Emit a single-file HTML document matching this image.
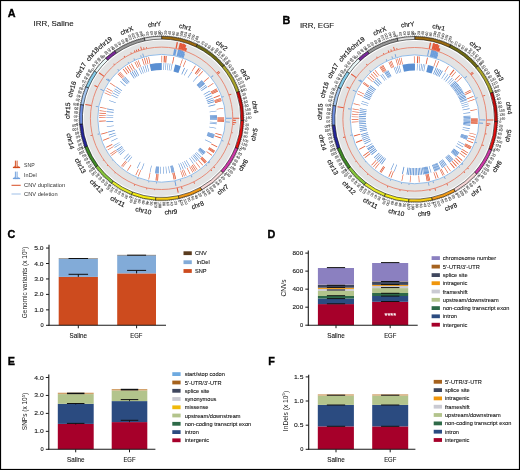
<!DOCTYPE html><html><head><meta charset="utf-8"><style>html,body{margin:0;padding:0;background:#fff;font-family:"Liberation Sans",sans-serif;}svg{display:block;will-change:transform;}</style></head><body><svg width="520" height="470" viewBox="0 0 520 470" font-family="Liberation Sans, sans-serif"><rect x="0.5" y="0.5" width="519" height="469" fill="#fff" stroke="#000" stroke-width="1.2"/>
<text x="7.7" y="17.2" font-size="10.8" font-family='"Liberation Sans", sans-serif' font-weight="bold" stroke="#000" stroke-width="0.35">A</text>
<text x="282.6" y="24" font-size="10.8" font-family='"Liberation Sans", sans-serif' font-weight="bold" stroke="#000" stroke-width="0.35">B</text>
<text x="33.5" y="26.2" font-size="7.95" fill="#1a1a1a" stroke="#1a1a1a" stroke-width="0.12" font-family='"Liberation Sans", sans-serif'>IRR, Saline</text>
<text x="299.9" y="28.3" font-size="7.9" fill="#1a1a1a" stroke="#1a1a1a" stroke-width="0.12" font-family='"Liberation Sans", sans-serif'>IRR, EGF</text>
<g transform="translate(161.6 118.3) scale(1 1)">
<circle r="70.8" fill="none" stroke="#e3e3e3" stroke-width="13.8"/>
<path d="M0 -82.1A82.1 82.1 0 0 1 35.76 -73.9L34.49 -71.29A79.2 79.2 0 0 0 0 -79.2Z" fill="#9a6a12" stroke="#111" stroke-width="0.6"/>
<path d="M35.76 -73.9A82.1 82.1 0 0 1 62.78 -52.91L60.56 -51.04A79.2 79.2 0 0 0 34.49 -71.29Z" fill="#6e6a14" stroke="#111" stroke-width="0.6"/>
<path d="M62.78 -52.91A82.1 82.1 0 0 1 77.63 -26.71L74.89 -25.77A79.2 79.2 0 0 0 60.56 -51.04Z" fill="#a9a42a" stroke="#111" stroke-width="0.6"/>
<path d="M77.63 -26.71A82.1 82.1 0 0 1 82.06 2.41L79.17 2.33A79.2 79.2 0 0 0 74.89 -25.77Z" fill="#c40a0a" stroke="#111" stroke-width="0.6"/>
<path d="M82.06 2.41A82.1 82.1 0 0 1 76.26 30.41L73.57 29.33A79.2 79.2 0 0 0 79.17 2.33Z" fill="#e01010" stroke="#111" stroke-width="0.6"/>
<path d="M76.26 30.41A82.1 82.1 0 0 1 61.47 54.42L59.3 52.5A79.2 79.2 0 0 0 73.57 29.33Z" fill="#cc3aa8" stroke="#111" stroke-width="0.6"/>
<path d="M61.47 54.42A82.1 82.1 0 0 1 40.14 71.62L38.72 69.09A79.2 79.2 0 0 0 59.3 52.5Z" fill="#f6d6d6" stroke="#111" stroke-width="0.6"/>
<path d="M40.14 71.62A82.1 82.1 0 0 1 17.32 80.25L16.71 77.42A79.2 79.2 0 0 0 38.72 69.09Z" fill="#f09a18" stroke="#111" stroke-width="0.6"/>
<path d="M17.32 80.25A82.1 82.1 0 0 1 -6.12 81.87L-5.91 78.98A79.2 79.2 0 0 0 16.71 77.42Z" fill="#f7cc14" stroke="#111" stroke-width="0.6"/>
<path d="M-6.12 81.87A82.1 82.1 0 0 1 -30.14 76.37L-29.08 73.67A79.2 79.2 0 0 0 -5.91 78.98Z" fill="#f6ec10" stroke="#111" stroke-width="0.6"/>
<path d="M-30.14 76.37A82.1 82.1 0 0 1 -50.17 64.99L-48.4 62.69A79.2 79.2 0 0 0 -29.08 73.67Z" fill="#e2e82a" stroke="#111" stroke-width="0.6"/>
<path d="M-50.17 64.99A82.1 82.1 0 0 1 -66.02 48.8L-63.69 47.07A79.2 79.2 0 0 0 -48.4 62.69Z" fill="#86c43a" stroke="#111" stroke-width="0.6"/>
<path d="M-66.02 48.8A82.1 82.1 0 0 1 -76.87 28.83L-74.15 27.82A79.2 79.2 0 0 0 -63.69 47.07Z" fill="#3f8a26" stroke="#111" stroke-width="0.6"/>
<path d="M-76.87 28.83A82.1 82.1 0 0 1 -81.89 5.82L-79 5.61A79.2 79.2 0 0 0 -74.15 27.82Z" fill="#26269a" stroke="#111" stroke-width="0.6"/>
<path d="M-81.89 5.82A82.1 82.1 0 0 1 -80.93 -13.8L-78.07 -13.32A79.2 79.2 0 0 0 -79 5.61Z" fill="#6e8ee0" stroke="#111" stroke-width="0.6"/>
<path d="M-80.93 -13.8A82.1 82.1 0 0 1 -75.77 -31.62L-73.09 -30.5A79.2 79.2 0 0 0 -78.07 -13.32Z" fill="#a6c8f2" stroke="#111" stroke-width="0.6"/>
<path d="M-75.77 -31.62A82.1 82.1 0 0 1 -67.09 -47.32L-64.72 -45.65A79.2 79.2 0 0 0 -73.09 -30.5Z" fill="#86cdea" stroke="#111" stroke-width="0.6"/>
<path d="M-67.09 -47.32A82.1 82.1 0 0 1 -55.81 -60.22L-53.83 -58.09A79.2 79.2 0 0 0 -64.72 -45.65Z" fill="#eaf8f8" stroke="#111" stroke-width="0.6"/>
<path d="M-55.81 -60.22A82.1 82.1 0 0 1 -46.75 -67.49L-45.1 -65.11A79.2 79.2 0 0 0 -53.83 -58.09Z" fill="#7a2a9a" stroke="#111" stroke-width="0.6"/>
<path d="M-46.75 -67.49A82.1 82.1 0 0 1 -17.23 -80.27L-16.63 -77.44A79.2 79.2 0 0 0 -45.1 -65.11Z" fill="#9a9a9a" stroke="#111" stroke-width="0.6"/>
<path d="M-17.23 -80.27A82.1 82.1 0 0 1 -0 -82.1L-0 -79.2A79.2 79.2 0 0 0 -16.63 -77.44Z" fill="#dcdcdc" stroke="#111" stroke-width="0.6"/>
<path d="M0 -82.1L0 -83.1M1.89 -82.08L1.92 -83.08M3.78 -82.01L3.83 -83.01M5.67 -81.9L5.74 -82.9M7.56 -81.75L7.65 -82.75M9.44 -81.56L9.56 -82.55M11.32 -81.32L11.46 -82.31M13.19 -81.03L13.35 -82.02M15.06 -80.71L15.24 -81.69M16.91 -80.34L17.12 -81.32M18.76 -79.93L18.99 -80.9M20.6 -79.47L20.85 -80.44M22.42 -78.98L22.7 -79.94M24.24 -78.44L24.53 -79.4M26.04 -77.86L26.36 -78.81M27.83 -77.24L28.17 -78.18M29.6 -76.58L29.96 -77.51M31.36 -75.88L31.74 -76.8M33.1 -75.13L33.5 -76.05M34.82 -74.35L35.25 -75.26M35.76 -73.9L36.19 -74.8M37.45 -73.06L37.91 -73.95M39.13 -72.18L39.6 -73.06M40.78 -71.26L41.28 -72.12M42.41 -70.3L42.93 -71.15M44.02 -69.3L44.56 -70.15M45.61 -68.27L46.16 -69.1M47.17 -67.2L47.74 -68.02M48.7 -66.09L49.3 -66.9M50.21 -64.95L50.83 -65.74M51.7 -63.78L52.33 -64.56M53.15 -62.57L53.8 -63.33M54.58 -61.33L55.25 -62.08M55.98 -60.05L56.66 -60.79M57.35 -58.75L58.05 -59.46M58.69 -57.41L59.4 -58.11M60 -56.04L60.73 -56.72M61.27 -54.64L62.02 -55.31M62.52 -53.22L63.28 -53.87M62.78 -52.91L63.54 -53.56M63.98 -51.45L64.76 -52.08M65.15 -49.96L65.94 -50.57M66.28 -48.45L67.09 -49.04M67.38 -46.91L68.2 -47.48M68.44 -45.34L69.28 -45.89M69.47 -43.75L70.32 -44.28M70.46 -42.14L71.32 -42.65M71.41 -40.5L72.28 -41M72.33 -38.85L73.21 -39.32M73.2 -37.17L74.1 -37.62M74.04 -35.47L74.94 -35.9M74.84 -33.75L75.75 -34.17M75.6 -32.02L76.52 -32.41M76.32 -30.27L77.25 -30.64M76.99 -28.5L77.93 -28.85M77.63 -26.72L78.58 -27.05M77.63 -26.71L78.58 -27.04M78.23 -24.92L79.18 -25.22M78.78 -23.11L79.74 -23.39M79.29 -21.28L80.26 -21.54M79.76 -19.45L80.73 -19.69M80.19 -17.61L81.17 -17.82M80.57 -15.75L81.56 -15.95M80.92 -13.89L81.9 -14.06M81.21 -12.02L82.2 -12.17M81.47 -10.15L82.46 -10.27M81.68 -8.27L82.68 -8.37M81.85 -6.38L82.85 -6.46M81.98 -4.49L82.98 -4.55M82.06 -2.6L83.06 -2.63M82.1 -0.71L83.1 -0.72M82.09 1.18L83.09 1.2M82.06 2.41L83.06 2.44M81.99 4.3L82.99 4.36M81.87 6.19L82.86 6.27M81.7 8.08L82.7 8.18M81.49 9.96L82.49 10.08M81.24 11.84L82.23 11.98M80.95 13.71L81.93 13.87M80.61 15.57L81.59 15.76M80.23 17.42L81.21 17.63M79.81 19.27L80.78 19.5M79.34 21.1L80.31 21.36M78.83 22.92L79.79 23.2M78.29 24.74L79.24 25.04M77.69 26.53L78.64 26.86M77.06 28.32L78 28.66M76.39 30.09L77.32 30.45M76.26 30.41L77.19 30.78M75.54 32.16L76.46 32.55M74.78 33.89L75.69 34.3M73.98 35.61L74.88 36.04M73.14 37.3L74.03 37.76M72.26 38.98L73.14 39.45M71.34 40.63L72.21 41.13M70.38 42.27L71.24 42.78M69.39 43.88L70.24 44.41M68.36 45.47L69.19 46.02M67.3 47.03L68.11 47.6M66.19 48.57L67 49.16M65.06 50.08L65.85 50.69M63.88 51.57L64.66 52.2M62.68 53.03L63.44 53.67M61.47 54.42L62.22 55.08M60.2 55.82L60.93 56.5M58.9 57.2L59.62 57.89M57.56 58.54L58.27 59.25M56.2 59.85L56.88 60.58M54.81 61.13L55.47 61.87M53.38 62.38L54.03 63.14M51.93 63.59L52.56 64.36M50.45 64.77L51.06 65.56M48.94 65.92L49.54 66.72M47.41 67.03L47.99 67.84M45.85 68.1L46.41 68.93M44.27 69.14L44.81 69.98M42.67 70.14L43.19 71M41.04 71.11L41.54 71.97M40.14 71.62L40.63 72.49M38.48 72.52L38.95 73.41M36.8 73.39L37.25 74.28M35.1 74.22L35.53 75.12M33.38 75.01L33.78 75.92M31.64 75.76L32.02 76.68M29.88 76.47L30.25 77.4M28.11 77.14L28.46 78.08M26.33 77.76L26.65 78.71M24.53 78.35L24.83 79.3M22.72 78.89L22.99 79.86M20.89 79.4L21.15 80.36M19.06 79.86L19.29 80.83M17.32 80.25L17.53 81.23M15.47 80.63L15.66 81.61M13.6 80.97L13.77 81.95M11.73 81.26L11.88 82.25M9.86 81.51L9.98 82.5M7.98 81.71L8.07 82.71M6.09 81.87L6.16 82.87M4.2 81.99L4.25 82.99M2.31 82.07L2.34 83.07M0.42 82.1L0.42 83.1M-1.47 82.09L-1.49 83.09M-3.37 82.03L-3.41 83.03M-5.26 81.93L-5.32 82.93M-6.12 81.87L-6.2 82.87M-8.01 81.71L-8.11 82.7M-9.89 81.5L-10.01 82.49M-11.77 81.25L-11.91 82.24M-13.64 80.96L-13.8 81.95M-15.5 80.62L-15.69 81.61M-17.35 80.24L-17.57 81.22M-19.2 79.82L-19.43 80.8M-21.03 79.36L-21.29 80.33M-22.86 78.85L-23.14 79.81M-24.67 78.31L-24.97 79.26M-26.47 77.72L-26.79 78.66M-28.25 77.09L-28.6 78.02M-30.02 76.41L-30.39 77.34M-30.14 76.37L-30.51 77.3M-31.9 75.65L-32.28 76.57M-33.63 74.9L-34.04 75.81M-35.35 74.1L-35.78 75M-37.05 73.27L-37.5 74.16M-38.73 72.39L-39.2 73.27M-40.39 71.48L-40.88 72.35M-42.02 70.53L-42.53 71.39M-43.64 69.54L-44.17 70.39M-45.23 68.52L-45.78 69.35M-46.8 67.46L-47.37 68.28M-48.34 66.36L-48.93 67.17M-49.86 65.23L-50.46 66.02M-50.17 64.99L-50.78 65.78M-51.65 63.82L-52.28 64.59M-53.11 62.61L-53.76 63.37M-54.54 61.37L-55.2 62.11M-55.94 60.09L-56.62 60.83M-57.31 58.79L-58.01 59.5M-58.65 57.45L-59.36 58.15M-59.96 56.08L-60.69 56.77M-61.23 54.69L-61.98 55.35M-62.48 53.26L-63.24 53.91M-63.69 51.81L-64.47 52.44M-64.87 50.33L-65.66 50.94M-66.01 48.82L-66.81 49.41M-66.02 48.8L-66.83 49.39M-67.13 47.26L-67.95 47.84M-68.2 45.7L-69.03 46.26M-69.24 44.12L-70.08 44.65M-70.24 42.51L-71.09 43.03M-71.2 40.88L-72.07 41.38M-72.12 39.23L-73 39.71M-73.01 37.55L-73.9 38.01M-73.85 35.86L-74.75 36.3M-74.66 34.15L-75.57 34.57M-75.43 32.42L-76.35 32.81M-76.16 30.67L-77.08 31.05M-76.84 28.91L-77.78 29.26M-76.87 28.83L-77.81 29.19M-77.51 27.05L-78.46 27.38M-78.12 25.26L-79.07 25.57M-78.68 23.45L-79.64 23.74M-79.2 21.63L-80.16 21.9M-79.68 19.8L-80.65 20.04M-80.11 17.96L-81.09 18.18M-80.5 16.11L-81.48 16.3M-80.85 14.25L-81.84 14.42M-81.16 12.38L-82.15 12.53M-81.42 10.51L-82.42 10.63M-81.65 8.63L-82.64 8.73M-81.82 6.74L-82.82 6.82M-81.89 5.82L-82.89 5.89M-82.01 3.93L-83 3.98M-82.07 2.04L-83.07 2.06M-82.1 0.14L-83.1 0.15M-82.08 -1.75L-83.08 -1.77M-82.02 -3.64L-83.02 -3.68M-81.91 -5.53L-82.91 -5.6M-81.76 -7.42L-82.76 -7.51M-81.57 -9.3L-82.57 -9.41M-81.34 -11.18L-82.33 -11.31M-81.06 -13.05L-82.04 -13.21M-80.93 -13.8L-81.92 -13.97M-80.59 -15.66L-81.57 -15.86M-80.21 -17.52L-81.19 -17.73M-79.78 -19.36L-80.76 -19.6M-79.32 -21.2L-80.28 -21.45M-78.81 -23.02L-79.77 -23.3M-78.26 -24.83L-79.21 -25.13M-77.66 -26.63L-78.61 -26.95M-77.03 -28.41L-77.97 -28.76M-76.35 -30.18L-77.28 -30.55M-75.77 -31.62L-76.69 -32M-75.02 -33.36L-75.93 -33.76M-74.23 -35.08L-75.13 -35.5M-73.4 -36.78L-74.3 -37.23M-72.53 -38.46L-73.42 -38.93M-71.63 -40.12L-72.5 -40.61M-70.68 -41.76L-71.55 -42.27M-69.7 -43.38L-70.55 -43.91M-68.68 -44.98L-69.52 -45.52M-67.63 -46.55L-68.45 -47.11M-67.09 -47.32L-67.91 -47.9M-65.98 -48.86L-66.78 -49.45M-64.84 -50.36L-65.63 -50.98M-63.66 -51.85L-64.43 -52.48M-62.45 -53.3L-63.21 -53.95M-61.2 -54.72L-61.95 -55.39M-59.92 -56.12L-60.65 -56.8M-58.61 -57.49L-59.33 -58.19M-57.27 -58.82L-57.97 -59.54M-55.9 -60.13L-56.58 -60.86M-55.81 -60.22L-56.49 -60.95M-54.4 -61.49L-55.07 -62.24M-52.97 -62.73L-53.62 -63.49M-51.51 -63.93L-52.14 -64.71M-50.02 -65.1L-50.63 -65.89M-48.51 -66.24L-49.1 -67.04M-46.97 -67.34L-47.54 -68.16M-46.75 -67.49L-47.32 -68.31M-45.18 -68.55L-45.73 -69.39M-43.59 -69.57L-44.12 -70.42M-41.97 -70.56L-42.48 -71.42M-40.33 -71.51L-40.83 -72.38M-38.68 -72.42L-39.15 -73.3M-37 -73.29L-37.45 -74.18M-35.3 -74.13L-35.73 -75.03M-33.58 -74.92L-33.99 -75.83M-31.84 -75.67L-32.23 -76.6M-30.09 -76.39L-30.46 -77.32M-28.32 -77.06L-28.67 -78M-26.54 -77.69L-26.86 -78.64M-24.74 -78.28L-25.04 -79.24M-22.93 -78.83L-23.21 -79.79M-21.1 -79.34L-21.36 -80.31M-19.27 -79.81L-19.5 -80.78M-17.42 -80.23L-17.64 -81.21M-17.23 -80.27L-17.44 -81.25M-15.38 -80.65L-15.57 -81.63M-13.52 -80.98L-13.68 -81.97M-11.65 -81.27L-11.79 -82.26M-9.77 -81.52L-9.89 -82.51M-7.89 -81.72L-7.98 -82.72M-6 -81.88L-6.08 -82.88M-4.11 -82L-4.16 -83M-2.22 -82.07L-2.25 -83.07M-0.33 -82.1L-0.33 -83.1" stroke="#222" stroke-width="0.4" fill="none"/>
<g font-size="3.6" fill="#3c3c3c" stroke="#4a4a4a" stroke-width="0.1" font-family='"Liberation Sans", sans-serif'><text transform="translate(0 -83.8) rotate(-90)" dy="1.3">0</text><text transform="translate(3.86 -83.71) rotate(-87.36)" dy="1.3">20</text><text transform="translate(7.72 -83.44) rotate(-84.72)" dy="1.3">40</text><text transform="translate(11.55 -83) rotate(-82.07)" dy="1.3">60</text><text transform="translate(15.37 -82.38) rotate(-79.43)" dy="1.3">80</text><text transform="translate(19.15 -81.58) rotate(-76.79)" dy="1.3">100</text><text transform="translate(22.89 -80.61) rotate(-74.15)" dy="1.3">120</text><text transform="translate(26.58 -79.47) rotate(-71.51)" dy="1.3">140</text><text transform="translate(30.21 -78.16) rotate(-68.87)" dy="1.3">160</text><text transform="translate(33.78 -76.69) rotate(-66.22)" dy="1.3">180</text><text transform="translate(36.5 -75.43) rotate(-64.18)" dy="1.3">0</text><text transform="translate(39.94 -73.67) rotate(-61.54)" dy="1.3">20</text><text transform="translate(43.29 -71.75) rotate(-58.9)" dy="1.3">40</text><text transform="translate(46.55 -69.68) rotate(-56.26)" dy="1.3">60</text><text transform="translate(49.71 -67.46) rotate(-53.61)" dy="1.3">80</text><text transform="translate(52.77 -65.1) rotate(-50.97)" dy="1.3">100</text><text transform="translate(55.71 -62.6) rotate(-48.33)" dy="1.3">120</text><text transform="translate(58.54 -59.96) rotate(-45.69)" dy="1.3">140</text><text transform="translate(61.24 -57.2) rotate(-43.05)" dy="1.3">160</text><text transform="translate(63.81 -54.32) rotate(-40.41)" dy="1.3">180</text><text transform="translate(64.07 -54.01) rotate(-40.13)" dy="1.3">0</text><text transform="translate(66.5 -51) rotate(-37.49)" dy="1.3">20</text><text transform="translate(68.78 -47.88) rotate(-34.84)" dy="1.3">40</text><text transform="translate(70.91 -44.66) rotate(-32.2)" dy="1.3">60</text><text transform="translate(72.89 -41.34) rotate(-29.56)" dy="1.3">80</text><text transform="translate(74.72 -37.94) rotate(-26.92)" dy="1.3">100</text><text transform="translate(76.39 -34.45) rotate(-24.28)" dy="1.3">120</text><text transform="translate(77.9 -30.9) rotate(-21.64)" dy="1.3">140</text><text transform="translate(79.24 -27.27) rotate(-18.99)" dy="1.3">160</text><text transform="translate(79.24 -27.27) rotate(-18.99)" dy="1.3">0</text><text transform="translate(80.41 -23.58) rotate(-16.35)" dy="1.3">20</text><text transform="translate(81.41 -19.85) rotate(-13.7)" dy="1.3">40</text><text transform="translate(82.24 -16.08) rotate(-11.06)" dy="1.3">60</text><text transform="translate(82.9 -12.27) rotate(-8.42)" dy="1.3">80</text><text transform="translate(83.37 -8.44) rotate(-5.78)" dy="1.3">100</text><text transform="translate(83.67 -4.59) rotate(-3.14)" dy="1.3">120</text><text transform="translate(83.8 -0.73) rotate(-0.5)" dy="1.3">140</text><text transform="translate(83.76 2.46) rotate(1.68)" dy="1.3">0</text><text transform="translate(83.56 6.32) rotate(4.33)" dy="1.3">20</text><text transform="translate(83.18 10.17) rotate(6.97)" dy="1.3">40</text><text transform="translate(82.62 13.99) rotate(9.61)" dy="1.3">60</text><text transform="translate(81.89 17.78) rotate(12.25)" dy="1.3">80</text><text transform="translate(80.98 21.54) rotate(14.89)" dy="1.3">100</text><text transform="translate(79.91 25.25) rotate(17.54)" dy="1.3">120</text><text transform="translate(78.66 28.9) rotate(20.18)" dy="1.3">140</text><text transform="translate(77.84 31.04) rotate(21.74)" dy="1.3">0</text><text transform="translate(76.33 34.59) rotate(24.38)" dy="1.3">20</text><text transform="translate(74.65 38.07) rotate(27.02)" dy="1.3">40</text><text transform="translate(72.82 41.47) rotate(29.66)" dy="1.3">60</text><text transform="translate(70.83 44.79) rotate(32.31)" dy="1.3">80</text><text transform="translate(68.69 48) rotate(34.95)" dy="1.3">100</text><text transform="translate(66.4 51.12) rotate(37.59)" dy="1.3">120</text><text transform="translate(63.98 54.12) rotate(40.23)" dy="1.3">140</text><text transform="translate(62.75 55.55) rotate(41.52)" dy="1.3">0</text><text transform="translate(60.12 58.38) rotate(44.16)" dy="1.3">20</text><text transform="translate(57.36 61.09) rotate(46.8)" dy="1.3">40</text><text transform="translate(54.49 63.67) rotate(49.44)" dy="1.3">60</text><text transform="translate(51.49 66.11) rotate(52.08)" dy="1.3">80</text><text transform="translate(48.39 68.41) rotate(54.73)" dy="1.3">100</text><text transform="translate(45.19 70.57) rotate(57.37)" dy="1.3">120</text><text transform="translate(41.89 72.58) rotate(60.01)" dy="1.3">140</text><text transform="translate(40.97 73.1) rotate(60.73)" dy="1.3">0</text><text transform="translate(37.56 74.91) rotate(63.37)" dy="1.3">20</text><text transform="translate(34.07 76.56) rotate(66.01)" dy="1.3">40</text><text transform="translate(30.5 78.05) rotate(68.65)" dy="1.3">60</text><text transform="translate(26.87 79.37) rotate(71.3)" dy="1.3">80</text><text transform="translate(23.19 80.53) rotate(73.94)" dy="1.3">100</text><text transform="translate(19.45 81.51) rotate(76.58)" dy="1.3">120</text><text transform="translate(17.68 81.91) rotate(77.82)" dy="1.3">0</text><text transform="translate(13.89 82.64) rotate(80.46)" dy="1.3">20</text><text transform="translate(10.06 83.19) rotate(83.1)" dy="1.3">40</text><text transform="translate(6.22 83.57) rotate(85.75)" dy="1.3">60</text><text transform="translate(2.36 83.77) rotate(88.39)" dy="1.3">80</text><text transform="translate(-1.5 83.79) rotate(91.03)" dy="1.3">100</text><text transform="translate(-5.36 83.63) rotate(93.67)" dy="1.3">120</text><text transform="translate(-6.25 83.57) rotate(94.28)" dy="1.3">0</text><text transform="translate(-10.1 83.19) rotate(96.92)" dy="1.3">20</text><text transform="translate(-13.92 82.64) rotate(99.56)" dy="1.3">40</text><text transform="translate(-17.71 81.91) rotate(102.2)" dy="1.3">60</text><text transform="translate(-21.47 81) rotate(104.85)" dy="1.3">80</text><text transform="translate(-25.18 79.93) rotate(107.49)" dy="1.3">100</text><text transform="translate(-28.84 78.68) rotate(110.13)" dy="1.3">120</text><text transform="translate(-30.77 77.95) rotate(111.54)" dy="1.3">0</text><text transform="translate(-34.33 76.45) rotate(114.18)" dy="1.3">20</text><text transform="translate(-37.81 74.78) rotate(116.82)" dy="1.3">40</text><text transform="translate(-41.22 72.96) rotate(119.47)" dy="1.3">60</text><text transform="translate(-44.54 70.98) rotate(122.11)" dy="1.3">80</text><text transform="translate(-47.76 68.85) rotate(124.75)" dy="1.3">100</text><text transform="translate(-50.89 66.58) rotate(127.39)" dy="1.3">120</text><text transform="translate(-51.21 66.34) rotate(127.67)" dy="1.3">0</text><text transform="translate(-54.21 63.9) rotate(130.31)" dy="1.3">20</text><text transform="translate(-57.1 61.34) rotate(132.95)" dy="1.3">40</text><text transform="translate(-59.86 58.64) rotate(135.59)" dy="1.3">60</text><text transform="translate(-62.5 55.82) rotate(138.23)" dy="1.3">80</text><text transform="translate(-65.01 52.88) rotate(140.87)" dy="1.3">100</text><text transform="translate(-67.38 49.83) rotate(143.52)" dy="1.3">120</text><text transform="translate(-67.39 49.81) rotate(143.53)" dy="1.3">0</text><text transform="translate(-69.62 46.65) rotate(146.17)" dy="1.3">20</text><text transform="translate(-71.69 43.39) rotate(148.82)" dy="1.3">40</text><text transform="translate(-73.62 40.04) rotate(151.46)" dy="1.3">60</text><text transform="translate(-75.38 36.6) rotate(154.1)" dy="1.3">80</text><text transform="translate(-76.99 33.09) rotate(156.74)" dy="1.3">100</text><text transform="translate(-78.43 29.51) rotate(159.38)" dy="1.3">120</text><text transform="translate(-78.46 29.43) rotate(159.44)" dy="1.3">0</text><text transform="translate(-79.73 25.78) rotate(162.08)" dy="1.3">20</text><text transform="translate(-80.84 22.08) rotate(164.72)" dy="1.3">40</text><text transform="translate(-81.77 18.33) rotate(167.36)" dy="1.3">60</text><text transform="translate(-82.53 14.54) rotate(170.01)" dy="1.3">80</text><text transform="translate(-83.11 10.72) rotate(172.65)" dy="1.3">100</text><text transform="translate(-83.52 6.88) rotate(175.29)" dy="1.3">120</text><text transform="translate(-83.59 5.94) rotate(175.94)" dy="1.3">0</text><text transform="translate(-83.77 2.08) rotate(178.58)" dy="1.3">20</text><text transform="translate(-83.78 -1.78) rotate(181.22)" dy="1.3">40</text><text transform="translate(-83.61 -5.64) rotate(183.86)" dy="1.3">60</text><text transform="translate(-83.26 -9.49) rotate(186.5)" dy="1.3">80</text><text transform="translate(-82.73 -13.32) rotate(189.14)" dy="1.3">100</text><text transform="translate(-82.61 -14.09) rotate(189.68)" dy="1.3">0</text><text transform="translate(-81.87 -17.88) rotate(192.32)" dy="1.3">20</text><text transform="translate(-80.96 -21.64) rotate(194.96)" dy="1.3">40</text><text transform="translate(-79.88 -25.34) rotate(197.6)" dy="1.3">60</text><text transform="translate(-78.62 -29) rotate(200.25)" dy="1.3">80</text><text transform="translate(-77.34 -32.27) rotate(202.65)" dy="1.3">0</text><text transform="translate(-75.77 -35.8) rotate(205.29)" dy="1.3">20</text><text transform="translate(-74.04 -39.26) rotate(207.93)" dy="1.3">40</text><text transform="translate(-72.15 -42.63) rotate(210.58)" dy="1.3">60</text><text transform="translate(-70.11 -45.91) rotate(213.22)" dy="1.3">80</text><text transform="translate(-68.48 -48.3) rotate(215.2)" dy="1.3">0</text><text transform="translate(-66.18 -51.41) rotate(217.84)" dy="1.3">20</text><text transform="translate(-63.74 -54.4) rotate(220.48)" dy="1.3">40</text><text transform="translate(-61.16 -57.28) rotate(223.12)" dy="1.3">60</text><text transform="translate(-58.46 -60.04) rotate(225.76)" dy="1.3">80</text><text transform="translate(-56.96 -61.46) rotate(227.18)" dy="1.3">0</text><text transform="translate(-54.07 -64.02) rotate(229.82)" dy="1.3">20</text><text transform="translate(-51.06 -66.45) rotate(232.46)" dy="1.3">40</text><text transform="translate(-47.94 -68.73) rotate(235.1)" dy="1.3">60</text><text transform="translate(-47.72 -68.89) rotate(235.29)" dy="1.3">0</text><text transform="translate(-44.49 -71.01) rotate(237.93)" dy="1.3">20</text><text transform="translate(-41.17 -72.99) rotate(240.58)" dy="1.3">40</text><text transform="translate(-37.76 -74.81) rotate(243.22)" dy="1.3">60</text><text transform="translate(-34.27 -76.47) rotate(245.86)" dy="1.3">80</text><text transform="translate(-30.71 -77.97) rotate(248.5)" dy="1.3">100</text><text transform="translate(-27.09 -79.3) rotate(251.14)" dy="1.3">120</text><text transform="translate(-23.4 -80.47) rotate(253.78)" dy="1.3">140</text><text transform="translate(-19.67 -81.46) rotate(256.43)" dy="1.3">160</text><text transform="translate(-17.59 -81.93) rotate(257.88)" dy="1.3">0</text><text transform="translate(-13.8 -82.66) rotate(260.52)" dy="1.3">20</text><text transform="translate(-9.97 -83.2) rotate(263.17)" dy="1.3">40</text><text transform="translate(-6.13 -83.58) rotate(265.81)" dy="1.3">60</text><text transform="translate(-2.27 -83.77) rotate(268.45)" dy="1.3">80</text></g>
<text transform="translate(20.55 -89.67) rotate(12.91)" text-anchor="middle" dx="2.9" font-size="6.5" fill="#1a1a1a" stroke="#1a1a1a" stroke-width="0.18" font-family='"Liberation Sans", sans-serif'>chr1</text>
<text transform="translate(56.45 -72.65) rotate(37.85)" text-anchor="middle" dx="2.9" font-size="6.5" fill="#1a1a1a" stroke="#1a1a1a" stroke-width="0.18" font-family='"Liberation Sans", sans-serif'>chr2</text>
<text transform="translate(80.03 -45.38) rotate(60.44)" text-anchor="middle" dx="2.9" font-size="6.5" fill="#1a1a1a" stroke="#1a1a1a" stroke-width="0.18" font-family='"Liberation Sans", sans-serif'>chr3</text>
<text transform="translate(90.95 -13.84) rotate(81.35)" text-anchor="middle" dx="2.9" font-size="6.5" fill="#1a1a1a" stroke="#1a1a1a" stroke-width="0.18" font-family='"Liberation Sans", sans-serif'>chr4</text>
<text transform="translate(94.2 19.53) rotate(-78.29)" text-anchor="middle" dx="2.9" font-size="6.5" fill="#1a1a1a" stroke="#1a1a1a" stroke-width="0.18" font-family='"Liberation Sans", sans-serif'>chr5</text>
<text transform="translate(81.91 50.45) rotate(-58.37)" text-anchor="middle" dx="2.9" font-size="6.5" fill="#1a1a1a" stroke="#1a1a1a" stroke-width="0.18" font-family='"Liberation Sans", sans-serif'>chr6</text>
<text transform="translate(60.38 74.89) rotate(-38.88)" text-anchor="middle" dx="2.9" font-size="6.5" fill="#1a1a1a" stroke="#1a1a1a" stroke-width="0.18" font-family='"Liberation Sans", sans-serif'>chr7</text>
<text transform="translate(34.04 89.97) rotate(-20.73)" text-anchor="middle" dx="2.9" font-size="6.5" fill="#1a1a1a" stroke="#1a1a1a" stroke-width="0.18" font-family='"Liberation Sans", sans-serif'>chr8</text>
<text transform="translate(6.63 95.97) rotate(-3.95)" text-anchor="middle" dx="2.9" font-size="6.5" fill="#1a1a1a" stroke="#1a1a1a" stroke-width="0.18" font-family='"Liberation Sans", sans-serif'>chr9</text>
<text transform="translate(-21.49 93.77) rotate(12.91)" text-anchor="middle" dx="2.9" font-size="6.5" fill="#1a1a1a" stroke="#1a1a1a" stroke-width="0.18" font-family='"Liberation Sans", sans-serif'>chr10</text>
<text transform="translate(-47.52 83.64) rotate(29.6)" text-anchor="middle" dx="2.9" font-size="6.5" fill="#1a1a1a" stroke="#1a1a1a" stroke-width="0.18" font-family='"Liberation Sans", sans-serif'>chr11</text>
<text transform="translate(-68.73 67.31) rotate(45.6)" text-anchor="middle" dx="2.9" font-size="6.5" fill="#1a1a1a" stroke="#1a1a1a" stroke-width="0.18" font-family='"Liberation Sans", sans-serif'>chr12</text>
<text transform="translate(-84.53 45.92) rotate(61.49)" text-anchor="middle" dx="2.9" font-size="6.5" fill="#1a1a1a" stroke="#1a1a1a" stroke-width="0.18" font-family='"Liberation Sans", sans-serif'>chr13</text>
<text transform="translate(-93.99 20.51) rotate(77.69)" text-anchor="middle" dx="2.9" font-size="6.5" fill="#1a1a1a" stroke="#1a1a1a" stroke-width="0.18" font-family='"Liberation Sans", sans-serif'>chr14</text>
<text transform="translate(-91.89 -4.51) rotate(-87.19)" text-anchor="middle" dx="2.9" font-size="6.5" fill="#1a1a1a" stroke="#1a1a1a" stroke-width="0.18" font-family='"Liberation Sans", sans-serif'>chr15</text>
<text transform="translate(-88.36 -25.61) rotate(-73.84)" text-anchor="middle" dx="2.9" font-size="6.5" fill="#1a1a1a" stroke="#1a1a1a" stroke-width="0.18" font-family='"Liberation Sans", sans-serif'>chr16</text>
<text transform="translate(-80.52 -44.5) rotate(-61.08)" text-anchor="middle" dx="2.9" font-size="6.5" fill="#1a1a1a" stroke="#1a1a1a" stroke-width="0.18" font-family='"Liberation Sans", sans-serif'>chr17</text>
<text transform="translate(-69.24 -60.58) rotate(-48.81)" text-anchor="middle" dx="2.9" font-size="6.5" fill="#1a1a1a" stroke="#1a1a1a" stroke-width="0.18" font-family='"Liberation Sans", sans-serif'>chr18</text>
<text transform="translate(-57.6 -71.73) rotate(-38.77)" text-anchor="middle" dx="2.9" font-size="6.5" fill="#1a1a1a" stroke="#1a1a1a" stroke-width="0.18" font-family='"Liberation Sans", sans-serif'>chr19</text>
<text transform="translate(-36.56 -84.43) rotate(-23.41)" text-anchor="middle" dx="2.9" font-size="6.5" fill="#1a1a1a" stroke="#1a1a1a" stroke-width="0.18" font-family='"Liberation Sans", sans-serif'>chrX</text>
<text transform="translate(-9.71 -91.49) rotate(-6.06)" text-anchor="middle" dx="2.9" font-size="6.5" fill="#1a1a1a" stroke="#1a1a1a" stroke-width="0.18" font-family='"Liberation Sans", sans-serif'>chrY</text>
<path d="M15.09 -76.22A77.7 77.7 0 0 1 16.42 -75.95L15.05 -69.59A71.2 71.2 0 0 0 13.83 -69.84Z" fill="#e4583a"/>
<path d="M18.23 -75.63A77.8 77.8 0 0 1 20.2 -75.13L18.49 -68.76A71.2 71.2 0 0 0 16.68 -69.22Z" fill="#e4583a"/>
<path d="M19.71 -74.85A77.4 77.4 0 0 1 21.66 -74.31L19.92 -68.36A71.2 71.2 0 0 0 18.13 -68.85Z" fill="#e4583a"/>
<path d="M21.38 -74.8A77.8 77.8 0 0 1 23.33 -74.22L21.35 -67.92A71.2 71.2 0 0 0 19.57 -68.46Z" fill="#e4583a"/>
<path d="M22.76 -73.77A77.2 77.2 0 0 1 24.69 -73.15L22.77 -67.46A71.2 71.2 0 0 0 21 -68.03Z" fill="#e4583a"/>
<path d="M23.42 -70.62A74.4 74.4 0 0 1 25.51 -69.89L24.41 -66.88A71.2 71.2 0 0 0 22.42 -67.58Z" fill="#e4583a"/>
<path d="M57.13 -47.35A74.2 74.2 0 0 1 57.7 -46.65L55.37 -44.76A71.2 71.2 0 0 0 54.82 -45.43Z" fill="#e4583a"/>
<path d="M58.03 -46.24A74.2 74.2 0 0 1 58.59 -45.53L56.22 -43.69A71.2 71.2 0 0 0 55.68 -44.37Z" fill="#e4583a"/>
<path d="M69.59 -24.57A73.8 73.8 0 0 1 69.88 -23.72L67.42 -22.89A71.2 71.2 0 0 0 67.14 -23.71Z" fill="#e4583a"/>
<path d="M77.7 -0.54A77.7 77.7 0 0 1 77.7 0.54L71.2 0.5A71.2 71.2 0 0 0 71.2 -0.5Z" fill="#e4583a"/>
<path d="M74.18 1.55A74.2 74.2 0 0 1 74.15 2.59L71.16 2.48A71.2 71.2 0 0 0 71.18 1.49Z" fill="#e4583a"/>
<path d="M74.6 3.91A74.7 74.7 0 0 1 74.54 4.95L71.04 4.72A71.2 71.2 0 0 0 71.1 3.73Z" fill="#e4583a"/>
<path d="M72.98 5.68A73.2 73.2 0 0 1 72.9 6.57L70.91 6.39A71.2 71.2 0 0 0 70.99 5.52Z" fill="#e4583a"/>
<path d="M71.3 14.18A72.7 72.7 0 0 1 71.12 15.05L69.66 14.74A71.2 71.2 0 0 0 69.83 13.89Z" fill="#e4583a"/>
<path d="M68.59 25.58A73.2 73.2 0 0 1 68.27 26.41L66.4 25.69A71.2 71.2 0 0 0 66.71 24.88Z" fill="#e4583a"/>
<path d="M53.47 49.26A72.7 72.7 0 0 1 52.87 49.91L51.77 48.88A71.2 71.2 0 0 0 52.37 48.24Z" fill="#e4583a"/>
<path d="M50.55 52.25A72.7 72.7 0 0 1 49.91 52.87L48.88 51.77A71.2 71.2 0 0 0 49.5 51.17Z" fill="#e4583a"/>
<path d="M33.4 65.13A73.2 73.2 0 0 1 32.6 65.54L31.71 63.75A71.2 71.2 0 0 0 32.49 63.35Z" fill="#e4583a"/>
<path d="M20.99 70.65A73.7 73.7 0 0 1 20.13 70.9L19.45 68.49A71.2 71.2 0 0 0 20.28 68.25Z" fill="#e4583a"/>
<path d="M17.14 74.25A76.2 76.2 0 0 1 16.1 74.48L15.05 69.59A71.2 71.2 0 0 0 16.02 69.38Z" fill="#e4583a"/>
<path d="M-6.61 71.9A72.2 72.2 0 0 1 -7.48 71.81L-7.38 70.82A71.2 71.2 0 0 0 -6.51 70.9Z" fill="#e4583a"/>
<path d="M-14.56 71.23A72.7 72.7 0 0 1 -15.43 71.04L-15.11 69.58A71.2 71.2 0 0 0 -14.26 69.76Z" fill="#e4583a"/>
<path d="M-26.94 67.52A72.7 72.7 0 0 1 -27.76 67.19L-27.19 65.8A71.2 71.2 0 0 0 -26.38 66.13Z" fill="#e4583a"/>
<path d="M-46.55 55.19A72.2 72.2 0 0 1 -47.22 54.61L-46.57 53.86A71.2 71.2 0 0 0 -45.91 54.42Z" fill="#e4583a"/>
<path d="M-54.2 47.7A72.2 72.2 0 0 1 -54.78 47.03L-54.02 46.38A71.2 71.2 0 0 0 -53.45 47.04Z" fill="#e4583a"/>
<path d="M-58.45 42.39A72.2 72.2 0 0 1 -58.96 41.67L-58.14 41.09A71.2 71.2 0 0 0 -57.64 41.8Z" fill="#e4583a"/>
<path d="M-71.01 17.77A73.2 73.2 0 0 1 -71.22 16.9L-69.28 16.44A71.2 71.2 0 0 0 -69.07 17.29Z" fill="#e4583a"/>
<path d="M-76.35 -13.32A77.5 77.5 0 0 1 -76.15 -14.39L-69.96 -13.22A71.2 71.2 0 0 0 -70.14 -12.24Z" fill="#e4583a"/>
<path d="M-67.31 -32.39A74.7 74.7 0 0 1 -66.85 -33.33L-63.72 -31.77A71.2 71.2 0 0 0 -64.16 -30.88Z" fill="#e4583a"/>
<path d="M-62.86 -45.17A77.4 77.4 0 0 1 -62.22 -46.04L-57.23 -42.35A71.2 71.2 0 0 0 -57.82 -41.55Z" fill="#e4583a"/>
<path d="M-48.31 -54.32A72.7 72.7 0 0 1 -47.65 -54.91L-46.66 -53.78A71.2 71.2 0 0 0 -47.32 -53.2Z" fill="#e4583a"/>
<path d="M-37.93 -62.02A72.7 72.7 0 0 1 -37.17 -62.48L-36.4 -61.19A71.2 71.2 0 0 0 -37.15 -60.74Z" fill="#e4583a"/>
<path d="M-31.24 -65.65A72.7 72.7 0 0 1 -30.44 -66.02L-29.81 -64.66A71.2 71.2 0 0 0 -30.6 -64.29Z" fill="#e4583a"/>
<path d="M-27.72 -67.75A73.2 73.2 0 0 1 -26.89 -68.08L-26.15 -66.22A71.2 71.2 0 0 0 -26.96 -65.9Z" fill="#e4583a"/>
<path d="M-25.81 -68.5A73.2 73.2 0 0 1 -24.98 -68.81L-24.29 -66.93A71.2 71.2 0 0 0 -25.11 -66.63Z" fill="#e4583a"/>
<path d="M-23.77 -69.23A73.2 73.2 0 0 1 -22.92 -69.52L-22.3 -67.62A71.2 71.2 0 0 0 -23.12 -67.34Z" fill="#e4583a"/>
<path d="M-21.4 -71.57A74.7 74.7 0 0 1 -20.53 -71.82L-19.57 -68.46A71.2 71.2 0 0 0 -20.4 -68.21Z" fill="#e4583a"/>
<path d="M-18.39 -70.85A73.2 73.2 0 0 1 -17.52 -71.07L-17.04 -69.13A71.2 71.2 0 0 0 -17.89 -68.92Z" fill="#e4583a"/>
<path d="M-15.55 -71.02A72.7 72.7 0 0 1 -14.68 -71.2L-14.38 -69.73A71.2 71.2 0 0 0 -15.23 -69.55Z" fill="#e4583a"/>
<path d="M12.53 -69.28A70.4 70.4 0 0 1 15.06 -68.77L13.67 -62.42A63.9 63.9 0 0 0 11.37 -62.88Z" fill="#6c9edc"/>
<path d="M16.68 -69.22A71.2 71.2 0 0 1 18.73 -68.69L16.81 -61.65A63.9 63.9 0 0 0 14.97 -62.12Z" fill="#6c9edc"/>
<path d="M18.32 -68.6A71 71 0 0 1 20.34 -68.02L18.31 -61.22A63.9 63.9 0 0 0 16.48 -61.74Z" fill="#6c9edc"/>
<path d="M19.93 -67.94A70.8 70.8 0 0 1 21.94 -67.32L19.8 -60.76A63.9 63.9 0 0 0 17.99 -61.32Z" fill="#6c9edc"/>
<path d="M21.34 -66.67A70 70 0 0 1 23.31 -66.01L21.28 -60.25A63.9 63.9 0 0 0 19.48 -60.86Z" fill="#6c9edc"/>
<path d="M22.26 -64.46A68.2 68.2 0 0 1 23.27 -64.11L21.8 -60.07A63.9 63.9 0 0 0 20.86 -60.4Z" fill="#6c9edc"/>
<path d="M51.29 -42.96A66.9 66.9 0 0 1 51.81 -42.33L49.48 -40.43A63.9 63.9 0 0 0 48.99 -41.03Z" fill="#6c9edc"/>
<path d="M62.06 -22.16A65.9 65.9 0 0 1 62.33 -21.4L60.44 -20.75A63.9 63.9 0 0 0 60.18 -21.49Z" fill="#6c9edc"/>
<path d="M70.2 -0.49A70.2 70.2 0 0 1 70.2 0.49L63.9 0.45A63.9 63.9 0 0 0 63.9 -0.45Z" fill="#6c9edc"/>
<path d="M68.32 3.4A68.4 68.4 0 0 1 68.27 4.24L63.78 3.96A63.9 63.9 0 0 0 63.82 3.18Z" fill="#6c9edc"/>
<path d="M61.98 22.38A65.9 65.9 0 0 1 61.71 23.13L59.83 22.43A63.9 63.9 0 0 0 60.1 21.7Z" fill="#6c9edc"/>
<path d="M48.56 43.8A65.4 65.4 0 0 1 48.02 44.39L46.92 43.38A63.9 63.9 0 0 0 47.45 42.8Z" fill="#6c9edc"/>
<path d="M47.87 44.56A65.4 65.4 0 0 1 47.32 45.14L46.24 44.11A63.9 63.9 0 0 0 46.77 43.54Z" fill="#6c9edc"/>
<path d="M45.39 47.08A65.4 65.4 0 0 1 44.81 47.64L43.78 46.54A63.9 63.9 0 0 0 44.35 46Z" fill="#6c9edc"/>
<path d="M30.81 58.82A66.4 66.4 0 0 1 30.09 59.19L28.96 56.96A63.9 63.9 0 0 0 29.65 56.6Z" fill="#6c9edc"/>
<path d="M19.65 62.9A65.9 65.9 0 0 1 18.88 63.14L18.31 61.22A63.9 63.9 0 0 0 19.06 60.99Z" fill="#6c9edc"/>
<path d="M14.84 67.49A69.1 69.1 0 0 1 13.89 67.69L12.85 62.59A63.9 63.9 0 0 0 13.72 62.41Z" fill="#6c9edc"/>
<path d="M-4.62 65.24A65.4 65.4 0 0 1 -5.42 65.18L-5.29 63.68A63.9 63.9 0 0 0 -4.51 63.74Z" fill="#6c9edc"/>
<path d="M-12.53 64.19A65.4 65.4 0 0 1 -13.32 64.03L-13.01 62.56A63.9 63.9 0 0 0 -12.25 62.72Z" fill="#6c9edc"/>
<path d="M-23.6 60.99A65.4 65.4 0 0 1 -24.34 60.7L-23.78 59.31A63.9 63.9 0 0 0 -23.06 59.6Z" fill="#6c9edc"/>
<path d="M-49.24 42.28A64.9 64.9 0 0 1 -49.75 41.67L-48.99 41.03A63.9 63.9 0 0 0 -48.48 41.63Z" fill="#6c9edc"/>
<path d="M-63.84 16.33A65.9 65.9 0 0 1 -64.04 15.55L-62.1 15.08A63.9 63.9 0 0 0 -61.91 15.84Z" fill="#6c9edc"/>
<path d="M-65.91 -11.44A66.9 66.9 0 0 1 -65.77 -12.25L-62.82 -11.7A63.9 63.9 0 0 0 -62.96 -10.93Z" fill="#6c9edc"/>
<path d="M-61.46 -28.86A67.9 67.9 0 0 1 -61.11 -29.61L-57.51 -27.86A63.9 63.9 0 0 0 -57.84 -27.16Z" fill="#6c9edc"/>
<path d="M-55.65 -38.9A67.9 67.9 0 0 1 -55.18 -39.57L-51.92 -37.24A63.9 63.9 0 0 0 -52.38 -36.61Z" fill="#6c9edc"/>
<path d="M-54.23 -39.18A66.9 66.9 0 0 1 -53.74 -39.84L-51.33 -38.05A63.9 63.9 0 0 0 -51.79 -37.42Z" fill="#6c9edc"/>
<path d="M-44.22 -48.86A65.9 65.9 0 0 1 -43.62 -49.39L-42.3 -47.9A63.9 63.9 0 0 0 -42.88 -47.37Z" fill="#6c9edc"/>
<path d="M-33.93 -55.91A65.4 65.4 0 0 1 -33.24 -56.32L-32.48 -55.03A63.9 63.9 0 0 0 -33.15 -54.63Z" fill="#6c9edc"/>
<path d="M-28.11 -59.6A65.9 65.9 0 0 1 -27.38 -59.94L-26.55 -58.12A63.9 63.9 0 0 0 -27.26 -57.79Z" fill="#6c9edc"/>
<path d="M-21.34 -62.88A66.4 66.4 0 0 1 -20.57 -63.13L-19.8 -60.76A63.9 63.9 0 0 0 -20.54 -60.51Z" fill="#6c9edc"/>
<path d="M-19.31 -64.57A67.4 67.4 0 0 1 -18.52 -64.81L-17.56 -61.44A63.9 63.9 0 0 0 -18.31 -61.22Z" fill="#6c9edc"/>
<circle r="71.2" fill="none" stroke="#e8806a" stroke-width="0.9"/>
<circle r="63.9" fill="none" stroke="#92bce8" stroke-width="1.0"/>
<path d="M-0.11 -62.5A62.5 62.5 0 0 1 0.55 -62.5L0.49 -55.8A55.8 55.8 0 0 0 -0.1 -55.8Z" fill="#e2603e"/>
<path d="M2.24 -62.46A62.5 62.5 0 0 1 3.43 -62.41L3.07 -55.72A55.8 55.8 0 0 0 2 -55.76Z" fill="#e2603e"/>
<path d="M3.98 -62.37A62.5 62.5 0 0 1 5.18 -62.29L4.62 -55.61A55.8 55.8 0 0 0 3.55 -55.69Z" fill="#e2603e"/>
<path d="M11.82 -61.37A62.5 62.5 0 0 1 12.67 -61.2L11.32 -54.64A55.8 55.8 0 0 0 10.55 -54.79Z" fill="#e2603e"/>
<path d="M20.55 -59.02A62.5 62.5 0 0 1 21.17 -58.81L18.9 -52.5A55.8 55.8 0 0 0 18.35 -52.7Z" fill="#e2603e"/>
<path d="M23.82 -57.78A62.5 62.5 0 0 1 24.42 -57.53L21.8 -51.36A55.8 55.8 0 0 0 21.26 -51.59Z" fill="#e2603e"/>
<path d="M33.58 -52.71A62.5 62.5 0 0 1 34.13 -52.36L30.47 -46.74A55.8 55.8 0 0 0 29.98 -47.06Z" fill="#e2603e"/>
<path d="M37.13 -50.27A62.5 62.5 0 0 1 38.09 -49.55L34.01 -44.24A55.8 55.8 0 0 0 33.15 -44.88Z" fill="#e2603e"/>
<path d="M38.74 -49.05A62.5 62.5 0 0 1 39.25 -48.64L35.04 -43.43A55.8 55.8 0 0 0 34.58 -43.79Z" fill="#e2603e"/>
<path d="M40.92 -47.24A62.5 62.5 0 0 1 41.41 -46.81L36.97 -41.79A55.8 55.8 0 0 0 36.53 -42.18Z" fill="#e2603e"/>
<path d="M47.1 -41.09A62.5 62.5 0 0 1 47.53 -40.59L42.43 -36.24A55.8 55.8 0 0 0 42.05 -36.68Z" fill="#e2603e"/>
<path d="M51.63 -35.22A62.5 62.5 0 0 1 52 -34.68L46.42 -30.96A55.8 55.8 0 0 0 46.1 -31.44Z" fill="#e2603e"/>
<path d="M54.93 -29.82A62.5 62.5 0 0 1 56.41 -26.91L50.36 -24.02A55.8 55.8 0 0 0 49.04 -26.63Z" fill="#e2603e" fill-opacity="0.45"/>
<path d="M54.93 -29.82A62.5 62.5 0 0 1 55.24 -29.25L49.31 -26.11A55.8 55.8 0 0 0 49.04 -26.63Z" fill="#e2603e"/>
<path d="M55.54 -28.67A62.5 62.5 0 0 1 55.84 -28.08L49.85 -25.07A55.8 55.8 0 0 0 49.58 -25.59Z" fill="#e2603e"/>
<path d="M56.13 -27.5A62.5 62.5 0 0 1 56.41 -26.91L50.36 -24.02A55.8 55.8 0 0 0 50.11 -24.55Z" fill="#e2603e"/>
<path d="M58.03 -23.21A62.5 62.5 0 0 1 58.35 -22.4L52.09 -20A55.8 55.8 0 0 0 51.81 -20.72Z" fill="#e2603e"/>
<path d="M59.09 -20.35A62.5 62.5 0 0 1 60.08 -17.23L53.64 -15.38A55.8 55.8 0 0 0 52.76 -18.17Z" fill="#e2603e" fill-opacity="0.45"/>
<path d="M59.09 -20.35A62.5 62.5 0 0 1 59.3 -19.73L52.95 -17.61A55.8 55.8 0 0 0 52.76 -18.17Z" fill="#e2603e"/>
<path d="M59.51 -19.11A62.5 62.5 0 0 1 59.7 -18.48L53.3 -16.5A55.8 55.8 0 0 0 53.13 -17.06Z" fill="#e2603e"/>
<path d="M59.9 -17.86A62.5 62.5 0 0 1 60.08 -17.23L53.64 -15.38A55.8 55.8 0 0 0 53.47 -15.94Z" fill="#e2603e"/>
<path d="M61.62 -10.42A62.5 62.5 0 0 1 61.73 -9.78L55.11 -8.73A55.8 55.8 0 0 0 55.02 -9.31Z" fill="#e2603e"/>
<path d="M62.5 -0.76A62.5 62.5 0 0 1 62.4 3.6L55.71 3.21A55.8 55.8 0 0 0 55.8 -0.68Z" fill="#e2603e" fill-opacity="0.45"/>
<path d="M62.5 -0.76A62.5 62.5 0 0 1 62.5 -0.11L55.8 -0.1A55.8 55.8 0 0 0 55.8 -0.68Z" fill="#e2603e"/>
<path d="M62.5 0.47A62.5 62.5 0 0 1 62.49 1.13L55.79 1.01A55.8 55.8 0 0 0 55.8 0.42Z" fill="#e2603e"/>
<path d="M62.48 1.71A62.5 62.5 0 0 1 62.46 2.36L55.76 2.11A55.8 55.8 0 0 0 55.78 1.53Z" fill="#e2603e"/>
<path d="M62.43 2.94A62.5 62.5 0 0 1 62.4 3.6L55.71 3.21A55.8 55.8 0 0 0 55.74 2.63Z" fill="#e2603e"/>
<path d="M60.31 16.39A62.5 62.5 0 0 1 60.08 17.23L53.64 15.38A55.8 55.8 0 0 0 53.85 14.63Z" fill="#e2603e"/>
<path d="M59.44 19.31A62.5 62.5 0 0 1 59.17 20.14L52.82 17.98A55.8 55.8 0 0 0 53.07 17.24Z" fill="#e2603e"/>
<path d="M55.79 28.18A62.5 62.5 0 0 1 55.39 28.96L49.45 25.85A55.8 55.8 0 0 0 49.81 25.16Z" fill="#e2603e"/>
<path d="M53.4 32.47A62.5 62.5 0 0 1 52.06 34.59L46.48 30.88A55.8 55.8 0 0 0 47.68 28.99Z" fill="#e2603e" fill-opacity="0.45"/>
<path d="M53.4 32.47A62.5 62.5 0 0 1 53.06 33.03L47.37 29.49A55.8 55.8 0 0 0 47.68 28.99Z" fill="#e2603e"/>
<path d="M52.92 33.26A62.5 62.5 0 0 1 52.56 33.81L46.93 30.19A55.8 55.8 0 0 0 47.24 29.69Z" fill="#e2603e"/>
<path d="M52.42 34.04A62.5 62.5 0 0 1 52.06 34.59L46.48 30.88A55.8 55.8 0 0 0 46.8 30.39Z" fill="#e2603e"/>
<path d="M50.5 36.82A62.5 62.5 0 0 1 50.11 37.35L44.74 33.35A55.8 55.8 0 0 0 45.09 32.88Z" fill="#e2603e"/>
<path d="M45.26 43.1A62.5 62.5 0 0 1 43.26 45.11L38.62 40.27A55.8 55.8 0 0 0 40.41 38.48Z" fill="#e2603e" fill-opacity="0.45"/>
<path d="M45.26 43.1A62.5 62.5 0 0 1 44.81 43.57L40 38.9A55.8 55.8 0 0 0 40.41 38.48Z" fill="#e2603e"/>
<path d="M44.5 43.88A62.5 62.5 0 0 1 44.04 44.35L39.32 39.59A55.8 55.8 0 0 0 39.73 39.18Z" fill="#e2603e"/>
<path d="M43.73 44.65A62.5 62.5 0 0 1 43.26 45.11L38.62 40.27A55.8 55.8 0 0 0 39.04 39.87Z" fill="#e2603e"/>
<path d="M41.41 46.81A62.5 62.5 0 0 1 40.92 47.24L36.53 42.18A55.8 55.8 0 0 0 36.97 41.79Z" fill="#e2603e"/>
<path d="M38.65 49.12A62.5 62.5 0 0 1 38.13 49.52L34.05 44.21A55.8 55.8 0 0 0 34.51 43.85Z" fill="#e2603e"/>
<path d="M35.94 51.13A62.5 62.5 0 0 1 35.4 51.51L31.61 45.99A55.8 55.8 0 0 0 32.09 45.65Z" fill="#e2603e"/>
<path d="M34.54 52.09A62.5 62.5 0 0 1 33.9 52.51L30.27 46.88A55.8 55.8 0 0 0 30.84 46.5Z" fill="#e2603e"/>
<path d="M33.03 53.06A62.5 62.5 0 0 1 32.47 53.4L28.99 47.68A55.8 55.8 0 0 0 29.49 47.37Z" fill="#e2603e"/>
<path d="M31.53 53.96A62.5 62.5 0 0 1 30.97 54.29L27.65 48.47A55.8 55.8 0 0 0 28.15 48.18Z" fill="#e2603e"/>
<path d="M28.76 55.49A62.5 62.5 0 0 1 28.18 55.79L25.16 49.81A55.8 55.8 0 0 0 25.68 49.54Z" fill="#e2603e"/>
<path d="M24.92 57.32A62.5 62.5 0 0 1 24.32 57.57L21.71 51.4A55.8 55.8 0 0 0 22.25 51.17Z" fill="#e2603e"/>
<path d="M23.21 58.03A62.5 62.5 0 0 1 22.6 58.27L20.18 52.02A55.8 55.8 0 0 0 20.72 51.81Z" fill="#e2603e"/>
<path d="M21.58 58.66A62.5 62.5 0 0 1 20.97 58.88L18.72 52.57A55.8 55.8 0 0 0 19.27 52.37Z" fill="#e2603e"/>
<path d="M14.48 60.8A62.5 62.5 0 0 1 12.14 61.31L10.84 54.74A55.8 55.8 0 0 0 12.93 54.28Z" fill="#e2603e" fill-opacity="0.45"/>
<path d="M14.48 60.8A62.5 62.5 0 0 1 13.85 60.95L12.36 54.41A55.8 55.8 0 0 0 12.93 54.28Z" fill="#e2603e"/>
<path d="M12.78 61.18A62.5 62.5 0 0 1 12.14 61.31L10.84 54.74A55.8 55.8 0 0 0 11.41 54.62Z" fill="#e2603e"/>
<path d="M-3.6 62.4A62.5 62.5 0 0 1 -5.99 62.21L-5.35 55.54A55.8 55.8 0 0 0 -3.21 55.71Z" fill="#e2603e" fill-opacity="0.45"/>
<path d="M-3.6 62.4A62.5 62.5 0 0 1 -4.25 62.36L-3.8 55.67A55.8 55.8 0 0 0 -3.21 55.71Z" fill="#e2603e"/>
<path d="M-5.34 62.27A62.5 62.5 0 0 1 -5.99 62.21L-5.35 55.54A55.8 55.8 0 0 0 -4.77 55.6Z" fill="#e2603e"/>
<path d="M-12.57 61.22A62.5 62.5 0 0 1 -13.21 61.09L-11.79 54.54A55.8 55.8 0 0 0 -11.22 54.66Z" fill="#e2603e"/>
<path d="M-23.01 58.11A62.5 62.5 0 0 1 -23.62 57.87L-21.08 51.66A55.8 55.8 0 0 0 -20.54 51.88Z" fill="#e2603e"/>
<path d="M-25.52 57.05A62.5 62.5 0 0 1 -26.12 56.78L-23.32 50.69A55.8 55.8 0 0 0 -22.78 50.94Z" fill="#e2603e"/>
<path d="M-33.95 52.48A62.5 62.5 0 0 1 -34.5 52.12L-30.8 46.53A55.8 55.8 0 0 0 -30.31 46.85Z" fill="#e2603e"/>
<path d="M-38.74 49.05A62.5 62.5 0 0 1 -39.25 48.64L-35.04 43.43A55.8 55.8 0 0 0 -34.58 43.79Z" fill="#e2603e"/>
<path d="M-39.92 48.09A62.5 62.5 0 0 1 -40.42 47.67L-36.09 42.56A55.8 55.8 0 0 0 -35.64 42.93Z" fill="#e2603e"/>
<path d="M-49.98 37.53A62.5 62.5 0 0 1 -50.37 37L-44.97 33.03A55.8 55.8 0 0 0 -44.62 33.5Z" fill="#e2603e"/>
<path d="M-51.13 35.94A62.5 62.5 0 0 1 -51.51 35.4L-45.99 31.61A55.8 55.8 0 0 0 -45.65 32.09Z" fill="#e2603e"/>
<path d="M-53.74 31.91A62.5 62.5 0 0 1 -54.07 31.34L-48.28 27.98A55.8 55.8 0 0 0 -47.98 28.49Z" fill="#e2603e"/>
<path d="M-55.08 29.53A62.5 62.5 0 0 1 -55.49 28.76L-49.54 25.68A55.8 55.8 0 0 0 -49.18 26.37Z" fill="#e2603e"/>
<path d="M-58.37 22.35A62.5 62.5 0 0 1 -58.64 21.63L-52.35 19.31A55.8 55.8 0 0 0 -52.11 19.95Z" fill="#e2603e"/>
<path d="M-60.34 16.28A62.5 62.5 0 0 1 -60.56 15.44L-54.07 13.78A55.8 55.8 0 0 0 -53.87 14.54Z" fill="#e2603e"/>
<path d="M-62.41 3.38A62.5 62.5 0 0 1 -62.45 2.51L-55.76 2.24A55.8 55.8 0 0 0 -55.72 3.02Z" fill="#e2603e"/>
<path d="M-62.5 -0.55A62.5 62.5 0 0 1 -62.49 -1.2L-55.79 -1.07A55.8 55.8 0 0 0 -55.8 -0.49Z" fill="#e2603e"/>
<path d="M-62.45 -2.45A62.5 62.5 0 0 1 -62.42 -3.22L-55.73 -2.87A55.8 55.8 0 0 0 -55.76 -2.19Z" fill="#e2603e"/>
<path d="M-62.31 -4.85A62.5 62.5 0 0 1 -62.25 -5.61L-55.57 -5.01A55.8 55.8 0 0 0 -55.63 -4.33Z" fill="#e2603e"/>
<path d="M-62.08 -7.24A62.5 62.5 0 0 1 -61.99 -8L-55.34 -7.14A55.8 55.8 0 0 0 -55.42 -6.46Z" fill="#e2603e"/>
<path d="M-61.59 -10.64A62.5 62.5 0 0 1 -61.47 -11.28L-54.88 -10.07A55.8 55.8 0 0 0 -54.99 -9.5Z" fill="#e2603e"/>
<path d="M-57.14 -25.32A62.5 62.5 0 0 1 -56.87 -25.92L-50.78 -23.14A55.8 55.8 0 0 0 -51.02 -22.61Z" fill="#e2603e"/>
<path d="M-56.1 -27.55A62.5 62.5 0 0 1 -55.81 -28.13L-49.83 -25.12A55.8 55.8 0 0 0 -50.09 -24.59Z" fill="#e2603e"/>
<path d="M-54.98 -29.73A62.5 62.5 0 0 1 -54.66 -30.3L-48.8 -27.05A55.8 55.8 0 0 0 -49.08 -26.54Z" fill="#e2603e"/>
<path d="M-51.69 -35.13A62.5 62.5 0 0 1 -51.32 -35.67L-45.82 -31.85A55.8 55.8 0 0 0 -46.15 -31.36Z" fill="#e2603e"/>
<path d="M-44.04 -44.35A62.5 62.5 0 0 1 -43.57 -44.81L-38.9 -40A55.8 55.8 0 0 0 -39.32 -39.59Z" fill="#e2603e"/>
<path d="M-43.06 -45.3A62.5 62.5 0 0 1 -42.58 -45.75L-38.02 -40.84A55.8 55.8 0 0 0 -38.45 -40.44Z" fill="#e2603e"/>
<path d="M-42.06 -46.23A62.5 62.5 0 0 1 -41.58 -46.66L-37.12 -41.66A55.8 55.8 0 0 0 -37.55 -41.27Z" fill="#e2603e"/>
<path d="M-38.78 -49.01A62.5 62.5 0 0 1 -38.18 -49.48L-34.08 -44.18A55.8 55.8 0 0 0 -34.62 -43.76Z" fill="#e2603e"/>
<path d="M-36.82 -50.5A62.5 62.5 0 0 1 -36.21 -50.95L-32.32 -45.48A55.8 55.8 0 0 0 -32.88 -45.09Z" fill="#e2603e"/>
<path d="M-34.81 -51.91A62.5 62.5 0 0 1 -34.18 -52.33L-30.51 -46.72A55.8 55.8 0 0 0 -31.08 -46.34Z" fill="#e2603e"/>
<path d="M-32.75 -53.23A62.5 62.5 0 0 1 -32.1 -53.63L-28.66 -47.88A55.8 55.8 0 0 0 -29.24 -47.53Z" fill="#e2603e"/>
<path d="M-30.63 -54.48A62.5 62.5 0 0 1 -29.97 -54.85L-26.75 -48.97A55.8 55.8 0 0 0 -27.35 -48.64Z" fill="#e2603e"/>
<path d="M-27.1 -56.32A62.5 62.5 0 0 1 -26.51 -56.6L-23.67 -50.53A55.8 55.8 0 0 0 -24.2 -50.28Z" fill="#e2603e"/>
<path d="M-25.42 -57.1A62.5 62.5 0 0 1 -24.82 -57.36L-22.16 -51.21A55.8 55.8 0 0 0 -22.7 -50.98Z" fill="#e2603e"/>
<path d="M-23.72 -57.83A62.5 62.5 0 0 1 -23.11 -58.07L-20.63 -51.85A55.8 55.8 0 0 0 -21.17 -51.63Z" fill="#e2603e"/>
<path d="M-19.68 -59.32A62.5 62.5 0 0 1 -18.95 -59.56L-16.92 -53.17A55.8 55.8 0 0 0 -17.57 -52.96Z" fill="#e2603e"/>
<path d="M-17.59 -59.97A62.5 62.5 0 0 1 -16.86 -60.18L-15.05 -53.73A55.8 55.8 0 0 0 -15.71 -53.54Z" fill="#e2603e"/>
<path d="M-15.49 -60.55A62.5 62.5 0 0 1 -14.75 -60.73L-13.17 -54.22A55.8 55.8 0 0 0 -13.83 -54.06Z" fill="#e2603e"/>
<path d="M-13.37 -61.05A62.5 62.5 0 0 1 -12.62 -61.21L-11.27 -54.65A55.8 55.8 0 0 0 -11.93 -54.51Z" fill="#e2603e"/>
<path d="M-11.99 -54.09A55.4 55.4 0 0 1 0.19 -55.4L0.17 -48.4A48.4 48.4 0 0 0 -10.48 -47.25Z" fill="#5a8fd2"/>
<path d="M2.03 -55.36A55.4 55.4 0 0 1 2.61 -55.34L2.28 -48.35A48.4 48.4 0 0 0 1.77 -48.37Z" fill="#5a8fd2"/>
<path d="M4.11 -55.25A55.4 55.4 0 0 1 4.68 -55.2L4.09 -48.23A48.4 48.4 0 0 0 3.59 -48.27Z" fill="#5a8fd2"/>
<path d="M6.18 -55.05A55.4 55.4 0 0 1 6.75 -54.99L5.9 -48.04A48.4 48.4 0 0 0 5.4 -48.1Z" fill="#5a8fd2"/>
<path d="M8.24 -54.78A55.4 55.4 0 0 1 8.81 -54.7L7.7 -47.78A48.4 48.4 0 0 0 7.2 -47.86Z" fill="#5a8fd2"/>
<path d="M10.29 -54.44A55.4 55.4 0 0 1 10.86 -54.33L9.48 -47.46A48.4 48.4 0 0 0 8.99 -47.56Z" fill="#5a8fd2"/>
<path d="M13.59 -53.71A55.4 55.4 0 0 1 19.22 -51.96L16.79 -45.39A48.4 48.4 0 0 0 11.87 -46.92Z" fill="#5a8fd2"/>
<path d="M22.71 -50.53A55.4 55.4 0 0 1 23.41 -50.21L20.45 -43.87A48.4 48.4 0 0 0 19.84 -44.15Z" fill="#5a8fd2"/>
<path d="M25.58 -49.14A55.4 55.4 0 0 1 26.09 -48.87L22.8 -42.69A48.4 48.4 0 0 0 22.35 -42.93Z" fill="#5a8fd2"/>
<path d="M29.93 -46.62A55.4 55.4 0 0 1 30.42 -46.3L26.57 -40.45A48.4 48.4 0 0 0 26.15 -40.73Z" fill="#5a8fd2"/>
<path d="M35.91 -42.19A55.4 55.4 0 0 1 36.35 -41.81L31.75 -36.53A48.4 48.4 0 0 0 31.37 -36.86Z" fill="#5a8fd2"/>
<path d="M40.19 -38.13A55.4 55.4 0 0 1 43.36 -34.49L37.88 -30.13A48.4 48.4 0 0 0 35.11 -33.32Z" fill="#5a8fd2" fill-opacity="0.45"/>
<path d="M40.19 -38.13A55.4 55.4 0 0 1 40.58 -37.71L35.46 -32.95A48.4 48.4 0 0 0 35.11 -33.32Z" fill="#5a8fd2"/>
<path d="M40.77 -37.51A55.4 55.4 0 0 1 41.16 -37.08L35.96 -32.4A48.4 48.4 0 0 0 35.62 -32.77Z" fill="#5a8fd2"/>
<path d="M41.34 -36.88A55.4 55.4 0 0 1 41.72 -36.45L36.45 -31.84A48.4 48.4 0 0 0 36.11 -32.22Z" fill="#5a8fd2"/>
<path d="M41.9 -36.24A55.4 55.4 0 0 1 42.28 -35.8L36.93 -31.28A48.4 48.4 0 0 0 36.61 -31.66Z" fill="#5a8fd2"/>
<path d="M42.45 -35.6A55.4 55.4 0 0 1 42.82 -35.15L37.41 -30.71A48.4 48.4 0 0 0 37.09 -31.1Z" fill="#5a8fd2"/>
<path d="M42.99 -34.94A55.4 55.4 0 0 1 43.36 -34.49L37.88 -30.13A48.4 48.4 0 0 0 37.56 -30.52Z" fill="#5a8fd2"/>
<path d="M44.24 -33.34A55.4 55.4 0 0 1 44.59 -32.88L38.96 -28.72A48.4 48.4 0 0 0 38.65 -29.13Z" fill="#5a8fd2"/>
<path d="M45.27 -31.93A55.4 55.4 0 0 1 45.71 -31.3L39.94 -27.34A48.4 48.4 0 0 0 39.55 -27.9Z" fill="#5a8fd2"/>
<path d="M48.03 -27.62A55.4 55.4 0 0 1 48.41 -26.94L42.29 -23.54A48.4 48.4 0 0 0 41.96 -24.13Z" fill="#5a8fd2"/>
<path d="M49.3 -25.28A55.4 55.4 0 0 1 49.64 -24.59L43.37 -21.48A48.4 48.4 0 0 0 43.07 -22.09Z" fill="#5a8fd2"/>
<path d="M50.45 -22.89A55.4 55.4 0 0 1 50.77 -22.18L44.35 -19.38A48.4 48.4 0 0 0 44.08 -19.99Z" fill="#5a8fd2"/>
<path d="M51.4 -20.66A55.4 55.4 0 0 1 51.69 -19.94L45.15 -17.42A48.4 48.4 0 0 0 44.91 -18.05Z" fill="#5a8fd2"/>
<path d="M52.08 -18.9A55.4 55.4 0 0 1 52.33 -18.17L45.72 -15.88A48.4 48.4 0 0 0 45.5 -16.51Z" fill="#5a8fd2"/>
<path d="M52.69 -17.12A55.4 55.4 0 0 1 52.92 -16.38L46.24 -14.31A48.4 48.4 0 0 0 46.03 -14.96Z" fill="#5a8fd2"/>
<path d="M53.61 -13.96A55.4 55.4 0 0 1 53.8 -13.21L47 -11.55A48.4 48.4 0 0 0 46.84 -12.2Z" fill="#5a8fd2"/>
<path d="M54.87 -7.61A55.4 55.4 0 0 1 54.95 -7.04L48.01 -6.15A48.4 48.4 0 0 0 47.94 -6.65Z" fill="#5a8fd2"/>
<path d="M55.3 -3.29A55.4 55.4 0 0 1 55.38 1.45L48.38 1.27A48.4 48.4 0 0 0 48.31 -2.87Z" fill="#5a8fd2" fill-opacity="0.45"/>
<path d="M55.3 -3.29A55.4 55.4 0 0 1 55.33 -2.71L48.34 -2.36A48.4 48.4 0 0 0 48.31 -2.87Z" fill="#5a8fd2"/>
<path d="M55.35 -2.25A55.4 55.4 0 0 1 55.37 -1.67L48.38 -1.46A48.4 48.4 0 0 0 48.36 -1.96Z" fill="#5a8fd2"/>
<path d="M55.39 -1.21A55.4 55.4 0 0 1 55.4 -0.63L48.4 -0.55A48.4 48.4 0 0 0 48.39 -1.06Z" fill="#5a8fd2"/>
<path d="M55.4 -0.17A55.4 55.4 0 0 1 55.4 0.41L48.4 0.36A48.4 48.4 0 0 0 48.4 -0.15Z" fill="#5a8fd2"/>
<path d="M55.39 0.87A55.4 55.4 0 0 1 55.38 1.45L48.38 1.27A48.4 48.4 0 0 0 48.39 0.76Z" fill="#5a8fd2"/>
<path d="M55.26 3.96A55.4 55.4 0 0 1 55.21 4.54L48.24 3.97A48.4 48.4 0 0 0 48.28 3.46Z" fill="#5a8fd2"/>
<path d="M55.14 5.31A55.4 55.4 0 0 1 55.09 5.89L48.13 5.14A48.4 48.4 0 0 0 48.18 4.64Z" fill="#5a8fd2"/>
<path d="M54.56 9.62A55.4 55.4 0 0 1 54.45 10.19L47.57 8.9A48.4 48.4 0 0 0 47.66 8.4Z" fill="#5a8fd2"/>
<path d="M53.04 16.01A55.4 55.4 0 0 1 51.72 19.85L45.19 17.35A48.4 48.4 0 0 0 46.33 13.99Z" fill="#5a8fd2" fill-opacity="0.45"/>
<path d="M53.04 16.01A55.4 55.4 0 0 1 52.86 16.57L46.19 14.47A48.4 48.4 0 0 0 46.33 13.99Z" fill="#5a8fd2"/>
<path d="M52.78 16.84A55.4 55.4 0 0 1 52.6 17.4L45.95 15.2A48.4 48.4 0 0 0 46.11 14.72Z" fill="#5a8fd2"/>
<path d="M52.51 17.67A55.4 55.4 0 0 1 52.32 18.22L45.71 15.92A48.4 48.4 0 0 0 45.87 15.44Z" fill="#5a8fd2"/>
<path d="M52.22 18.49A55.4 55.4 0 0 1 52.03 19.04L45.45 16.63A48.4 48.4 0 0 0 45.62 16.16Z" fill="#5a8fd2"/>
<path d="M51.93 19.31A55.4 55.4 0 0 1 51.72 19.85L45.19 17.35A48.4 48.4 0 0 0 45.36 16.87Z" fill="#5a8fd2"/>
<path d="M49.79 24.29A55.4 55.4 0 0 1 49.54 24.81L43.28 21.67A48.4 48.4 0 0 0 43.5 21.22Z" fill="#5a8fd2"/>
<path d="M43.95 33.73A55.4 55.4 0 0 1 42.13 35.98L36.8 31.43A48.4 48.4 0 0 0 38.4 29.46Z" fill="#5a8fd2" fill-opacity="0.45"/>
<path d="M43.95 33.73A55.4 55.4 0 0 1 43.6 34.18L38.09 29.86A48.4 48.4 0 0 0 38.4 29.46Z" fill="#5a8fd2"/>
<path d="M43.24 34.64A55.4 55.4 0 0 1 42.87 35.09L37.45 30.66A48.4 48.4 0 0 0 37.77 30.26Z" fill="#5a8fd2"/>
<path d="M42.5 35.54A55.4 55.4 0 0 1 42.13 35.98L36.8 31.43A48.4 48.4 0 0 0 37.13 31.05Z" fill="#5a8fd2"/>
<path d="M41.68 36.49A55.4 55.4 0 0 1 41.3 36.93L36.08 32.26A48.4 48.4 0 0 0 36.42 31.88Z" fill="#5a8fd2"/>
<path d="M39.85 38.48A55.4 55.4 0 0 1 39.45 38.9L34.46 33.98A48.4 48.4 0 0 0 34.82 33.62Z" fill="#5a8fd2"/>
<path d="M38.48 39.85A55.4 55.4 0 0 1 38.06 40.25L33.26 35.17A48.4 48.4 0 0 0 33.62 34.82Z" fill="#5a8fd2"/>
<path d="M37 41.23A55.4 55.4 0 0 1 36.56 41.62L31.94 36.36A48.4 48.4 0 0 0 32.32 36.02Z" fill="#5a8fd2"/>
<path d="M35.76 42.31A55.4 55.4 0 0 1 35.31 42.69L30.85 37.29A48.4 48.4 0 0 0 31.24 36.97Z" fill="#5a8fd2"/>
<path d="M34.03 43.72A55.4 55.4 0 0 1 33.57 44.07L29.33 38.5A48.4 48.4 0 0 0 29.73 38.19Z" fill="#5a8fd2"/>
<path d="M32.01 45.21A55.4 55.4 0 0 1 31.54 45.55L27.55 39.79A48.4 48.4 0 0 0 27.97 39.5Z" fill="#5a8fd2"/>
<path d="M28.28 47.64A55.4 55.4 0 0 1 27.78 47.93L24.27 41.87A48.4 48.4 0 0 0 24.71 41.62Z" fill="#5a8fd2"/>
<path d="M26.22 48.8A55.4 55.4 0 0 1 25.71 49.07L22.46 42.87A48.4 48.4 0 0 0 22.91 42.64Z" fill="#5a8fd2"/>
<path d="M24.11 49.88A55.4 55.4 0 0 1 23.59 50.13L20.61 43.79A48.4 48.4 0 0 0 21.07 43.58Z" fill="#5a8fd2"/>
<path d="M21.96 50.86A55.4 55.4 0 0 1 21.42 51.09L18.72 44.63A48.4 48.4 0 0 0 19.18 44.44Z" fill="#5a8fd2"/>
<path d="M19.76 51.75A55.4 55.4 0 0 1 19.22 51.96L16.79 45.39A48.4 48.4 0 0 0 17.27 45.22Z" fill="#5a8fd2"/>
<path d="M12.84 53.89A55.4 55.4 0 0 1 10.1 54.47L8.82 47.59A48.4 48.4 0 0 0 11.22 47.08Z" fill="#5a8fd2" fill-opacity="0.45"/>
<path d="M12.84 53.89A55.4 55.4 0 0 1 12.27 54.02L10.72 47.2A48.4 48.4 0 0 0 11.22 47.08Z" fill="#5a8fd2"/>
<path d="M11.75 54.14A55.4 55.4 0 0 1 11.19 54.26L9.77 47.4A48.4 48.4 0 0 0 10.27 47.3Z" fill="#5a8fd2"/>
<path d="M10.67 54.36A55.4 55.4 0 0 1 10.1 54.47L8.82 47.59A48.4 48.4 0 0 0 9.32 47.49Z" fill="#5a8fd2"/>
<path d="M8.19 54.79A55.4 55.4 0 0 1 7.61 54.87L6.65 47.94A48.4 48.4 0 0 0 7.15 47.87Z" fill="#5a8fd2"/>
<path d="M5.18 55.16A55.4 55.4 0 0 1 4.6 55.21L4.02 48.23A48.4 48.4 0 0 0 4.53 48.19Z" fill="#5a8fd2"/>
<path d="M2.16 55.36A55.4 55.4 0 0 1 1.58 55.38L1.38 48.38A48.4 48.4 0 0 0 1.89 48.36Z" fill="#5a8fd2"/>
<path d="M-0.87 55.39A55.4 55.4 0 0 1 -1.45 55.38L-1.27 48.38A48.4 48.4 0 0 0 -0.76 48.39Z" fill="#5a8fd2"/>
<path d="M-2.9 55.32A55.4 55.4 0 0 1 -6.37 55.03L-5.56 48.08A48.4 48.4 0 0 0 -2.53 48.33Z" fill="#5a8fd2" fill-opacity="0.45"/>
<path d="M-2.9 55.32A55.4 55.4 0 0 1 -3.48 55.29L-3.04 48.3A48.4 48.4 0 0 0 -2.53 48.33Z" fill="#5a8fd2"/>
<path d="M-3.86 55.27A55.4 55.4 0 0 1 -4.44 55.22L-3.88 48.24A48.4 48.4 0 0 0 -3.38 48.28Z" fill="#5a8fd2"/>
<path d="M-4.83 55.19A55.4 55.4 0 0 1 -5.41 55.14L-4.72 48.17A48.4 48.4 0 0 0 -4.22 48.22Z" fill="#5a8fd2"/>
<path d="M-5.79 55.1A55.4 55.4 0 0 1 -6.37 55.03L-5.56 48.08A48.4 48.4 0 0 0 -5.06 48.13Z" fill="#5a8fd2"/>
<path d="M-11.33 54.23A55.4 55.4 0 0 1 -11.9 54.11L-10.39 47.27A48.4 48.4 0 0 0 -9.9 47.38Z" fill="#5a8fd2"/>
<path d="M-19.76 51.75A55.4 55.4 0 0 1 -20.3 51.55L-17.74 45.03A48.4 48.4 0 0 0 -17.27 45.22Z" fill="#5a8fd2"/>
<path d="M-24.11 49.88A55.4 55.4 0 0 1 -24.63 49.62L-21.52 43.35A48.4 48.4 0 0 0 -21.07 43.58Z" fill="#5a8fd2"/>
<path d="M-33.65 44.01A55.4 55.4 0 0 1 -34.11 43.66L-29.8 38.14A48.4 48.4 0 0 0 -29.4 38.45Z" fill="#5a8fd2"/>
<path d="M-35.61 42.44A55.4 55.4 0 0 1 -36.05 42.06L-31.5 36.75A48.4 48.4 0 0 0 -31.11 37.08Z" fill="#5a8fd2"/>
<path d="M-37.5 40.78A55.4 55.4 0 0 1 -37.92 40.38L-33.13 35.28A48.4 48.4 0 0 0 -32.76 35.63Z" fill="#5a8fd2"/>
<path d="M-41.49 36.71A55.4 55.4 0 0 1 -41.87 36.27L-36.58 31.69A48.4 48.4 0 0 0 -36.25 32.07Z" fill="#5a8fd2"/>
<path d="M-42.81 35.16A55.4 55.4 0 0 1 -43.18 34.71L-37.72 30.33A48.4 48.4 0 0 0 -37.4 30.72Z" fill="#5a8fd2"/>
<path d="M-43.95 33.73A55.4 55.4 0 0 1 -44.3 33.26L-38.7 29.06A48.4 48.4 0 0 0 -38.4 29.46Z" fill="#5a8fd2"/>
<path d="M-44.96 32.37A55.4 55.4 0 0 1 -45.46 31.66L-39.72 27.66A48.4 48.4 0 0 0 -39.28 28.28Z" fill="#5a8fd2"/>
<path d="M-46.88 29.52A55.4 55.4 0 0 1 -47.19 29.03L-41.22 25.36A48.4 48.4 0 0 0 -40.96 25.79Z" fill="#5a8fd2"/>
<path d="M-47.93 27.78A55.4 55.4 0 0 1 -48.22 27.28L-42.13 23.83A48.4 48.4 0 0 0 -41.87 24.27Z" fill="#5a8fd2"/>
<path d="M-50.33 23.15A55.4 55.4 0 0 1 -50.57 22.62L-44.18 19.76A48.4 48.4 0 0 0 -43.97 20.22Z" fill="#5a8fd2"/>
<path d="M-51.89 19.4A55.4 55.4 0 0 1 -52.09 18.86L-45.51 16.47A48.4 48.4 0 0 0 -45.33 16.95Z" fill="#5a8fd2"/>
<path d="M-52.66 17.21A55.4 55.4 0 0 1 -52.89 16.47L-46.21 14.39A48.4 48.4 0 0 0 -46 15.04Z" fill="#5a8fd2"/>
<path d="M-53.56 14.15A55.4 55.4 0 0 1 -53.75 13.4L-46.96 11.71A48.4 48.4 0 0 0 -46.79 12.36Z" fill="#5a8fd2"/>
<path d="M-54.7 8.76A55.4 55.4 0 0 1 -54.79 8.19L-47.87 7.15A48.4 48.4 0 0 0 -47.79 7.65Z" fill="#5a8fd2"/>
<path d="M-55.27 3.82A55.4 55.4 0 0 1 -55.32 2.95L-48.33 2.58A48.4 48.4 0 0 0 -48.29 3.33Z" fill="#5a8fd2"/>
<path d="M-55.4 -0.68A55.4 55.4 0 0 1 -55.39 -1.26L-48.39 -1.1A48.4 48.4 0 0 0 -48.4 -0.59Z" fill="#5a8fd2"/>
<path d="M-55.32 -3A55.4 55.4 0 0 1 -55.28 -3.58L-48.3 -3.12A48.4 48.4 0 0 0 -48.33 -2.62Z" fill="#5a8fd2"/>
<path d="M-55.05 -6.22A55.4 55.4 0 0 1 -54.94 -7.09L-48 -6.19A48.4 48.4 0 0 0 -48.09 -5.44Z" fill="#5a8fd2"/>
<path d="M-54.66 -9.05A55.4 55.4 0 0 1 -54.52 -9.81L-47.64 -8.57A48.4 48.4 0 0 0 -47.75 -7.9Z" fill="#5a8fd2"/>
<path d="M-52.54 -17.58A55.4 55.4 0 0 1 -52.35 -18.13L-45.74 -15.84A48.4 48.4 0 0 0 -45.9 -15.36Z" fill="#5a8fd2"/>
<path d="M-50.41 -22.97A55.4 55.4 0 0 1 -50.17 -23.5L-43.83 -20.53A48.4 48.4 0 0 0 -44.04 -20.07Z" fill="#5a8fd2"/>
<path d="M-49.3 -25.28A55.4 55.4 0 0 1 -49.03 -25.8L-42.83 -22.54A48.4 48.4 0 0 0 -43.07 -22.09Z" fill="#5a8fd2"/>
<path d="M-48.07 -27.53A55.4 55.4 0 0 1 -47.78 -28.03L-41.75 -24.49A48.4 48.4 0 0 0 -42 -24.05Z" fill="#5a8fd2"/>
<path d="M-47.03 -29.28A55.4 55.4 0 0 1 -46.72 -29.77L-40.82 -26.01A48.4 48.4 0 0 0 -41.09 -25.58Z" fill="#5a8fd2"/>
<path d="M-45.79 -31.18A55.4 55.4 0 0 1 -45.3 -31.89L-39.57 -27.86A48.4 48.4 0 0 0 -40.01 -27.24Z" fill="#5a8fd2"/>
<path d="M-41.43 -36.78A55.4 55.4 0 0 1 -41.04 -37.21L-35.85 -32.51A48.4 48.4 0 0 0 -36.19 -32.13Z" fill="#5a8fd2"/>
<path d="M-39.45 -38.9A55.4 55.4 0 0 1 -38.9 -39.45L-33.98 -34.46A48.4 48.4 0 0 0 -34.46 -33.98Z" fill="#5a8fd2"/>
<path d="M-38.34 -39.99A55.4 55.4 0 0 1 -37.78 -40.52L-33.01 -35.4A48.4 48.4 0 0 0 -33.5 -34.93Z" fill="#5a8fd2"/>
<path d="M-37.21 -41.04A55.4 55.4 0 0 1 -36.64 -41.56L-32.01 -36.31A48.4 48.4 0 0 0 -32.51 -35.85Z" fill="#5a8fd2"/>
<path d="M-31.62 -45.49A55.4 55.4 0 0 1 -30.98 -45.93L-27.06 -40.13A48.4 48.4 0 0 0 -27.62 -39.74Z" fill="#5a8fd2"/>
<path d="M-29.93 -46.62A55.4 55.4 0 0 1 -29.28 -47.03L-25.58 -41.09A48.4 48.4 0 0 0 -26.15 -40.73Z" fill="#5a8fd2"/>
<path d="M-28.2 -47.69A55.4 55.4 0 0 1 -27.53 -48.07L-24.05 -42A48.4 48.4 0 0 0 -24.64 -41.66Z" fill="#5a8fd2"/>
<path d="M-26.43 -48.69A55.4 55.4 0 0 1 -25.75 -49.05L-22.5 -42.85A48.4 48.4 0 0 0 -23.09 -42.53Z" fill="#5a8fd2"/>
<path d="M-23.06 -50.37A55.4 55.4 0 0 1 -22.53 -50.61L-19.69 -44.22A48.4 48.4 0 0 0 -20.15 -44.01Z" fill="#5a8fd2"/>
<path d="M-21.04 -51.25A55.4 55.4 0 0 1 -20.51 -51.47L-17.92 -44.96A48.4 48.4 0 0 0 -18.39 -44.77Z" fill="#5a8fd2"/>
<path d="M-18.99 -52.04A55.4 55.4 0 0 1 -18.45 -52.24L-16.12 -45.64A48.4 48.4 0 0 0 -16.59 -45.47Z" fill="#5a8fd2"/>
<path d="M-16.91 -52.76A55.4 55.4 0 0 1 -16.36 -52.93L-14.29 -46.24A48.4 48.4 0 0 0 -14.78 -46.09Z" fill="#5a8fd2"/>
<path d="M-14.81 -53.39A55.4 55.4 0 0 1 -14.25 -53.54L-12.45 -46.77A48.4 48.4 0 0 0 -12.93 -46.64Z" fill="#5a8fd2"/>
</g>
<g transform="translate(414.7 119.3) scale(1 1)">
<circle r="71.4" fill="none" stroke="#e3e3e3" stroke-width="13.92"/>
<path d="M0 -82.8A82.8 82.8 0 0 1 36.06 -74.54L34.79 -71.9A79.88 79.88 0 0 0 0 -79.88Z" fill="#9a6a12" stroke="#111" stroke-width="0.6"/>
<path d="M36.06 -74.54A82.8 82.8 0 0 1 63.31 -53.36L61.07 -51.48A79.88 79.88 0 0 0 34.79 -71.9Z" fill="#6e6a14" stroke="#111" stroke-width="0.6"/>
<path d="M63.31 -53.36A82.8 82.8 0 0 1 78.3 -26.94L75.53 -25.99A79.88 79.88 0 0 0 61.07 -51.48Z" fill="#a9a42a" stroke="#111" stroke-width="0.6"/>
<path d="M78.3 -26.94A82.8 82.8 0 0 1 82.77 2.43L79.84 2.35A79.88 79.88 0 0 0 75.53 -25.99Z" fill="#c40a0a" stroke="#111" stroke-width="0.6"/>
<path d="M82.77 2.43A82.8 82.8 0 0 1 76.91 30.67L74.2 29.58A79.88 79.88 0 0 0 79.84 2.35Z" fill="#e01010" stroke="#111" stroke-width="0.6"/>
<path d="M76.91 30.67A82.8 82.8 0 0 1 62 54.88L59.81 52.95A79.88 79.88 0 0 0 74.2 29.58Z" fill="#cc3aa8" stroke="#111" stroke-width="0.6"/>
<path d="M62 54.88A82.8 82.8 0 0 1 40.49 72.23L39.06 69.68A79.88 79.88 0 0 0 59.81 52.95Z" fill="#f6d6d6" stroke="#111" stroke-width="0.6"/>
<path d="M40.49 72.23A82.8 82.8 0 0 1 17.47 80.94L16.85 78.08A79.88 79.88 0 0 0 39.06 69.68Z" fill="#f09a18" stroke="#111" stroke-width="0.6"/>
<path d="M17.47 80.94A82.8 82.8 0 0 1 -6.18 82.57L-5.96 79.65A79.88 79.88 0 0 0 16.85 78.08Z" fill="#f7cc14" stroke="#111" stroke-width="0.6"/>
<path d="M-6.18 82.57A82.8 82.8 0 0 1 -30.4 77.02L-29.33 74.3A79.88 79.88 0 0 0 -5.96 79.65Z" fill="#f6ec10" stroke="#111" stroke-width="0.6"/>
<path d="M-30.4 77.02A82.8 82.8 0 0 1 -50.6 65.54L-48.81 63.23A79.88 79.88 0 0 0 -29.33 74.3Z" fill="#e2e82a" stroke="#111" stroke-width="0.6"/>
<path d="M-50.6 65.54A82.8 82.8 0 0 1 -66.59 49.21L-64.24 47.48A79.88 79.88 0 0 0 -48.81 63.23Z" fill="#86c43a" stroke="#111" stroke-width="0.6"/>
<path d="M-66.59 49.21A82.8 82.8 0 0 1 -77.53 29.08L-74.79 28.05A79.88 79.88 0 0 0 -64.24 47.48Z" fill="#3f8a26" stroke="#111" stroke-width="0.6"/>
<path d="M-77.53 29.08A82.8 82.8 0 0 1 -82.59 5.87L-79.68 5.66A79.88 79.88 0 0 0 -74.79 28.05Z" fill="#26269a" stroke="#111" stroke-width="0.6"/>
<path d="M-82.59 5.87A82.8 82.8 0 0 1 -81.62 -13.92L-78.74 -13.43A79.88 79.88 0 0 0 -79.68 5.66Z" fill="#6e8ee0" stroke="#111" stroke-width="0.6"/>
<path d="M-81.62 -13.92A82.8 82.8 0 0 1 -76.41 -31.89L-73.72 -30.76A79.88 79.88 0 0 0 -78.74 -13.43Z" fill="#a6c8f2" stroke="#111" stroke-width="0.6"/>
<path d="M-76.41 -31.89A82.8 82.8 0 0 1 -67.66 -47.73L-65.27 -46.04A79.88 79.88 0 0 0 -73.72 -30.76Z" fill="#86cdea" stroke="#111" stroke-width="0.6"/>
<path d="M-67.66 -47.73A82.8 82.8 0 0 1 -56.28 -60.73L-54.29 -58.59A79.88 79.88 0 0 0 -65.27 -46.04Z" fill="#eaf8f8" stroke="#111" stroke-width="0.6"/>
<path d="M-56.28 -60.73A82.8 82.8 0 0 1 -47.15 -68.07L-45.48 -65.66A79.88 79.88 0 0 0 -54.29 -58.59Z" fill="#7a2a9a" stroke="#111" stroke-width="0.6"/>
<path d="M-47.15 -68.07A82.8 82.8 0 0 1 -17.38 -80.96L-16.77 -78.1A79.88 79.88 0 0 0 -45.48 -65.66Z" fill="#9a9a9a" stroke="#111" stroke-width="0.6"/>
<path d="M-17.38 -80.96A82.8 82.8 0 0 1 -0 -82.8L-0 -79.88A79.88 79.88 0 0 0 -16.77 -78.1Z" fill="#dcdcdc" stroke="#111" stroke-width="0.6"/>
<path d="M0 -82.8L0 -83.81M1.91 -82.78L1.93 -83.79M3.82 -82.71L3.86 -83.72M5.72 -82.6L5.79 -83.61M7.62 -82.45L7.72 -83.45M9.52 -82.25L9.64 -83.25M11.42 -82.01L11.56 -83.01M13.3 -81.73L13.47 -82.72M15.18 -81.4L15.37 -82.39M17.06 -81.03L17.26 -82.01M18.92 -80.61L19.15 -81.59M20.77 -80.15L21.03 -81.13M22.61 -79.65L22.89 -80.62M24.45 -79.11L24.74 -80.07M26.26 -78.53L26.58 -79.48M28.07 -77.9L28.41 -78.85M29.85 -77.23L30.22 -78.17M31.63 -76.52L32.01 -77.46M33.38 -75.77L33.79 -76.7M35.12 -74.98L35.55 -75.9M36.06 -74.54L36.5 -75.44M37.77 -73.68L38.23 -74.58M39.46 -72.79L39.94 -73.68M41.13 -71.87L41.63 -72.74M42.77 -70.9L43.29 -71.76M44.4 -69.89L44.94 -70.74M45.99 -68.85L46.55 -69.69M47.57 -67.77L48.15 -68.6M49.12 -66.66L49.72 -67.47M50.64 -65.51L51.26 -66.31M52.14 -64.32L52.77 -65.11M53.61 -63.1L54.26 -63.87M55.05 -61.85L55.72 -62.61M56.46 -60.57L57.15 -61.3M57.84 -59.25L58.55 -59.97M59.19 -57.9L59.91 -58.61M60.51 -56.52L61.25 -57.21M61.8 -55.11L62.55 -55.78M63.05 -53.67L63.82 -54.32M63.31 -53.36L64.08 -54.01M64.52 -51.89L65.31 -52.52M65.7 -50.39L66.5 -51M66.85 -48.86L67.66 -49.46M67.96 -47.31L68.78 -47.88M69.03 -45.73L69.87 -46.29M70.06 -44.12L70.92 -44.66M71.06 -42.5L71.93 -43.02M72.02 -40.85L72.9 -41.35M72.95 -39.18L73.83 -39.65M73.83 -37.49L74.73 -37.94M74.67 -35.77L75.58 -36.21M75.48 -34.04L76.4 -34.46M76.24 -32.29L77.17 -32.69M76.97 -30.53L77.91 -30.9M77.65 -28.75L78.6 -29.1M78.29 -26.95L79.25 -27.28M78.3 -26.94L79.25 -27.27M78.9 -25.13L79.86 -25.44M79.45 -23.3L80.42 -23.59M79.97 -21.47L80.94 -21.73M80.44 -19.62L81.42 -19.86M80.87 -17.76L81.86 -17.97M81.26 -15.89L82.25 -16.08M81.61 -14.01L82.6 -14.18M81.91 -12.13L82.91 -12.27M82.17 -10.23L83.17 -10.36M82.38 -8.34L83.38 -8.44M82.55 -6.44L83.56 -6.52M82.68 -4.53L83.68 -4.59M82.76 -2.63L83.77 -2.66M82.8 -0.72L83.81 -0.73M82.79 1.19L83.8 1.21M82.77 2.43L83.77 2.46M82.69 4.34L83.69 4.39M82.56 6.25L83.57 6.32M82.4 8.15L83.4 8.25M82.19 10.05L83.19 10.17M81.94 11.94L82.93 12.08M81.64 13.82L82.63 13.99M81.3 15.7L82.29 15.89M80.92 17.57L81.9 17.78M80.49 19.43L81.47 19.67M80.02 21.28L80.99 21.54M79.51 23.12L80.48 23.4M78.95 24.95L79.92 25.25M78.36 26.76L79.31 27.09M77.72 28.56L78.67 28.91M77.04 30.34L77.98 30.71M76.91 30.67L77.85 31.04M76.18 32.43L77.11 32.83M75.42 34.18L76.34 34.6M74.61 35.91L75.52 36.35M73.76 37.62L74.66 38.08M72.87 39.31L73.76 39.79M71.95 40.98L72.83 41.48M70.99 42.63L71.85 43.15M69.98 44.25L70.84 44.79M68.94 45.85L69.78 46.41M67.87 47.43L68.7 48.01M66.76 48.98L67.57 49.58M65.61 50.51L66.41 51.12M64.43 52.01L65.21 52.64M63.21 53.48L63.98 54.13M62 54.88L62.75 55.55M60.72 56.3L61.45 56.99M59.4 57.68L60.13 58.39M58.06 59.04L58.76 59.76M56.68 60.36L57.37 61.1M55.27 61.65L55.95 62.4M53.84 62.91L54.49 63.68M52.37 64.13L53.01 64.91M50.88 65.32L51.5 66.12M49.36 66.48L49.96 67.29M47.82 67.6L48.4 68.42M46.24 68.68L46.81 69.52M44.65 69.73L45.19 70.58M43.03 70.74L43.55 71.6M41.39 71.71L41.89 72.59M40.49 72.23L40.98 73.11M38.81 73.14L39.28 74.03M37.11 74.02L37.57 74.92M35.4 74.85L35.83 75.76M33.66 75.65L34.07 76.57M31.91 76.41L32.3 77.34M30.14 77.12L30.51 78.06M28.35 77.79L28.7 78.74M26.55 78.43L26.88 79.38M24.74 79.02L25.04 79.98M22.91 79.57L23.19 80.54M21.07 80.08L21.33 81.05M19.22 80.54L19.45 81.52M17.47 80.94L17.68 81.92M15.6 81.32L15.79 82.31M13.72 81.66L13.89 82.65M11.83 81.95L11.98 82.95M9.94 82.2L10.06 83.2M8.04 82.41L8.14 83.41M6.14 82.57L6.22 83.58M4.24 82.69L4.29 83.7M2.33 82.77L2.36 83.78M0.42 82.8L0.43 83.81M-1.49 82.79L-1.51 83.8M-3.39 82.73L-3.44 83.74M-5.3 82.63L-5.37 83.64M-6.18 82.57L-6.25 83.58M-8.08 82.41L-8.18 83.41M-9.98 82.2L-10.1 83.2M-11.87 81.95L-12.01 82.94M-13.75 81.65L-13.92 82.65M-15.63 81.31L-15.82 82.3M-17.5 80.93L-17.72 81.92M-19.36 80.5L-19.6 81.49M-21.21 80.04L-21.47 81.01M-23.05 79.53L-23.33 80.5M-24.88 78.97L-25.18 79.94M-26.69 78.38L-27.02 79.33M-28.49 77.74L-28.84 78.69M-30.28 77.07L-30.65 78M-30.4 77.02L-30.77 77.96M-32.17 76.3L-32.56 77.23M-33.92 75.53L-34.33 76.45M-35.65 74.73L-36.09 75.64M-37.36 73.89L-37.82 74.79M-39.06 73.01L-39.53 73.9M-40.73 72.09L-41.23 72.97M-42.38 71.13L-42.9 72M-44.01 70.14L-44.55 70.99M-45.61 69.1L-46.17 69.95M-47.2 68.03L-47.77 68.86M-48.75 66.93L-49.34 67.74M-50.28 65.79L-50.89 66.59M-50.6 65.54L-51.21 66.34M-52.09 64.36L-52.73 65.14M-53.56 63.14L-54.22 63.91M-55 61.89L-55.67 62.65M-56.42 60.61L-57.1 61.35M-57.8 59.29L-58.5 60.01M-59.15 57.94L-59.87 58.65M-60.47 56.56L-61.21 57.25M-61.76 55.15L-62.51 55.83M-63.01 53.72L-63.78 54.37M-64.23 52.25L-65.02 52.89M-65.42 50.75L-66.22 51.37M-66.57 49.23L-67.38 49.83M-66.59 49.21L-67.4 49.81M-67.71 47.67L-68.53 48.25M-68.79 46.09L-69.62 46.65M-69.83 44.49L-70.68 45.04M-70.84 42.87L-71.7 43.39M-71.81 41.23L-72.68 41.73M-72.74 39.56L-73.62 40.04M-73.63 37.87L-74.53 38.34M-74.48 36.17L-75.39 36.61M-75.3 34.44L-76.22 34.86M-76.07 32.7L-77 33.09M-76.81 30.93L-77.74 31.31M-77.5 29.16L-78.44 29.51M-77.53 29.08L-78.47 29.43M-78.18 27.29L-79.13 27.62M-78.78 25.48L-79.74 25.79M-79.35 23.65L-80.32 23.94M-79.87 21.82L-80.85 22.08M-80.36 19.97L-81.34 20.21M-80.8 18.11L-81.78 18.33M-81.19 16.25L-82.18 16.44M-81.54 14.37L-82.54 14.55M-81.85 12.49L-82.85 12.64M-82.12 10.6L-83.12 10.73M-82.34 8.7L-83.35 8.81M-82.52 6.8L-83.53 6.88M-82.59 5.87L-83.6 5.94M-82.71 3.96L-83.71 4.01M-82.78 2.05L-83.78 2.08M-82.8 0.15L-83.81 0.15M-82.78 -1.76L-83.79 -1.78M-82.72 -3.67L-83.73 -3.72M-82.61 -5.58L-83.62 -5.64M-82.46 -7.48L-83.47 -7.57M-82.27 -9.38L-83.27 -9.49M-82.03 -11.27L-83.03 -11.41M-81.75 -13.16L-82.74 -13.32M-81.62 -13.92L-82.62 -14.09M-81.28 -15.8L-82.27 -15.99M-80.89 -17.67L-81.88 -17.88M-80.47 -19.53L-81.45 -19.77M-79.99 -21.38L-80.97 -21.64M-79.48 -23.22L-80.45 -23.5M-78.92 -25.04L-79.88 -25.35M-78.33 -26.85L-79.28 -27.18M-77.69 -28.65L-78.63 -29M-77 -30.44L-77.94 -30.81M-76.41 -31.89L-77.35 -32.28M-75.66 -33.64L-76.58 -34.05M-74.86 -35.38L-75.78 -35.81M-74.03 -37.09L-74.93 -37.54M-73.15 -38.79L-74.04 -39.26M-72.24 -40.46L-73.12 -40.96M-71.29 -42.12L-72.16 -42.63M-70.3 -43.75L-71.15 -44.28M-69.27 -45.36L-70.11 -45.91M-68.21 -46.94L-69.04 -47.52M-67.66 -47.73L-68.49 -48.31M-66.54 -49.27L-67.35 -49.87M-65.39 -50.79L-66.19 -51.41M-64.2 -52.29L-64.98 -52.92M-62.98 -53.75L-63.75 -54.41M-61.72 -55.19L-62.48 -55.86M-60.44 -56.6L-61.17 -57.29M-59.11 -57.98L-59.83 -58.68M-57.76 -59.32L-58.47 -60.05M-56.38 -60.64L-57.07 -61.38M-56.28 -60.73L-56.97 -61.47M-54.87 -62.01L-55.54 -62.77M-53.42 -63.26L-54.07 -64.03M-51.95 -64.48L-52.58 -65.26M-50.45 -65.66L-51.06 -66.46M-48.92 -66.8L-49.52 -67.62M-47.37 -67.91L-47.95 -68.74M-47.15 -68.07L-47.72 -68.9M-45.57 -69.14L-46.12 -69.98M-43.96 -70.17L-44.49 -71.02M-42.33 -71.16L-42.85 -72.03M-40.68 -72.12L-41.17 -73M-39.01 -73.04L-39.48 -73.93M-37.31 -73.92L-37.77 -74.82M-35.6 -74.76L-36.03 -75.67M-33.86 -75.56L-34.28 -76.48M-32.11 -76.32L-32.51 -77.25M-30.35 -77.04L-30.72 -77.98M-28.56 -77.72L-28.91 -78.67M-26.76 -78.36L-27.09 -79.31M-24.95 -78.95L-25.25 -79.91M-23.12 -79.51L-23.4 -80.48M-21.28 -80.02L-21.54 -80.99M-19.43 -80.49L-19.67 -81.47M-17.57 -80.91L-17.79 -81.9M-17.38 -80.96L-17.59 -81.94M-15.51 -81.34L-15.7 -82.33M-13.63 -81.67L-13.8 -82.67M-11.75 -81.96L-11.89 -82.96M-9.85 -82.21L-9.97 -83.21M-7.96 -82.42L-8.05 -83.42M-6.05 -82.58L-6.13 -83.59M-4.15 -82.7L-4.2 -83.7M-2.24 -82.77L-2.27 -83.78M-0.33 -82.8L-0.34 -83.81" stroke="#222" stroke-width="0.4" fill="none"/>
<g font-size="3.6" fill="#3c3c3c" stroke="#4a4a4a" stroke-width="0.1" font-family='"Liberation Sans", sans-serif'><text transform="translate(0 -84.52) rotate(-90)" dy="1.3">0</text><text transform="translate(3.9 -84.43) rotate(-87.36)" dy="1.3">20</text><text transform="translate(7.78 -84.16) rotate(-84.72)" dy="1.3">40</text><text transform="translate(11.65 -83.71) rotate(-82.07)" dy="1.3">60</text><text transform="translate(15.5 -83.08) rotate(-79.43)" dy="1.3">80</text><text transform="translate(19.31 -82.28) rotate(-76.79)" dy="1.3">100</text><text transform="translate(23.08 -81.3) rotate(-74.15)" dy="1.3">120</text><text transform="translate(26.81 -80.15) rotate(-71.51)" dy="1.3">140</text><text transform="translate(30.47 -78.83) rotate(-68.87)" dy="1.3">160</text><text transform="translate(34.07 -77.34) rotate(-66.22)" dy="1.3">180</text><text transform="translate(36.81 -76.08) rotate(-64.18)" dy="1.3">0</text><text transform="translate(40.28 -74.3) rotate(-61.54)" dy="1.3">20</text><text transform="translate(43.66 -72.37) rotate(-58.9)" dy="1.3">40</text><text transform="translate(46.95 -70.28) rotate(-56.26)" dy="1.3">60</text><text transform="translate(50.14 -68.04) rotate(-53.61)" dy="1.3">80</text><text transform="translate(53.22 -65.66) rotate(-50.97)" dy="1.3">100</text><text transform="translate(56.19 -63.13) rotate(-48.33)" dy="1.3">120</text><text transform="translate(59.04 -60.48) rotate(-45.69)" dy="1.3">140</text><text transform="translate(61.76 -57.69) rotate(-43.05)" dy="1.3">160</text><text transform="translate(64.36 -54.78) rotate(-40.41)" dy="1.3">180</text><text transform="translate(64.62 -54.47) rotate(-40.13)" dy="1.3">0</text><text transform="translate(67.06 -51.43) rotate(-37.49)" dy="1.3">20</text><text transform="translate(69.36 -48.29) rotate(-34.84)" dy="1.3">40</text><text transform="translate(71.51 -45.04) rotate(-32.2)" dy="1.3">60</text><text transform="translate(73.51 -41.69) rotate(-29.56)" dy="1.3">80</text><text transform="translate(75.36 -38.26) rotate(-26.92)" dy="1.3">100</text><text transform="translate(77.04 -34.75) rotate(-24.28)" dy="1.3">120</text><text transform="translate(78.56 -31.16) rotate(-21.64)" dy="1.3">140</text><text transform="translate(79.91 -27.51) rotate(-18.99)" dy="1.3">160</text><text transform="translate(79.92 -27.5) rotate(-18.99)" dy="1.3">0</text><text transform="translate(81.1 -23.79) rotate(-16.35)" dy="1.3">20</text><text transform="translate(82.11 -20.02) rotate(-13.7)" dy="1.3">40</text><text transform="translate(82.94 -16.22) rotate(-11.06)" dy="1.3">60</text><text transform="translate(83.6 -12.38) rotate(-8.42)" dy="1.3">80</text><text transform="translate(84.09 -8.51) rotate(-5.78)" dy="1.3">100</text><text transform="translate(84.39 -4.63) rotate(-3.14)" dy="1.3">120</text><text transform="translate(84.51 -0.73) rotate(-0.5)" dy="1.3">140</text><text transform="translate(84.48 2.48) rotate(1.68)" dy="1.3">0</text><text transform="translate(84.27 6.38) rotate(4.33)" dy="1.3">20</text><text transform="translate(83.89 10.25) rotate(6.97)" dy="1.3">40</text><text transform="translate(83.33 14.11) rotate(9.61)" dy="1.3">60</text><text transform="translate(82.59 17.93) rotate(12.25)" dy="1.3">80</text><text transform="translate(81.68 21.72) rotate(14.89)" dy="1.3">100</text><text transform="translate(80.59 25.46) rotate(17.54)" dy="1.3">120</text><text transform="translate(79.33 29.15) rotate(20.18)" dy="1.3">140</text><text transform="translate(78.5 31.3) rotate(21.74)" dy="1.3">0</text><text transform="translate(76.98 34.89) rotate(24.38)" dy="1.3">20</text><text transform="translate(75.29 38.4) rotate(27.02)" dy="1.3">40</text><text transform="translate(73.44 41.83) rotate(29.66)" dy="1.3">60</text><text transform="translate(71.43 45.17) rotate(32.31)" dy="1.3">80</text><text transform="translate(69.27 48.41) rotate(34.95)" dy="1.3">100</text><text transform="translate(66.97 51.55) rotate(37.59)" dy="1.3">120</text><text transform="translate(64.52 54.59) rotate(40.23)" dy="1.3">140</text><text transform="translate(63.28 56.02) rotate(41.52)" dy="1.3">0</text><text transform="translate(60.63 58.88) rotate(44.16)" dy="1.3">20</text><text transform="translate(57.85 61.61) rotate(46.8)" dy="1.3">40</text><text transform="translate(54.95 64.21) rotate(49.44)" dy="1.3">60</text><text transform="translate(51.93 66.68) rotate(52.08)" dy="1.3">80</text><text transform="translate(48.81 69) rotate(54.73)" dy="1.3">100</text><text transform="translate(45.57 71.17) rotate(57.37)" dy="1.3">120</text><text transform="translate(42.25 73.2) rotate(60.01)" dy="1.3">140</text><text transform="translate(41.32 73.72) rotate(60.73)" dy="1.3">0</text><text transform="translate(37.88 75.55) rotate(63.37)" dy="1.3">20</text><text transform="translate(34.36 77.22) rotate(66.01)" dy="1.3">40</text><text transform="translate(30.76 78.72) rotate(68.65)" dy="1.3">60</text><text transform="translate(27.1 80.05) rotate(71.3)" dy="1.3">80</text><text transform="translate(23.38 81.22) rotate(73.94)" dy="1.3">100</text><text transform="translate(19.62 82.21) rotate(76.58)" dy="1.3">120</text><text transform="translate(17.83 82.61) rotate(77.82)" dy="1.3">0</text><text transform="translate(14 83.35) rotate(80.46)" dy="1.3">20</text><text transform="translate(10.15 83.9) rotate(83.1)" dy="1.3">40</text><text transform="translate(6.27 84.28) rotate(85.75)" dy="1.3">60</text><text transform="translate(2.38 84.48) rotate(88.39)" dy="1.3">80</text><text transform="translate(-1.52 84.5) rotate(91.03)" dy="1.3">100</text><text transform="translate(-5.41 84.34) rotate(93.67)" dy="1.3">120</text><text transform="translate(-6.3 84.28) rotate(94.28)" dy="1.3">0</text><text transform="translate(-10.18 83.9) rotate(96.92)" dy="1.3">20</text><text transform="translate(-14.04 83.34) rotate(99.56)" dy="1.3">40</text><text transform="translate(-17.87 82.61) rotate(102.2)" dy="1.3">60</text><text transform="translate(-21.65 81.69) rotate(104.85)" dy="1.3">80</text><text transform="translate(-25.4 80.61) rotate(107.49)" dy="1.3">100</text><text transform="translate(-29.08 79.35) rotate(110.13)" dy="1.3">120</text><text transform="translate(-31.03 78.61) rotate(111.54)" dy="1.3">0</text><text transform="translate(-34.62 77.1) rotate(114.18)" dy="1.3">20</text><text transform="translate(-38.14 75.42) rotate(116.82)" dy="1.3">40</text><text transform="translate(-41.57 73.58) rotate(119.47)" dy="1.3">60</text><text transform="translate(-44.92 71.59) rotate(122.11)" dy="1.3">80</text><text transform="translate(-48.17 69.44) rotate(124.75)" dy="1.3">100</text><text transform="translate(-51.32 67.15) rotate(127.39)" dy="1.3">120</text><text transform="translate(-51.64 66.9) rotate(127.67)" dy="1.3">0</text><text transform="translate(-54.67 64.45) rotate(130.31)" dy="1.3">20</text><text transform="translate(-57.58 61.86) rotate(132.95)" dy="1.3">40</text><text transform="translate(-60.37 59.14) rotate(135.59)" dy="1.3">60</text><text transform="translate(-63.04 56.3) rotate(138.23)" dy="1.3">80</text><text transform="translate(-65.56 53.33) rotate(140.87)" dy="1.3">100</text><text transform="translate(-67.95 50.25) rotate(143.52)" dy="1.3">120</text><text transform="translate(-67.97 50.23) rotate(143.53)" dy="1.3">0</text><text transform="translate(-70.21 47.05) rotate(146.17)" dy="1.3">20</text><text transform="translate(-72.3 43.76) rotate(148.82)" dy="1.3">40</text><text transform="translate(-74.24 40.38) rotate(151.46)" dy="1.3">60</text><text transform="translate(-76.03 36.92) rotate(154.1)" dy="1.3">80</text><text transform="translate(-77.65 33.37) rotate(156.74)" dy="1.3">100</text><text transform="translate(-79.1 29.76) rotate(159.38)" dy="1.3">120</text><text transform="translate(-79.13 29.68) rotate(159.44)" dy="1.3">0</text><text transform="translate(-80.42 26) rotate(162.08)" dy="1.3">20</text><text transform="translate(-81.53 22.27) rotate(164.72)" dy="1.3">40</text><text transform="translate(-82.47 18.49) rotate(167.36)" dy="1.3">60</text><text transform="translate(-83.23 14.67) rotate(170.01)" dy="1.3">80</text><text transform="translate(-83.82 10.82) rotate(172.65)" dy="1.3">100</text><text transform="translate(-84.23 6.94) rotate(175.29)" dy="1.3">120</text><text transform="translate(-84.3 5.99) rotate(175.94)" dy="1.3">0</text><text transform="translate(-84.49 2.1) rotate(178.58)" dy="1.3">20</text><text transform="translate(-84.5 -1.8) rotate(181.22)" dy="1.3">40</text><text transform="translate(-84.32 -5.69) rotate(183.86)" dy="1.3">60</text><text transform="translate(-83.97 -9.57) rotate(186.5)" dy="1.3">80</text><text transform="translate(-83.44 -13.43) rotate(189.14)" dy="1.3">100</text><text transform="translate(-83.31 -14.21) rotate(189.68)" dy="1.3">0</text><text transform="translate(-82.57 -18.03) rotate(192.32)" dy="1.3">20</text><text transform="translate(-81.65 -21.82) rotate(194.96)" dy="1.3">40</text><text transform="translate(-80.56 -25.56) rotate(197.6)" dy="1.3">60</text><text transform="translate(-79.29 -29.25) rotate(200.25)" dy="1.3">80</text><text transform="translate(-78 -32.55) rotate(202.65)" dy="1.3">0</text><text transform="translate(-76.41 -36.11) rotate(205.29)" dy="1.3">20</text><text transform="translate(-74.67 -39.59) rotate(207.93)" dy="1.3">40</text><text transform="translate(-72.76 -42.99) rotate(210.58)" dy="1.3">60</text><text transform="translate(-70.71 -46.3) rotate(213.22)" dy="1.3">80</text><text transform="translate(-69.06 -48.71) rotate(215.2)" dy="1.3">0</text><text transform="translate(-66.74 -51.85) rotate(217.84)" dy="1.3">20</text><text transform="translate(-64.28 -54.87) rotate(220.48)" dy="1.3">40</text><text transform="translate(-61.69 -57.77) rotate(223.12)" dy="1.3">60</text><text transform="translate(-58.96 -60.55) rotate(225.76)" dy="1.3">80</text><text transform="translate(-57.45 -61.99) rotate(227.18)" dy="1.3">0</text><text transform="translate(-54.53 -64.57) rotate(229.82)" dy="1.3">20</text><text transform="translate(-51.5 -67.02) rotate(232.46)" dy="1.3">40</text><text transform="translate(-48.35 -69.32) rotate(235.1)" dy="1.3">60</text><text transform="translate(-48.12 -69.48) rotate(235.29)" dy="1.3">0</text><text transform="translate(-44.87 -71.62) rotate(237.93)" dy="1.3">20</text><text transform="translate(-41.52 -73.61) rotate(240.58)" dy="1.3">40</text><text transform="translate(-38.08 -75.45) rotate(243.22)" dy="1.3">60</text><text transform="translate(-34.57 -77.12) rotate(245.86)" dy="1.3">80</text><text transform="translate(-30.97 -78.63) rotate(248.5)" dy="1.3">100</text><text transform="translate(-27.32 -79.98) rotate(251.14)" dy="1.3">120</text><text transform="translate(-23.6 -81.15) rotate(253.78)" dy="1.3">140</text><text transform="translate(-19.84 -82.15) rotate(256.43)" dy="1.3">160</text><text transform="translate(-17.74 -82.63) rotate(257.88)" dy="1.3">0</text><text transform="translate(-13.91 -83.36) rotate(260.52)" dy="1.3">20</text><text transform="translate(-10.06 -83.91) rotate(263.17)" dy="1.3">40</text><text transform="translate(-6.18 -84.29) rotate(265.81)" dy="1.3">60</text><text transform="translate(-2.29 -84.48) rotate(268.45)" dy="1.3">80</text></g>
<text transform="translate(20.73 -90.44) rotate(12.91)" text-anchor="middle" dx="2.9" font-size="6.5" fill="#1a1a1a" stroke="#1a1a1a" stroke-width="0.18" font-family='"Liberation Sans", sans-serif'>chr1</text>
<text transform="translate(56.93 -73.27) rotate(37.85)" text-anchor="middle" dx="2.9" font-size="6.5" fill="#1a1a1a" stroke="#1a1a1a" stroke-width="0.18" font-family='"Liberation Sans", sans-serif'>chr2</text>
<text transform="translate(80.71 -45.77) rotate(60.44)" text-anchor="middle" dx="2.9" font-size="6.5" fill="#1a1a1a" stroke="#1a1a1a" stroke-width="0.18" font-family='"Liberation Sans", sans-serif'>chr3</text>
<text transform="translate(91.73 -13.96) rotate(81.35)" text-anchor="middle" dx="2.9" font-size="6.5" fill="#1a1a1a" stroke="#1a1a1a" stroke-width="0.18" font-family='"Liberation Sans", sans-serif'>chr4</text>
<text transform="translate(95 19.69) rotate(-78.29)" text-anchor="middle" dx="2.9" font-size="6.5" fill="#1a1a1a" stroke="#1a1a1a" stroke-width="0.18" font-family='"Liberation Sans", sans-serif'>chr5</text>
<text transform="translate(82.61 50.88) rotate(-58.37)" text-anchor="middle" dx="2.9" font-size="6.5" fill="#1a1a1a" stroke="#1a1a1a" stroke-width="0.18" font-family='"Liberation Sans", sans-serif'>chr6</text>
<text transform="translate(60.9 75.53) rotate(-38.88)" text-anchor="middle" dx="2.9" font-size="6.5" fill="#1a1a1a" stroke="#1a1a1a" stroke-width="0.18" font-family='"Liberation Sans", sans-serif'>chr7</text>
<text transform="translate(34.34 90.74) rotate(-20.73)" text-anchor="middle" dx="2.9" font-size="6.5" fill="#1a1a1a" stroke="#1a1a1a" stroke-width="0.18" font-family='"Liberation Sans", sans-serif'>chr8</text>
<text transform="translate(6.68 96.79) rotate(-3.95)" text-anchor="middle" dx="2.9" font-size="6.5" fill="#1a1a1a" stroke="#1a1a1a" stroke-width="0.18" font-family='"Liberation Sans", sans-serif'>chr9</text>
<text transform="translate(-21.68 94.57) rotate(12.91)" text-anchor="middle" dx="2.9" font-size="6.5" fill="#1a1a1a" stroke="#1a1a1a" stroke-width="0.18" font-family='"Liberation Sans", sans-serif'>chr10</text>
<text transform="translate(-47.93 84.36) rotate(29.6)" text-anchor="middle" dx="2.9" font-size="6.5" fill="#1a1a1a" stroke="#1a1a1a" stroke-width="0.18" font-family='"Liberation Sans", sans-serif'>chr11</text>
<text transform="translate(-69.32 67.88) rotate(45.6)" text-anchor="middle" dx="2.9" font-size="6.5" fill="#1a1a1a" stroke="#1a1a1a" stroke-width="0.18" font-family='"Liberation Sans", sans-serif'>chr12</text>
<text transform="translate(-85.25 46.32) rotate(61.49)" text-anchor="middle" dx="2.9" font-size="6.5" fill="#1a1a1a" stroke="#1a1a1a" stroke-width="0.18" font-family='"Liberation Sans", sans-serif'>chr13</text>
<text transform="translate(-94.79 20.69) rotate(77.69)" text-anchor="middle" dx="2.9" font-size="6.5" fill="#1a1a1a" stroke="#1a1a1a" stroke-width="0.18" font-family='"Liberation Sans", sans-serif'>chr14</text>
<text transform="translate(-92.67 -4.54) rotate(-87.19)" text-anchor="middle" dx="2.9" font-size="6.5" fill="#1a1a1a" stroke="#1a1a1a" stroke-width="0.18" font-family='"Liberation Sans", sans-serif'>chr15</text>
<text transform="translate(-89.12 -25.83) rotate(-73.84)" text-anchor="middle" dx="2.9" font-size="6.5" fill="#1a1a1a" stroke="#1a1a1a" stroke-width="0.18" font-family='"Liberation Sans", sans-serif'>chr16</text>
<text transform="translate(-81.21 -44.88) rotate(-61.08)" text-anchor="middle" dx="2.9" font-size="6.5" fill="#1a1a1a" stroke="#1a1a1a" stroke-width="0.18" font-family='"Liberation Sans", sans-serif'>chr17</text>
<text transform="translate(-69.83 -61.1) rotate(-48.81)" text-anchor="middle" dx="2.9" font-size="6.5" fill="#1a1a1a" stroke="#1a1a1a" stroke-width="0.18" font-family='"Liberation Sans", sans-serif'>chr18</text>
<text transform="translate(-58.1 -72.35) rotate(-38.77)" text-anchor="middle" dx="2.9" font-size="6.5" fill="#1a1a1a" stroke="#1a1a1a" stroke-width="0.18" font-family='"Liberation Sans", sans-serif'>chr19</text>
<text transform="translate(-36.87 -85.15) rotate(-23.41)" text-anchor="middle" dx="2.9" font-size="6.5" fill="#1a1a1a" stroke="#1a1a1a" stroke-width="0.18" font-family='"Liberation Sans", sans-serif'>chrX</text>
<text transform="translate(-9.79 -92.27) rotate(-6.06)" text-anchor="middle" dx="2.9" font-size="6.5" fill="#1a1a1a" stroke="#1a1a1a" stroke-width="0.18" font-family='"Liberation Sans", sans-serif'>chrY</text>
<path d="M15.22 -76.87A78.36 78.36 0 0 1 16.56 -76.59L15.17 -70.19A71.81 71.81 0 0 0 13.95 -70.44Z" fill="#e4583a"/>
<path d="M18.38 -76.28A78.46 78.46 0 0 1 20.37 -75.77L18.65 -69.34A71.81 71.81 0 0 0 16.82 -69.81Z" fill="#e4583a"/>
<path d="M19.87 -75.49A78.06 78.06 0 0 1 21.84 -74.94L20.09 -68.94A71.81 71.81 0 0 0 18.28 -69.44Z" fill="#e4583a"/>
<path d="M21.56 -75.44A78.46 78.46 0 0 1 23.53 -74.85L21.53 -68.5A71.81 71.81 0 0 0 19.73 -69.04Z" fill="#e4583a"/>
<path d="M22.96 -74.4A77.86 77.86 0 0 1 24.9 -73.77L22.96 -68.04A71.81 71.81 0 0 0 21.17 -68.61Z" fill="#e4583a"/>
<path d="M23.62 -71.22A75.04 75.04 0 0 1 25.73 -70.49L24.62 -67.46A71.81 71.81 0 0 0 22.61 -68.16Z" fill="#e4583a"/>
<path d="M57.7 -47.65A74.83 74.83 0 0 1 58.28 -46.94L55.92 -45.04A71.81 71.81 0 0 0 55.37 -45.72Z" fill="#e4583a"/>
<path d="M58.52 -46.64A74.83 74.83 0 0 1 59.09 -45.92L56.7 -44.06A71.81 71.81 0 0 0 56.16 -44.75Z" fill="#e4583a"/>
<path d="M70.31 -24.42A74.43 74.43 0 0 1 70.6 -23.56L68.12 -22.73A71.81 71.81 0 0 0 67.83 -23.56Z" fill="#e4583a"/>
<path d="M78.87 0.14A78.87 78.87 0 0 1 78.86 1.24L71.8 1.13A71.81 71.81 0 0 0 71.81 0.13Z" fill="#e4583a"/>
<path d="M75.73 4.1A75.84 75.84 0 0 1 75.67 5.16L71.64 4.88A71.81 71.81 0 0 0 71.7 3.88Z" fill="#e4583a"/>
<path d="M74.11 5.7A74.33 74.33 0 0 1 74.02 6.74L71.51 6.51A71.81 71.81 0 0 0 71.6 5.51Z" fill="#e4583a"/>
<path d="M71.91 14.3A73.32 73.32 0 0 1 71.73 15.18L70.25 14.87A71.81 71.81 0 0 0 70.43 14.01Z" fill="#e4583a"/>
<path d="M69.17 25.79A73.82 73.82 0 0 1 68.85 26.64L66.97 25.91A71.81 71.81 0 0 0 67.28 25.09Z" fill="#e4583a"/>
<path d="M54.19 49.39A73.32 73.32 0 0 1 53.58 50.05L52.47 49.02A71.81 71.81 0 0 0 53.07 48.37Z" fill="#e4583a"/>
<path d="M50.52 53.14A73.32 73.32 0 0 1 49.86 53.75L48.84 52.64A71.81 71.81 0 0 0 49.47 52.04Z" fill="#e4583a"/>
<path d="M33.34 65.87A73.82 73.82 0 0 1 32.54 66.27L31.65 64.46A71.81 71.81 0 0 0 32.43 64.07Z" fill="#e4583a"/>
<path d="M21.3 71.21A74.33 74.33 0 0 1 20.43 71.47L19.73 69.04A71.81 71.81 0 0 0 20.57 68.8Z" fill="#e4583a"/>
<path d="M15.81 71.6A73.32 73.32 0 0 1 14.93 71.78L14.62 70.3A71.81 71.81 0 0 0 15.48 70.12Z" fill="#e4583a"/>
<path d="M-6.66 72.51A72.82 72.82 0 0 1 -7.55 72.42L-7.44 71.42A71.81 71.81 0 0 0 -6.57 71.51Z" fill="#e4583a"/>
<path d="M-14.43 71.89A73.32 73.32 0 0 1 -15.31 71.71L-14.99 70.23A71.81 71.81 0 0 0 -14.13 70.4Z" fill="#e4583a"/>
<path d="M-26.93 68.2A73.32 73.32 0 0 1 -27.76 67.86L-27.19 66.46A71.81 71.81 0 0 0 -26.38 66.79Z" fill="#e4583a"/>
<path d="M-47.05 55.58A72.82 72.82 0 0 1 -47.72 55L-47.06 54.24A71.81 71.81 0 0 0 -46.4 54.81Z" fill="#e4583a"/>
<path d="M-54.66 48.11A72.82 72.82 0 0 1 -55.25 47.44L-54.48 46.78A71.81 71.81 0 0 0 -53.91 47.44Z" fill="#e4583a"/>
<path d="M-58.87 42.85A72.82 72.82 0 0 1 -59.39 42.13L-58.57 41.55A71.81 71.81 0 0 0 -58.06 42.26Z" fill="#e4583a"/>
<path d="M-71.42 18.67A73.82 73.82 0 0 1 -71.65 17.8L-69.69 17.31A71.81 71.81 0 0 0 -69.47 18.16Z" fill="#e4583a"/>
<path d="M-77.24 -11.96A78.16 78.16 0 0 1 -77.07 -13.03L-70.8 -11.98A71.81 71.81 0 0 0 -70.96 -10.99Z" fill="#e4583a"/>
<path d="M-68.28 -31.84A75.34 75.34 0 0 1 -67.83 -32.79L-64.65 -31.25A71.81 71.81 0 0 0 -65.08 -30.35Z" fill="#e4583a"/>
<path d="M-63.87 -44.89A78.06 78.06 0 0 1 -63.23 -45.77L-58.17 -42.11A71.81 71.81 0 0 0 -58.75 -41.29Z" fill="#e4583a"/>
<path d="M-48.63 -54.87A73.32 73.32 0 0 1 -47.96 -55.46L-46.97 -54.32A71.81 71.81 0 0 0 -47.63 -53.74Z" fill="#e4583a"/>
<path d="M-38.47 -62.42A73.32 73.32 0 0 1 -37.71 -62.88L-36.93 -61.58A71.81 71.81 0 0 0 -37.68 -61.13Z" fill="#e4583a"/>
<path d="M-31.85 -66.04A73.32 73.32 0 0 1 -31.04 -66.42L-30.4 -65.05A71.81 71.81 0 0 0 -31.2 -64.68Z" fill="#e4583a"/>
<path d="M-27 -68.71A73.82 73.82 0 0 1 -26.16 -69.04L-25.44 -67.15A71.81 71.81 0 0 0 -26.26 -66.83Z" fill="#e4583a"/>
<path d="M-24.34 -69.7A73.82 73.82 0 0 1 -23.49 -69.99L-22.84 -68.08A71.81 71.81 0 0 0 -23.67 -67.79Z" fill="#e4583a"/>
<path d="M-21.59 -72.18A75.34 75.34 0 0 1 -20.7 -72.44L-19.73 -69.04A71.81 71.81 0 0 0 -20.57 -68.8Z" fill="#e4583a"/>
<path d="M-18.42 -70.97A73.32 73.32 0 0 1 -17.55 -71.19L-17.19 -69.72A71.81 71.81 0 0 0 -18.04 -69.5Z" fill="#e4583a"/>
<path d="M13.57 -69.18A70.5 70.5 0 0 1 14.54 -68.98L13.29 -63.06A64.45 64.45 0 0 0 12.41 -63.24Z" fill="#6c9edc"/>
<path d="M16.82 -69.81A71.81 71.81 0 0 1 18.89 -69.28L16.95 -62.18A64.45 64.45 0 0 0 15.1 -62.65Z" fill="#6c9edc"/>
<path d="M18.47 -69.18A71.61 71.61 0 0 1 20.52 -68.6L18.47 -61.74A64.45 64.45 0 0 0 16.63 -62.26Z" fill="#6c9edc"/>
<path d="M20.1 -68.52A71.4 71.4 0 0 1 22.12 -67.89L19.97 -61.27A64.45 64.45 0 0 0 18.14 -61.84Z" fill="#6c9edc"/>
<path d="M21.52 -67.24A70.6 70.6 0 0 1 23.51 -66.57L21.46 -60.77A64.45 64.45 0 0 0 19.65 -61.38Z" fill="#6c9edc"/>
<path d="M22.45 -65.02A68.78 68.78 0 0 1 23.47 -64.65L21.99 -60.58A64.45 64.45 0 0 0 21.03 -60.92Z" fill="#6c9edc"/>
<path d="M51.8 -43.23A67.47 67.47 0 0 1 52.32 -42.6L49.98 -40.69A64.45 64.45 0 0 0 49.48 -41.3Z" fill="#6c9edc"/>
<path d="M62.71 -22.02A66.46 66.46 0 0 1 62.97 -21.25L61.06 -20.61A64.45 64.45 0 0 0 60.81 -21.35Z" fill="#6c9edc"/>
<path d="M70.8 0.12A70.8 70.8 0 0 1 70.79 1.11L64.44 1.01A64.45 64.45 0 0 0 64.45 0.11Z" fill="#6c9edc"/>
<path d="M68.39 3.52A68.48 68.48 0 0 1 68.34 4.36L64.31 4.1A64.45 64.45 0 0 0 64.36 3.32Z" fill="#6c9edc"/>
<path d="M62.27 23.22A66.46 66.46 0 0 1 61.99 23.98L60.1 23.25A64.45 64.45 0 0 0 60.38 22.52Z" fill="#6c9edc"/>
<path d="M48.59 44.6A65.96 65.96 0 0 1 48.04 45.19L46.94 44.16A64.45 64.45 0 0 0 47.48 43.58Z" fill="#6c9edc"/>
<path d="M47.96 45.28A65.96 65.96 0 0 1 47.41 45.86L46.32 44.81A64.45 64.45 0 0 0 46.86 44.24Z" fill="#6c9edc"/>
<path d="M45.28 47.96A65.96 65.96 0 0 1 44.69 48.51L43.66 47.4A64.45 64.45 0 0 0 44.24 46.86Z" fill="#6c9edc"/>
<path d="M30.97 59.37A66.97 66.97 0 0 1 30.25 59.75L29.11 57.5A64.45 64.45 0 0 0 29.81 57.14Z" fill="#6c9edc"/>
<path d="M19.15 63.64A66.46 66.46 0 0 1 18.38 63.87L17.82 61.93A64.45 64.45 0 0 0 18.57 61.71Z" fill="#6c9edc"/>
<path d="M14.77 66.35A67.98 67.98 0 0 1 13.96 66.53L13.23 63.07A64.45 64.45 0 0 0 14 62.91Z" fill="#6c9edc"/>
<path d="M-5.35 65.74A65.96 65.96 0 0 1 -6.15 65.67L-6.01 64.16A64.45 64.45 0 0 0 -5.22 64.23Z" fill="#6c9edc"/>
<path d="M-12.98 64.67A65.96 65.96 0 0 1 -13.77 64.5L-13.45 63.03A64.45 64.45 0 0 0 -12.68 63.19Z" fill="#6c9edc"/>
<path d="M-24.01 61.43A65.96 65.96 0 0 1 -24.76 61.13L-24.19 59.73A64.45 64.45 0 0 0 -23.46 60.02Z" fill="#6c9edc"/>
<path d="M-49.29 43.07A65.45 65.45 0 0 1 -49.81 42.47L-49.04 41.81A64.45 64.45 0 0 0 -48.53 42.41Z" fill="#6c9edc"/>
<path d="M-64.39 16.47A66.46 66.46 0 0 1 -64.59 15.68L-62.63 15.21A64.45 64.45 0 0 0 -62.43 15.97Z" fill="#6c9edc"/>
<path d="M-66.7 -10.15A67.47 67.47 0 0 1 -66.57 -10.96L-63.59 -10.47A64.45 64.45 0 0 0 -63.71 -9.69Z" fill="#6c9edc"/>
<path d="M-62.09 -28.89A68.48 68.48 0 0 1 -61.73 -29.64L-58.09 -27.9A64.45 64.45 0 0 0 -58.43 -27.18Z" fill="#6c9edc"/>
<path d="M-56.4 -38.84A68.48 68.48 0 0 1 -55.92 -39.52L-52.63 -37.19A64.45 64.45 0 0 0 -53.08 -36.55Z" fill="#6c9edc"/>
<path d="M-55.03 -39.04A67.47 67.47 0 0 1 -54.55 -39.71L-52.1 -37.93A64.45 64.45 0 0 0 -52.56 -37.29Z" fill="#6c9edc"/>
<path d="M-45.45 -48.49A66.46 66.46 0 0 1 -44.86 -49.04L-43.5 -47.55A64.45 64.45 0 0 0 -44.07 -47.02Z" fill="#6c9edc"/>
<path d="M-28.87 -59.86A66.46 66.46 0 0 1 -28.14 -60.21L-27.29 -58.38A64.45 64.45 0 0 0 -28 -58.05Z" fill="#6c9edc"/>
<path d="M-23.29 -62.79A66.97 66.97 0 0 1 -22.52 -63.07L-21.67 -60.69A64.45 64.45 0 0 0 -22.41 -60.42Z" fill="#6c9edc"/>
<path d="M-20.04 -64.95A67.98 67.98 0 0 1 -19.25 -65.19L-18.25 -61.81A64.45 64.45 0 0 0 -19 -61.58Z" fill="#6c9edc"/>
<circle r="71.81" fill="none" stroke="#e8806a" stroke-width="0.9"/>
<circle r="64.45" fill="none" stroke="#92bce8" stroke-width="1.0"/>
<path d="M-0.77 -63.03A63.03 63.03 0 0 1 -0.11 -63.03L-0.1 -56.28A56.28 56.28 0 0 0 -0.69 -56.27Z" fill="#e2603e"/>
<path d="M2.47 -62.98A63.03 63.03 0 0 1 3.68 -62.93L3.29 -56.18A56.28 56.28 0 0 0 2.21 -56.23Z" fill="#e2603e"/>
<path d="M4.62 -62.86A63.03 63.03 0 0 1 5.27 -62.81L4.71 -56.08A56.28 56.28 0 0 0 4.12 -56.13Z" fill="#e2603e"/>
<path d="M12.35 -61.81A63.03 63.03 0 0 1 13.21 -61.63L11.8 -55.03A56.28 56.28 0 0 0 11.03 -55.19Z" fill="#e2603e"/>
<path d="M21.04 -59.42A63.03 63.03 0 0 1 21.66 -59.19L19.34 -52.85A56.28 56.28 0 0 0 18.79 -53.05Z" fill="#e2603e"/>
<path d="M23.71 -58.4A63.03 63.03 0 0 1 24.33 -58.15L21.72 -51.92A56.28 56.28 0 0 0 21.17 -52.14Z" fill="#e2603e"/>
<path d="M33.5 -53.4A63.03 63.03 0 0 1 34.05 -53.04L30.4 -47.36A56.28 56.28 0 0 0 29.91 -47.67Z" fill="#e2603e"/>
<path d="M38.76 -49.7A63.03 63.03 0 0 1 39.71 -48.95L35.45 -43.7A56.28 56.28 0 0 0 34.61 -44.38Z" fill="#e2603e"/>
<path d="M41.02 -47.86A63.03 63.03 0 0 1 41.52 -47.43L37.07 -42.34A56.28 56.28 0 0 0 36.62 -42.73Z" fill="#e2603e"/>
<path d="M44.88 -44.26A63.03 63.03 0 0 1 45.34 -43.79L40.48 -39.09A56.28 56.28 0 0 0 40.07 -39.51Z" fill="#e2603e"/>
<path d="M46.84 -42.18A63.03 63.03 0 0 1 47.28 -41.68L42.21 -37.22A56.28 56.28 0 0 0 41.82 -37.66Z" fill="#e2603e"/>
<path d="M55.66 -29.59A63.03 63.03 0 0 1 56.06 -28.81L50.05 -25.72A56.28 56.28 0 0 0 49.69 -26.42Z" fill="#e2603e"/>
<path d="M56.46 -28.03A63.03 63.03 0 0 1 56.85 -27.24L50.75 -24.32A56.28 56.28 0 0 0 50.41 -25.02Z" fill="#e2603e"/>
<path d="M58.61 -23.2A63.03 63.03 0 0 1 58.85 -22.59L52.54 -20.17A56.28 56.28 0 0 0 52.32 -20.72Z" fill="#e2603e"/>
<path d="M59.71 -20.21A63.03 63.03 0 0 1 59.91 -19.58L53.49 -17.48A56.28 56.28 0 0 0 53.31 -18.04Z" fill="#e2603e"/>
<path d="M62.22 -10.08A63.03 63.03 0 0 1 62.32 -9.43L55.64 -8.42A56.28 56.28 0 0 0 55.55 -9Z" fill="#e2603e"/>
<path d="M63.03 -0.77A63.03 63.03 0 0 1 62.86 4.73L56.12 4.22A56.28 56.28 0 0 0 56.27 -0.69Z" fill="#e2603e" fill-opacity="0.45"/>
<path d="M63.03 -0.77A63.03 63.03 0 0 1 63.03 -0.11L56.28 -0.1A56.28 56.28 0 0 0 56.27 -0.69Z" fill="#e2603e"/>
<path d="M63.03 0.2A63.03 63.03 0 0 1 63.03 0.86L56.27 0.77A56.28 56.28 0 0 0 56.28 0.18Z" fill="#e2603e"/>
<path d="M63.02 1.17A63.03 63.03 0 0 1 63.01 1.83L56.25 1.63A56.28 56.28 0 0 0 56.27 1.04Z" fill="#e2603e"/>
<path d="M63 2.13A63.03 63.03 0 0 1 62.97 2.79L56.22 2.49A56.28 56.28 0 0 0 56.24 1.91Z" fill="#e2603e"/>
<path d="M62.96 3.1A63.03 63.03 0 0 1 62.92 3.76L56.18 3.36A56.28 56.28 0 0 0 56.21 2.77Z" fill="#e2603e"/>
<path d="M62.9 4.07A63.03 63.03 0 0 1 62.86 4.73L56.12 4.22A56.28 56.28 0 0 0 56.16 3.63Z" fill="#e2603e"/>
<path d="M61.24 14.93A63.03 63.03 0 0 1 61.08 15.57L54.53 13.9A56.28 56.28 0 0 0 54.68 13.33Z" fill="#e2603e"/>
<path d="M60.48 17.76A63.03 63.03 0 0 1 60.29 18.39L53.83 16.42A56.28 56.28 0 0 0 54 15.86Z" fill="#e2603e"/>
<path d="M59.59 20.56A63.03 63.03 0 0 1 59.37 21.18L53 18.91A56.28 56.28 0 0 0 53.2 18.35Z" fill="#e2603e"/>
<path d="M58.57 23.31A63.03 63.03 0 0 1 58.32 23.92L52.07 21.35A56.28 56.28 0 0 0 52.29 20.81Z" fill="#e2603e"/>
<path d="M56.89 27.14A63.03 63.03 0 0 1 55.5 29.88L49.55 26.68A56.28 56.28 0 0 0 50.79 24.23Z" fill="#e2603e" fill-opacity="0.45"/>
<path d="M56.89 27.14A63.03 63.03 0 0 1 56.61 27.73L50.54 24.76A56.28 56.28 0 0 0 50.79 24.23Z" fill="#e2603e"/>
<path d="M56.36 28.22A63.03 63.03 0 0 1 56.06 28.81L50.05 25.72A56.28 56.28 0 0 0 50.32 25.2Z" fill="#e2603e"/>
<path d="M55.81 29.3A63.03 63.03 0 0 1 55.5 29.88L49.55 26.68A56.28 56.28 0 0 0 49.83 26.16Z" fill="#e2603e"/>
<path d="M53.48 33.36A63.03 63.03 0 0 1 53.07 34.01L47.38 30.36A56.28 56.28 0 0 0 47.75 29.78Z" fill="#e2603e"/>
<path d="M52.23 35.29A63.03 63.03 0 0 1 51.79 35.93L46.24 32.08A56.28 56.28 0 0 0 46.63 31.51Z" fill="#e2603e"/>
<path d="M50.6 37.58A63.03 63.03 0 0 1 50.21 38.11L44.83 34.02A56.28 56.28 0 0 0 45.18 33.55Z" fill="#e2603e"/>
<path d="M47.86 41.02A63.03 63.03 0 0 1 47.28 41.68L42.21 37.22A56.28 56.28 0 0 0 42.73 36.62Z" fill="#e2603e"/>
<path d="M46.06 43.03A63.03 63.03 0 0 1 45.46 43.67L40.58 38.99A56.28 56.28 0 0 0 41.12 38.42Z" fill="#e2603e"/>
<path d="M44.18 44.96A63.03 63.03 0 0 1 43.55 45.57L38.88 40.69A56.28 56.28 0 0 0 39.44 40.14Z" fill="#e2603e"/>
<path d="M42.22 46.81A63.03 63.03 0 0 1 41.56 47.39L37.11 42.31A56.28 56.28 0 0 0 37.69 41.79Z" fill="#e2603e"/>
<path d="M40.18 48.57A63.03 63.03 0 0 1 39.5 49.12L35.26 43.86A56.28 56.28 0 0 0 35.87 43.36Z" fill="#e2603e"/>
<path d="M36.06 51.7A63.03 63.03 0 0 1 35.52 52.07L31.71 46.49A56.28 56.28 0 0 0 32.2 46.16Z" fill="#e2603e"/>
<path d="M33.5 53.4A63.03 63.03 0 0 1 32.93 53.74L29.4 47.98A56.28 56.28 0 0 0 29.91 47.67Z" fill="#e2603e"/>
<path d="M29.88 55.5A63.03 63.03 0 0 1 29.3 55.81L26.16 49.83A56.28 56.28 0 0 0 26.68 49.55Z" fill="#e2603e"/>
<path d="M28.62 56.16A63.03 63.03 0 0 1 28.03 56.46L25.02 50.41A56.28 56.28 0 0 0 25.55 50.14Z" fill="#e2603e"/>
<path d="M23.87 58.34A63.03 63.03 0 0 1 23.15 58.63L20.67 52.34A56.28 56.28 0 0 0 21.31 52.09Z" fill="#e2603e"/>
<path d="M21.71 59.18A63.03 63.03 0 0 1 20.99 59.44L18.74 53.06A56.28 56.28 0 0 0 19.39 52.83Z" fill="#e2603e"/>
<path d="M15.46 61.11A63.03 63.03 0 0 1 12.14 61.85L10.83 55.22A56.28 56.28 0 0 0 13.81 54.56Z" fill="#e2603e" fill-opacity="0.45"/>
<path d="M15.46 61.11A63.03 63.03 0 0 1 14.82 61.27L13.23 54.7A56.28 56.28 0 0 0 13.81 54.56Z" fill="#e2603e"/>
<path d="M14.13 61.43A63.03 63.03 0 0 1 13.48 61.57L12.04 54.97A56.28 56.28 0 0 0 12.61 54.85Z" fill="#e2603e"/>
<path d="M12.78 61.72A63.03 63.03 0 0 1 12.14 61.85L10.83 55.22A56.28 56.28 0 0 0 11.41 55.11Z" fill="#e2603e"/>
<path d="M4.84 62.85A63.03 63.03 0 0 1 4.18 62.89L3.73 56.15A56.28 56.28 0 0 0 4.32 56.11Z" fill="#e2603e"/>
<path d="M-4.29 62.89A63.03 63.03 0 0 1 -4.95 62.84L-4.42 56.1A56.28 56.28 0 0 0 -3.83 56.15Z" fill="#e2603e"/>
<path d="M-12.57 61.77A63.03 63.03 0 0 1 -13.21 61.63L-11.8 55.03A56.28 56.28 0 0 0 -11.22 55.15Z" fill="#e2603e"/>
<path d="M-23.36 58.55A63.03 63.03 0 0 1 -24.07 58.26L-21.49 52.01A56.28 56.28 0 0 0 -20.85 52.27Z" fill="#e2603e"/>
<path d="M-25.59 57.61A63.03 63.03 0 0 1 -26.29 57.29L-23.47 51.15A56.28 56.28 0 0 0 -22.84 51.43Z" fill="#e2603e"/>
<path d="M-33.22 53.57A63.03 63.03 0 0 1 -33.96 53.1L-30.32 47.41A56.28 56.28 0 0 0 -29.66 47.83Z" fill="#e2603e"/>
<path d="M-34.33 52.86A63.03 63.03 0 0 1 -35.07 52.38L-31.31 46.76A56.28 56.28 0 0 0 -30.65 47.2Z" fill="#e2603e"/>
<path d="M-39.24 49.33A63.03 63.03 0 0 1 -39.75 48.92L-35.49 43.67A56.28 56.28 0 0 0 -35.03 44.04Z" fill="#e2603e"/>
<path d="M-41.1 47.79A63.03 63.03 0 0 1 -41.6 47.35L-37.14 42.28A56.28 56.28 0 0 0 -36.7 42.67Z" fill="#e2603e"/>
<path d="M-42.91 46.17A63.03 63.03 0 0 1 -43.39 45.72L-38.74 40.82A56.28 56.28 0 0 0 -38.31 41.22Z" fill="#e2603e"/>
<path d="M-49.7 38.76A63.03 63.03 0 0 1 -50.17 38.15L-44.8 34.06A56.28 56.28 0 0 0 -44.38 34.61Z" fill="#e2603e"/>
<path d="M-51.16 36.83A63.03 63.03 0 0 1 -51.6 36.2L-46.07 32.32A56.28 56.28 0 0 0 -45.67 32.88Z" fill="#e2603e"/>
<path d="M-55.24 30.37A63.03 63.03 0 0 1 -55.66 29.59L-49.69 26.42A56.28 56.28 0 0 0 -49.32 27.11Z" fill="#e2603e"/>
<path d="M-58.42 23.66A63.03 63.03 0 0 1 -58.79 22.74L-52.49 20.31A56.28 56.28 0 0 0 -52.16 21.13Z" fill="#e2603e"/>
<path d="M-60.67 17.11A63.03 63.03 0 0 1 -60.93 16.15L-54.4 14.42A56.28 56.28 0 0 0 -54.16 15.28Z" fill="#e2603e"/>
<path d="M-62.96 3.08A63.03 63.03 0 0 1 -62.99 2.42L-56.23 2.16A56.28 56.28 0 0 0 -56.21 2.75Z" fill="#e2603e"/>
<path d="M-63.03 0.44A63.03 63.03 0 0 1 -63.03 -0.22L-56.28 -0.2A56.28 56.28 0 0 0 -56.27 0.39Z" fill="#e2603e"/>
<path d="M-63 -2.2A63.03 63.03 0 0 1 -62.97 -2.86L-56.22 -2.55A56.28 56.28 0 0 0 -56.24 -1.96Z" fill="#e2603e"/>
<path d="M-62.85 -4.84A63.03 63.03 0 0 1 -62.79 -5.49L-56.06 -4.9A56.28 56.28 0 0 0 -56.11 -4.32Z" fill="#e2603e"/>
<path d="M-62.59 -7.46A63.03 63.03 0 0 1 -62.51 -8.12L-55.81 -7.25A56.28 56.28 0 0 0 -55.88 -6.66Z" fill="#e2603e"/>
<path d="M-62.22 -10.08A63.03 63.03 0 0 1 -62.11 -10.73L-55.46 -9.58A56.28 56.28 0 0 0 -55.55 -9Z" fill="#e2603e"/>
<path d="M-61.13 -15.36A63.03 63.03 0 0 1 -60.97 -16L-54.43 -14.28A56.28 56.28 0 0 0 -54.58 -13.71Z" fill="#e2603e"/>
<path d="M-57.78 -25.18A63.03 63.03 0 0 1 -57.47 -25.89L-51.31 -23.11A56.28 56.28 0 0 0 -51.59 -22.49Z" fill="#e2603e"/>
<path d="M-56.63 -27.68A63.03 63.03 0 0 1 -56.29 -28.37L-50.25 -25.33A56.28 56.28 0 0 0 -50.56 -24.71Z" fill="#e2603e"/>
<path d="M-51.92 -35.75A63.03 63.03 0 0 1 -51.48 -36.38L-45.96 -32.48A56.28 56.28 0 0 0 -46.35 -31.92Z" fill="#e2603e"/>
<path d="M-51.19 -36.78A63.03 63.03 0 0 1 -50.8 -37.32L-45.35 -33.32A56.28 56.28 0 0 0 -45.7 -32.84Z" fill="#e2603e"/>
<path d="M-47.28 -41.68A63.03 63.03 0 0 1 -46.84 -42.18L-41.82 -37.66A56.28 56.28 0 0 0 -42.21 -37.22Z" fill="#e2603e"/>
<path d="M-45.55 -43.57A63.03 63.03 0 0 1 -45.09 -44.04L-40.26 -39.32A56.28 56.28 0 0 0 -40.67 -38.9Z" fill="#e2603e"/>
<path d="M-43.75 -45.38A63.03 63.03 0 0 1 -43.27 -45.84L-38.63 -40.92A56.28 56.28 0 0 0 -39.06 -40.52Z" fill="#e2603e"/>
<path d="M-41.87 -47.12A63.03 63.03 0 0 1 -41.37 -47.55L-36.94 -42.46A56.28 56.28 0 0 0 -37.38 -42.07Z" fill="#e2603e"/>
<path d="M-39.92 -48.78A63.03 63.03 0 0 1 -39.41 -49.19L-35.19 -43.92A56.28 56.28 0 0 0 -35.64 -43.55Z" fill="#e2603e"/>
<path d="M-35.29 -52.23A63.03 63.03 0 0 1 -34.65 -52.65L-30.94 -47.01A56.28 56.28 0 0 0 -31.51 -46.63Z" fill="#e2603e"/>
<path d="M-34.32 -52.87A63.03 63.03 0 0 1 -33.67 -53.29L-30.06 -47.58A56.28 56.28 0 0 0 -30.64 -47.21Z" fill="#e2603e"/>
<path d="M-33.32 -53.5A63.03 63.03 0 0 1 -32.67 -53.91L-29.17 -48.13A56.28 56.28 0 0 0 -29.75 -47.77Z" fill="#e2603e"/>
<path d="M-32.32 -54.12A63.03 63.03 0 0 1 -31.66 -54.51L-28.27 -48.66A56.28 56.28 0 0 0 -28.86 -48.31Z" fill="#e2603e"/>
<path d="M-26.24 -57.31A63.03 63.03 0 0 1 -25.64 -57.58L-22.89 -51.41A56.28 56.28 0 0 0 -23.43 -51.17Z" fill="#e2603e"/>
<path d="M-24.98 -57.87A63.03 63.03 0 0 1 -24.38 -58.13L-21.76 -51.9A56.28 56.28 0 0 0 -22.3 -51.67Z" fill="#e2603e"/>
<path d="M-23.71 -58.4A63.03 63.03 0 0 1 -23.1 -58.65L-20.63 -52.36A56.28 56.28 0 0 0 -21.17 -52.14Z" fill="#e2603e"/>
<path d="M-19.16 -60.05A63.03 63.03 0 0 1 -18.53 -60.25L-16.55 -53.79A56.28 56.28 0 0 0 -17.11 -53.61Z" fill="#e2603e"/>
<path d="M-17.44 -60.57A63.03 63.03 0 0 1 -16.81 -60.75L-15.01 -54.24A56.28 56.28 0 0 0 -15.57 -54.08Z" fill="#e2603e"/>
<path d="M-15.71 -61.04A63.03 63.03 0 0 1 -15.07 -61.21L-13.46 -54.64A56.28 56.28 0 0 0 -14.03 -54.5Z" fill="#e2603e"/>
<path d="M-13.96 -61.47A63.03 63.03 0 0 1 -13.32 -61.61L-11.89 -55.01A56.28 56.28 0 0 0 -12.47 -54.88Z" fill="#e2603e"/>
<path d="M-12.28 -54.51A55.87 55.87 0 0 1 0.29 -55.87L0.26 -48.81A48.81 48.81 0 0 0 -10.73 -47.62Z" fill="#5a8fd2"/>
<path d="M2.44 -55.82A55.87 55.87 0 0 1 3.02 -55.79L2.64 -48.74A48.81 48.81 0 0 0 2.13 -48.77Z" fill="#5a8fd2"/>
<path d="M4.97 -55.65A55.87 55.87 0 0 1 5.55 -55.6L4.85 -48.57A48.81 48.81 0 0 0 4.34 -48.62Z" fill="#5a8fd2"/>
<path d="M6.68 -55.47A55.87 55.87 0 0 1 7.26 -55.4L6.34 -48.4A48.81 48.81 0 0 0 5.84 -48.46Z" fill="#5a8fd2"/>
<path d="M8.39 -55.24A55.87 55.87 0 0 1 8.97 -55.15L7.83 -48.18A48.81 48.81 0 0 0 7.33 -48.26Z" fill="#5a8fd2"/>
<path d="M10.09 -54.96A55.87 55.87 0 0 1 10.66 -54.85L9.31 -47.92A48.81 48.81 0 0 0 8.81 -48.01Z" fill="#5a8fd2"/>
<path d="M13.23 -54.28A55.87 55.87 0 0 1 19.29 -52.44L16.86 -45.81A48.81 48.81 0 0 0 11.56 -47.42Z" fill="#5a8fd2"/>
<path d="M21.11 -51.73A55.87 55.87 0 0 1 21.83 -51.43L19.07 -44.93A48.81 48.81 0 0 0 18.44 -45.19Z" fill="#5a8fd2"/>
<path d="M22.73 -51.04A55.87 55.87 0 0 1 23.44 -50.72L20.47 -44.31A48.81 48.81 0 0 0 19.85 -44.59Z" fill="#5a8fd2"/>
<path d="M24.32 -50.3A55.87 55.87 0 0 1 25.02 -49.96L21.86 -43.65A48.81 48.81 0 0 0 21.25 -43.95Z" fill="#5a8fd2"/>
<path d="M25.89 -49.51A55.87 55.87 0 0 1 26.57 -49.15L23.22 -42.94A48.81 48.81 0 0 0 22.61 -43.26Z" fill="#5a8fd2"/>
<path d="M27.43 -48.68A55.87 55.87 0 0 1 28.11 -48.29L24.55 -42.19A48.81 48.81 0 0 0 23.96 -42.53Z" fill="#5a8fd2"/>
<path d="M30.59 -46.75A55.87 55.87 0 0 1 31.08 -46.43L27.15 -40.56A48.81 48.81 0 0 0 26.73 -40.85Z" fill="#5a8fd2"/>
<path d="M33.08 -45.03A55.87 55.87 0 0 1 33.55 -44.68L29.31 -39.04A48.81 48.81 0 0 0 28.9 -39.34Z" fill="#5a8fd2"/>
<path d="M35.09 -43.48A55.87 55.87 0 0 1 35.54 -43.11L31.05 -37.67A48.81 48.81 0 0 0 30.65 -37.99Z" fill="#5a8fd2"/>
<path d="M37.39 -41.52A55.87 55.87 0 0 1 37.82 -41.13L33.04 -35.93A48.81 48.81 0 0 0 32.66 -36.28Z" fill="#5a8fd2"/>
<path d="M38.88 -40.12A55.87 55.87 0 0 1 39.3 -39.71L34.33 -34.7A48.81 48.81 0 0 0 33.97 -35.05Z" fill="#5a8fd2"/>
<path d="M40.33 -38.67A55.87 55.87 0 0 1 40.73 -38.25L35.58 -33.41A48.81 48.81 0 0 0 35.23 -33.79Z" fill="#5a8fd2"/>
<path d="M41.23 -37.71A55.87 55.87 0 0 1 41.81 -37.06L36.53 -32.38A48.81 48.81 0 0 0 36.02 -32.95Z" fill="#5a8fd2"/>
<path d="M42.16 -36.67A55.87 55.87 0 0 1 42.73 -36L37.33 -31.45A48.81 48.81 0 0 0 36.83 -32.03Z" fill="#5a8fd2"/>
<path d="M43.07 -35.6A55.87 55.87 0 0 1 43.62 -34.92L38.11 -30.5A48.81 48.81 0 0 0 37.62 -31.1Z" fill="#5a8fd2"/>
<path d="M43.95 -34.5A55.87 55.87 0 0 1 44.48 -33.81L38.86 -29.54A48.81 48.81 0 0 0 38.39 -30.14Z" fill="#5a8fd2"/>
<path d="M44.8 -33.39A55.87 55.87 0 0 1 45.32 -32.68L39.59 -28.55A48.81 48.81 0 0 0 39.14 -29.17Z" fill="#5a8fd2"/>
<path d="M45.62 -32.26A55.87 55.87 0 0 1 46.12 -31.54L40.29 -27.55A48.81 48.81 0 0 0 39.86 -28.18Z" fill="#5a8fd2"/>
<path d="M46.42 -31.1A55.87 55.87 0 0 1 46.9 -30.37L40.97 -26.53A48.81 48.81 0 0 0 40.55 -27.17Z" fill="#5a8fd2"/>
<path d="M47.18 -29.93A55.87 55.87 0 0 1 47.65 -29.18L41.63 -25.5A48.81 48.81 0 0 0 41.22 -26.15Z" fill="#5a8fd2"/>
<path d="M47.92 -28.73A55.87 55.87 0 0 1 48.36 -27.98L42.25 -24.44A48.81 48.81 0 0 0 41.86 -25.1Z" fill="#5a8fd2"/>
<path d="M48.41 -27.89A55.87 55.87 0 0 1 48.84 -27.13L42.67 -23.7A48.81 48.81 0 0 0 42.29 -24.37Z" fill="#5a8fd2"/>
<path d="M49.18 -26.51A55.87 55.87 0 0 1 49.59 -25.74L43.33 -22.49A48.81 48.81 0 0 0 42.97 -23.16Z" fill="#5a8fd2"/>
<path d="M49.91 -25.11A55.87 55.87 0 0 1 50.3 -24.33L43.94 -21.25A48.81 48.81 0 0 0 43.6 -21.94Z" fill="#5a8fd2"/>
<path d="M50.6 -23.69A55.87 55.87 0 0 1 50.97 -22.89L44.53 -20A48.81 48.81 0 0 0 44.21 -20.7Z" fill="#5a8fd2"/>
<path d="M51.25 -22.25A55.87 55.87 0 0 1 51.59 -21.44L45.07 -18.74A48.81 48.81 0 0 0 44.77 -19.44Z" fill="#5a8fd2"/>
<path d="M51.86 -20.79A55.87 55.87 0 0 1 52.18 -19.98L45.59 -17.45A48.81 48.81 0 0 0 45.31 -18.17Z" fill="#5a8fd2"/>
<path d="M52.23 -19.84A55.87 55.87 0 0 1 52.44 -19.29L45.81 -16.86A48.81 48.81 0 0 0 45.63 -17.33Z" fill="#5a8fd2"/>
<path d="M52.94 -17.85A55.87 55.87 0 0 1 53.13 -17.3L46.42 -15.11A48.81 48.81 0 0 0 46.25 -15.6Z" fill="#5a8fd2"/>
<path d="M53.58 -15.84A55.87 55.87 0 0 1 53.74 -15.28L46.95 -13.35A48.81 48.81 0 0 0 46.81 -13.84Z" fill="#5a8fd2"/>
<path d="M54.14 -13.8A55.87 55.87 0 0 1 54.28 -13.23L47.42 -11.56A48.81 48.81 0 0 0 47.3 -12.06Z" fill="#5a8fd2"/>
<path d="M54.79 -10.95A55.87 55.87 0 0 1 54.9 -10.37L47.96 -9.06A48.81 48.81 0 0 0 47.87 -9.56Z" fill="#5a8fd2"/>
<path d="M55.43 -7A55.87 55.87 0 0 1 55.5 -6.42L48.49 -5.61A48.81 48.81 0 0 0 48.43 -6.12Z" fill="#5a8fd2"/>
<path d="M55.75 -3.65A55.87 55.87 0 0 1 55.8 -2.78L48.75 -2.43A48.81 48.81 0 0 0 48.71 -3.19Z" fill="#5a8fd2"/>
<path d="M55.82 -2.32A55.87 55.87 0 0 1 55.85 -1.44L48.8 -1.26A48.81 48.81 0 0 0 48.77 -2.03Z" fill="#5a8fd2"/>
<path d="M55.86 -0.98A55.87 55.87 0 0 1 55.87 -0.1L48.81 -0.09A48.81 48.81 0 0 0 48.81 -0.86Z" fill="#5a8fd2"/>
<path d="M55.87 0.36A55.87 55.87 0 0 1 55.86 1.23L48.8 1.08A48.81 48.81 0 0 0 48.81 0.31Z" fill="#5a8fd2"/>
<path d="M55.85 1.69A55.87 55.87 0 0 1 55.81 2.57L48.76 2.24A48.81 48.81 0 0 0 48.79 1.48Z" fill="#5a8fd2"/>
<path d="M55.79 3.03A55.87 55.87 0 0 1 55.74 3.9L48.69 3.41A48.81 48.81 0 0 0 48.74 2.65Z" fill="#5a8fd2"/>
<path d="M55.7 4.36A55.87 55.87 0 0 1 55.63 5.24L48.6 4.58A48.81 48.81 0 0 0 48.66 3.81Z" fill="#5a8fd2"/>
<path d="M55.58 5.69A55.87 55.87 0 0 1 55.49 6.57L48.47 5.74A48.81 48.81 0 0 0 48.56 4.98Z" fill="#5a8fd2"/>
<path d="M55.14 9.03A55.87 55.87 0 0 1 55.04 9.61L48.09 8.39A48.81 48.81 0 0 0 48.17 7.89Z" fill="#5a8fd2"/>
<path d="M54.69 11.43A55.87 55.87 0 0 1 54.57 12L47.67 10.48A48.81 48.81 0 0 0 47.78 9.98Z" fill="#5a8fd2"/>
<path d="M53.32 16.71A55.87 55.87 0 0 1 52.02 20.39L45.45 17.81A48.81 48.81 0 0 0 46.58 14.6Z" fill="#5a8fd2" fill-opacity="0.45"/>
<path d="M53.32 16.71A55.87 55.87 0 0 1 53.14 17.27L46.42 15.08A48.81 48.81 0 0 0 46.58 14.6Z" fill="#5a8fd2"/>
<path d="M52.98 17.76A55.87 55.87 0 0 1 52.79 18.31L46.12 16A48.81 48.81 0 0 0 46.28 15.52Z" fill="#5a8fd2"/>
<path d="M52.61 18.8A55.87 55.87 0 0 1 52.41 19.35L45.79 16.91A48.81 48.81 0 0 0 45.97 16.43Z" fill="#5a8fd2"/>
<path d="M52.23 19.84A55.87 55.87 0 0 1 52.02 20.39L45.45 17.81A48.81 48.81 0 0 0 45.63 17.33Z" fill="#5a8fd2"/>
<path d="M49.92 25.1A55.87 55.87 0 0 1 49.65 25.63L43.38 22.39A48.81 48.81 0 0 0 43.61 21.93Z" fill="#5a8fd2"/>
<path d="M48.61 27.56A55.87 55.87 0 0 1 48.31 28.06L42.21 24.52A48.81 48.81 0 0 0 42.46 24.07Z" fill="#5a8fd2"/>
<path d="M47.18 29.94A55.87 55.87 0 0 1 46.86 30.43L40.94 26.59A48.81 48.81 0 0 0 41.21 26.16Z" fill="#5a8fd2"/>
<path d="M44.68 33.55A55.87 55.87 0 0 1 44.21 34.17L38.62 29.85A48.81 48.81 0 0 0 39.04 29.31Z" fill="#5a8fd2"/>
<path d="M44.01 34.42A55.87 55.87 0 0 1 43.53 35.03L38.03 30.6A48.81 48.81 0 0 0 38.45 30.07Z" fill="#5a8fd2"/>
<path d="M43.33 35.28A55.87 55.87 0 0 1 42.83 35.88L37.42 31.34A48.81 48.81 0 0 0 37.85 30.82Z" fill="#5a8fd2"/>
<path d="M42.63 36.12A55.87 55.87 0 0 1 42.12 36.71L36.8 32.07A48.81 48.81 0 0 0 37.24 31.56Z" fill="#5a8fd2"/>
<path d="M41.91 36.95A55.87 55.87 0 0 1 41.39 37.53L36.16 32.79A48.81 48.81 0 0 0 36.62 32.28Z" fill="#5a8fd2"/>
<path d="M38.81 40.19A55.87 55.87 0 0 1 38.25 40.73L33.41 35.58A48.81 48.81 0 0 0 33.91 35.11Z" fill="#5a8fd2"/>
<path d="M37.8 41.15A55.87 55.87 0 0 1 37.22 41.67L32.51 36.41A48.81 48.81 0 0 0 33.02 35.95Z" fill="#5a8fd2"/>
<path d="M36.75 42.08A55.87 55.87 0 0 1 36.16 42.59L31.59 37.21A48.81 48.81 0 0 0 32.11 36.77Z" fill="#5a8fd2"/>
<path d="M35.69 42.99A55.87 55.87 0 0 1 35.09 43.48L30.65 37.99A48.81 48.81 0 0 0 31.18 37.56Z" fill="#5a8fd2"/>
<path d="M32.05 45.77A55.87 55.87 0 0 1 31.41 46.21L27.44 40.37A48.81 48.81 0 0 0 28 39.99Z" fill="#5a8fd2"/>
<path d="M30.81 46.61A55.87 55.87 0 0 1 30.16 47.04L26.35 41.09A48.81 48.81 0 0 0 26.92 40.72Z" fill="#5a8fd2"/>
<path d="M29.55 47.42A55.87 55.87 0 0 1 28.89 47.83L25.24 41.78A48.81 48.81 0 0 0 25.82 41.43Z" fill="#5a8fd2"/>
<path d="M28.27 48.19A55.87 55.87 0 0 1 27.6 48.58L24.11 42.44A48.81 48.81 0 0 0 24.7 42.1Z" fill="#5a8fd2"/>
<path d="M25.71 49.6A55.87 55.87 0 0 1 25.02 49.96L21.86 43.65A48.81 48.81 0 0 0 22.46 43.34Z" fill="#5a8fd2"/>
<path d="M24.7 50.12A55.87 55.87 0 0 1 24 50.46L20.97 44.08A48.81 48.81 0 0 0 21.58 43.78Z" fill="#5a8fd2"/>
<path d="M23.68 50.61A55.87 55.87 0 0 1 22.97 50.93L20.07 44.5A48.81 48.81 0 0 0 20.69 44.21Z" fill="#5a8fd2"/>
<path d="M22.65 51.07A55.87 55.87 0 0 1 21.94 51.39L19.17 44.89A48.81 48.81 0 0 0 19.79 44.62Z" fill="#5a8fd2"/>
<path d="M21.62 51.52A55.87 55.87 0 0 1 20.89 51.82L18.25 45.27A48.81 48.81 0 0 0 18.88 45.01Z" fill="#5a8fd2"/>
<path d="M20.57 51.95A55.87 55.87 0 0 1 19.84 52.23L17.33 45.63A48.81 48.81 0 0 0 17.97 45.39Z" fill="#5a8fd2"/>
<path d="M16.71 53.32A55.87 55.87 0 0 1 16.15 53.49L14.11 46.73A48.81 48.81 0 0 0 14.6 46.58Z" fill="#5a8fd2"/>
<path d="M14.51 53.96A55.87 55.87 0 0 1 13.66 54.18L11.93 47.33A48.81 48.81 0 0 0 12.67 47.14Z" fill="#5a8fd2"/>
<path d="M13.52 54.21A55.87 55.87 0 0 1 12.66 54.42L11.06 47.54A48.81 48.81 0 0 0 11.81 47.36Z" fill="#5a8fd2"/>
<path d="M12.52 54.45A55.87 55.87 0 0 1 11.66 54.64L10.19 47.74A48.81 48.81 0 0 0 10.94 47.57Z" fill="#5a8fd2"/>
<path d="M11.52 54.67A55.87 55.87 0 0 1 10.66 54.85L9.31 47.92A48.81 48.81 0 0 0 10.07 47.76Z" fill="#5a8fd2"/>
<path d="M10.52 54.87A55.87 55.87 0 0 1 9.65 55.03L8.43 48.08A48.81 48.81 0 0 0 9.19 47.94Z" fill="#5a8fd2"/>
<path d="M9.17 55.11A55.87 55.87 0 0 1 8.31 55.25L7.26 48.27A48.81 48.81 0 0 0 8.01 48.15Z" fill="#5a8fd2"/>
<path d="M7.53 55.36A55.87 55.87 0 0 1 6.66 55.47L5.82 48.46A48.81 48.81 0 0 0 6.58 48.37Z" fill="#5a8fd2"/>
<path d="M5.89 55.56A55.87 55.87 0 0 1 5.02 55.65L4.38 48.62A48.81 48.81 0 0 0 5.14 48.54Z" fill="#5a8fd2"/>
<path d="M4.24 55.71A55.87 55.87 0 0 1 3.36 55.77L2.94 48.72A48.81 48.81 0 0 0 3.7 48.67Z" fill="#5a8fd2"/>
<path d="M2.58 55.81A55.87 55.87 0 0 1 1.71 55.85L1.49 48.79A48.81 48.81 0 0 0 2.26 48.76Z" fill="#5a8fd2"/>
<path d="M0.93 55.87A55.87 55.87 0 0 1 0.05 55.87L0.04 48.81A48.81 48.81 0 0 0 0.81 48.81Z" fill="#5a8fd2"/>
<path d="M-0.73 55.87A55.87 55.87 0 0 1 -1.61 55.85L-1.41 48.79A48.81 48.81 0 0 0 -0.64 48.81Z" fill="#5a8fd2"/>
<path d="M-2.39 55.82A55.87 55.87 0 0 1 -3.26 55.78L-2.85 48.73A48.81 48.81 0 0 0 -2.09 48.77Z" fill="#5a8fd2"/>
<path d="M-4.04 55.73A55.87 55.87 0 0 1 -4.92 55.66L-4.3 48.62A48.81 48.81 0 0 0 -3.53 48.69Z" fill="#5a8fd2"/>
<path d="M-5.69 55.58A55.87 55.87 0 0 1 -6.57 55.49L-5.74 48.47A48.81 48.81 0 0 0 -4.98 48.56Z" fill="#5a8fd2"/>
<path d="M-7.34 55.39A55.87 55.87 0 0 1 -8.21 55.27L-7.17 48.28A48.81 48.81 0 0 0 -6.41 48.39Z" fill="#5a8fd2"/>
<path d="M-11.85 54.6A55.87 55.87 0 0 1 -12.71 54.41L-11.11 47.53A48.81 48.81 0 0 0 -10.36 47.7Z" fill="#5a8fd2"/>
<path d="M-20.21 52.09A55.87 55.87 0 0 1 -20.75 51.88L-18.13 45.32A48.81 48.81 0 0 0 -17.65 45.51Z" fill="#5a8fd2"/>
<path d="M-23.52 50.68A55.87 55.87 0 0 1 -24.05 50.43L-21.01 44.06A48.81 48.81 0 0 0 -20.55 44.28Z" fill="#5a8fd2"/>
<path d="M-32.92 45.14A55.87 55.87 0 0 1 -33.55 44.68L-29.31 39.04A48.81 48.81 0 0 0 -28.76 39.44Z" fill="#5a8fd2"/>
<path d="M-34.48 43.97A55.87 55.87 0 0 1 -35.09 43.48L-30.65 37.99A48.81 48.81 0 0 0 -30.12 38.41Z" fill="#5a8fd2"/>
<path d="M-35.99 42.74A55.87 55.87 0 0 1 -36.58 42.23L-31.96 36.9A48.81 48.81 0 0 0 -31.44 37.34Z" fill="#5a8fd2"/>
<path d="M-37.46 41.46A55.87 55.87 0 0 1 -38.03 40.93L-33.23 35.76A48.81 48.81 0 0 0 -32.73 36.22Z" fill="#5a8fd2"/>
<path d="M-38.88 40.12A55.87 55.87 0 0 1 -39.44 39.58L-34.46 34.58A48.81 48.81 0 0 0 -33.97 35.05Z" fill="#5a8fd2"/>
<path d="M-40.26 38.74A55.87 55.87 0 0 1 -40.8 38.18L-35.64 33.35A48.81 48.81 0 0 0 -35.17 33.85Z" fill="#5a8fd2"/>
<path d="M-42.96 35.73A55.87 55.87 0 0 1 -43.51 35.05L-38.02 30.62A48.81 48.81 0 0 0 -37.53 31.21Z" fill="#5a8fd2"/>
<path d="M-44.18 34.21A55.87 55.87 0 0 1 -44.71 33.51L-39.06 29.27A48.81 48.81 0 0 0 -38.6 29.88Z" fill="#5a8fd2"/>
<path d="M-45.35 32.64A55.87 55.87 0 0 1 -45.85 31.93L-40.06 27.89A48.81 48.81 0 0 0 -39.62 28.52Z" fill="#5a8fd2"/>
<path d="M-46.46 31.04A55.87 55.87 0 0 1 -46.94 30.31L-41.01 26.48A48.81 48.81 0 0 0 -40.59 27.12Z" fill="#5a8fd2"/>
<path d="M-47.18 29.94A55.87 55.87 0 0 1 -47.59 29.28L-41.58 25.58A48.81 48.81 0 0 0 -41.21 26.16Z" fill="#5a8fd2"/>
<path d="M-48.34 28.02A55.87 55.87 0 0 1 -48.73 27.34L-42.57 23.89A48.81 48.81 0 0 0 -42.23 24.48Z" fill="#5a8fd2"/>
<path d="M-50.05 24.84A55.87 55.87 0 0 1 -50.39 24.14L-44.02 21.09A48.81 48.81 0 0 0 -43.72 21.7Z" fill="#5a8fd2"/>
<path d="M-50.89 23.06A55.87 55.87 0 0 1 -51.21 22.35L-44.74 19.53A48.81 48.81 0 0 0 -44.46 20.15Z" fill="#5a8fd2"/>
<path d="M-51.67 21.26A55.87 55.87 0 0 1 -51.96 20.53L-45.4 17.94A48.81 48.81 0 0 0 -45.14 18.57Z" fill="#5a8fd2"/>
<path d="M-52.39 19.42A55.87 55.87 0 0 1 -52.66 18.69L-46 16.33A48.81 48.81 0 0 0 -45.77 16.97Z" fill="#5a8fd2"/>
<path d="M-53.04 17.56A55.87 55.87 0 0 1 -53.28 16.82L-46.55 14.69A48.81 48.81 0 0 0 -46.34 15.34Z" fill="#5a8fd2"/>
<path d="M-53.63 15.68A55.87 55.87 0 0 1 -53.84 14.93L-47.04 13.04A48.81 48.81 0 0 0 -46.85 13.7Z" fill="#5a8fd2"/>
<path d="M-54.44 12.57A55.87 55.87 0 0 1 -54.61 11.81L-47.71 10.32A48.81 48.81 0 0 0 -47.56 10.98Z" fill="#5a8fd2"/>
<path d="M-54.84 10.69A55.87 55.87 0 0 1 -54.98 9.93L-48.04 8.67A48.81 48.81 0 0 0 -47.91 9.34Z" fill="#5a8fd2"/>
<path d="M-55.17 8.8A55.87 55.87 0 0 1 -55.29 8.03L-48.31 7.02A48.81 48.81 0 0 0 -48.2 7.69Z" fill="#5a8fd2"/>
<path d="M-55.44 6.91A55.87 55.87 0 0 1 -55.54 6.13L-48.52 5.36A48.81 48.81 0 0 0 -48.44 6.03Z" fill="#5a8fd2"/>
<path d="M-55.65 5A55.87 55.87 0 0 1 -55.71 4.22L-48.67 3.69A48.81 48.81 0 0 0 -48.62 4.37Z" fill="#5a8fd2"/>
<path d="M-55.79 3.09A55.87 55.87 0 0 1 -55.83 2.31L-48.77 2.02A48.81 48.81 0 0 0 -48.74 2.7Z" fill="#5a8fd2"/>
<path d="M-55.86 1.17A55.87 55.87 0 0 1 -55.87 0.39L-48.81 0.34A48.81 48.81 0 0 0 -48.8 1.02Z" fill="#5a8fd2"/>
<path d="M-55.87 -0.75A55.87 55.87 0 0 1 -55.85 -1.53L-48.79 -1.33A48.81 48.81 0 0 0 -48.81 -0.65Z" fill="#5a8fd2"/>
<path d="M-55.81 -2.66A55.87 55.87 0 0 1 -55.77 -3.44L-48.72 -3.01A48.81 48.81 0 0 0 -48.76 -2.33Z" fill="#5a8fd2"/>
<path d="M-55.69 -4.58A55.87 55.87 0 0 1 -55.62 -5.36L-48.59 -4.68A48.81 48.81 0 0 0 -48.65 -4Z" fill="#5a8fd2"/>
<path d="M-55.5 -6.49A55.87 55.87 0 0 1 -55.4 -7.26L-48.4 -6.34A48.81 48.81 0 0 0 -48.48 -5.67Z" fill="#5a8fd2"/>
<path d="M-55.24 -8.39A55.87 55.87 0 0 1 -55.12 -9.16L-48.15 -8A48.81 48.81 0 0 0 -48.26 -7.33Z" fill="#5a8fd2"/>
<path d="M-54.92 -10.28A55.87 55.87 0 0 1 -54.77 -11.04L-47.85 -9.65A48.81 48.81 0 0 0 -47.98 -8.98Z" fill="#5a8fd2"/>
<path d="M-53.68 -15.49A55.87 55.87 0 0 1 -53.52 -16.06L-46.75 -14.03A48.81 48.81 0 0 0 -46.9 -13.54Z" fill="#5a8fd2"/>
<path d="M-52.95 -17.82A55.87 55.87 0 0 1 -52.77 -18.37L-46.1 -16.05A48.81 48.81 0 0 0 -46.26 -15.57Z" fill="#5a8fd2"/>
<path d="M-51.39 -21.92A55.87 55.87 0 0 1 -51.08 -22.64L-44.63 -19.78A48.81 48.81 0 0 0 -44.9 -19.15Z" fill="#5a8fd2"/>
<path d="M-50.62 -23.65A55.87 55.87 0 0 1 -50.29 -24.36L-43.93 -21.28A48.81 48.81 0 0 0 -44.22 -20.66Z" fill="#5a8fd2"/>
<path d="M-49.79 -25.35A55.87 55.87 0 0 1 -49.43 -26.05L-43.18 -22.76A48.81 48.81 0 0 0 -43.5 -22.15Z" fill="#5a8fd2"/>
<path d="M-48.9 -27.03A55.87 55.87 0 0 1 -48.52 -27.71L-42.39 -24.21A48.81 48.81 0 0 0 -42.72 -23.61Z" fill="#5a8fd2"/>
<path d="M-47.96 -28.67A55.87 55.87 0 0 1 -47.55 -29.34L-41.54 -25.63A48.81 48.81 0 0 0 -41.9 -25.05Z" fill="#5a8fd2"/>
<path d="M-46.96 -30.28A55.87 55.87 0 0 1 -46.53 -30.93L-40.65 -27.02A48.81 48.81 0 0 0 -41.02 -26.45Z" fill="#5a8fd2"/>
<path d="M-45.9 -31.85A55.87 55.87 0 0 1 -45.45 -32.49L-39.71 -28.39A48.81 48.81 0 0 0 -40.1 -27.83Z" fill="#5a8fd2"/>
<path d="M-44.8 -33.39A55.87 55.87 0 0 1 -44.33 -34.01L-38.73 -29.72A48.81 48.81 0 0 0 -39.14 -29.17Z" fill="#5a8fd2"/>
<path d="M-41.33 -37.6A55.87 55.87 0 0 1 -40.8 -38.18L-35.64 -33.35A48.81 48.81 0 0 0 -36.1 -32.85Z" fill="#5a8fd2"/>
<path d="M-39.82 -39.2A55.87 55.87 0 0 1 -39.27 -39.75L-34.3 -34.73A48.81 48.81 0 0 0 -34.79 -34.24Z" fill="#5a8fd2"/>
<path d="M-38.25 -40.73A55.87 55.87 0 0 1 -37.68 -41.26L-32.91 -36.05A48.81 48.81 0 0 0 -33.41 -35.58Z" fill="#5a8fd2"/>
<path d="M-34.32 -44.09A55.87 55.87 0 0 1 -33.86 -44.45L-29.58 -38.83A48.81 48.81 0 0 0 -29.99 -38.52Z" fill="#5a8fd2"/>
<path d="M-32.68 -45.32A55.87 55.87 0 0 1 -32.21 -45.66L-28.14 -39.89A48.81 48.81 0 0 0 -28.55 -39.59Z" fill="#5a8fd2"/>
<path d="M-30.43 -46.86A55.87 55.87 0 0 1 -29.77 -47.28L-26.01 -41.31A48.81 48.81 0 0 0 -26.59 -40.94Z" fill="#5a8fd2"/>
<path d="M-29.39 -47.52A55.87 55.87 0 0 1 -28.72 -47.93L-25.09 -41.87A48.81 48.81 0 0 0 -25.67 -41.52Z" fill="#5a8fd2"/>
<path d="M-28.33 -48.16A55.87 55.87 0 0 1 -27.65 -48.55L-24.16 -42.41A48.81 48.81 0 0 0 -24.75 -42.07Z" fill="#5a8fd2"/>
<path d="M-27.26 -48.77A55.87 55.87 0 0 1 -26.57 -49.15L-23.22 -42.94A48.81 48.81 0 0 0 -23.81 -42.61Z" fill="#5a8fd2"/>
<path d="M-21.02 -51.77A55.87 55.87 0 0 1 -20.48 -51.99L-17.89 -45.42A48.81 48.81 0 0 0 -18.36 -45.23Z" fill="#5a8fd2"/>
<path d="M-19.35 -52.41A55.87 55.87 0 0 1 -18.8 -52.61L-16.43 -45.97A48.81 48.81 0 0 0 -16.91 -45.79Z" fill="#5a8fd2"/>
<path d="M-17.67 -53.01A55.87 55.87 0 0 1 -17.11 -53.19L-14.95 -46.47A48.81 48.81 0 0 0 -15.43 -46.31Z" fill="#5a8fd2"/>
<path d="M-15.96 -53.54A55.87 55.87 0 0 1 -15.4 -53.71L-13.45 -46.92A48.81 48.81 0 0 0 -13.95 -46.78Z" fill="#5a8fd2"/>
</g>
<text x="7.6" y="238.3" font-size="10.8" font-family='"Liberation Sans", sans-serif' font-weight='bold' stroke='#000' stroke-width='0.35'>C</text>
<text x="267.6" y="238.3" font-size="10.8" font-family='"Liberation Sans", sans-serif' font-weight='bold' stroke='#000' stroke-width='0.35'>D</text>
<text x="7.8" y="365" font-size="10.8" font-family='"Liberation Sans", sans-serif' font-weight='bold' stroke='#000' stroke-width='0.35'>E</text>
<text x="268.2" y="365" font-size="10.8" font-family='"Liberation Sans", sans-serif' font-weight='bold' stroke='#000' stroke-width='0.35'>F</text>
<rect x="58.70" y="276.90" width="39.20" height="48.40" fill="#cd4b1e"/>
<rect x="58.70" y="258.70" width="39.20" height="18.20" fill="#82abd8"/>
<rect x="58.70" y="258.30" width="39.20" height="0.40" fill="#5a3b1e"/>
<rect x="117.20" y="273.40" width="38.80" height="51.90" fill="#cd4b1e"/>
<rect x="117.20" y="255.30" width="38.80" height="18.10" fill="#82abd8"/>
<rect x="117.20" y="254.90" width="38.80" height="0.40" fill="#5a3b1e"/>
<line x1="68.55" y1="274.30" x2="88.05" y2="274.30" stroke="#111" stroke-width="1.00"/>
<line x1="68.55" y1="258.50" x2="88.05" y2="258.50" stroke="#111" stroke-width="1.00"/>
<line x1="78.30" y1="274.30" x2="78.30" y2="276.90" stroke="#111" stroke-width="1.00"/>
<line x1="127.10" y1="270.40" x2="146.10" y2="270.40" stroke="#111" stroke-width="1.00"/>
<line x1="127.10" y1="255.20" x2="146.10" y2="255.20" stroke="#111" stroke-width="1.00"/>
<line x1="136.60" y1="270.40" x2="136.60" y2="273.40" stroke="#111" stroke-width="1.00"/>
<line x1="49.00" y1="244.80" x2="49.00" y2="325.80" stroke="#1a1a1a" stroke-width="1.10"/>
<line x1="48.50" y1="325.30" x2="166.00" y2="325.30" stroke="#1a1a1a" stroke-width="1.10"/>
<line x1="46.00" y1="325.30" x2="49.00" y2="325.30" stroke="#1a1a1a" stroke-width="1.00"/>
<text x="43.60" y="327.30" font-size="5.70" text-anchor="end" fill="#151515" font-family='"Liberation Sans", sans-serif'  stroke="#151515" stroke-width="0.1">0</text>
<line x1="46.00" y1="309.85" x2="49.00" y2="309.85" stroke="#1a1a1a" stroke-width="1.00"/>
<text x="43.60" y="311.85" font-size="5.70" text-anchor="end" fill="#151515" font-family='"Liberation Sans", sans-serif' textLength="9.40" lengthAdjust="spacingAndGlyphs" stroke="#151515" stroke-width="0.1">1.0</text>
<line x1="46.00" y1="294.40" x2="49.00" y2="294.40" stroke="#1a1a1a" stroke-width="1.00"/>
<text x="43.60" y="296.40" font-size="5.70" text-anchor="end" fill="#151515" font-family='"Liberation Sans", sans-serif' textLength="9.40" lengthAdjust="spacingAndGlyphs" stroke="#151515" stroke-width="0.1">2.0</text>
<line x1="46.00" y1="278.95" x2="49.00" y2="278.95" stroke="#1a1a1a" stroke-width="1.00"/>
<text x="43.60" y="280.95" font-size="5.70" text-anchor="end" fill="#151515" font-family='"Liberation Sans", sans-serif' textLength="9.40" lengthAdjust="spacingAndGlyphs" stroke="#151515" stroke-width="0.1">3.0</text>
<line x1="46.00" y1="263.50" x2="49.00" y2="263.50" stroke="#1a1a1a" stroke-width="1.00"/>
<text x="43.60" y="265.50" font-size="5.70" text-anchor="end" fill="#151515" font-family='"Liberation Sans", sans-serif' textLength="9.40" lengthAdjust="spacingAndGlyphs" stroke="#151515" stroke-width="0.1">4.0</text>
<line x1="46.00" y1="248.05" x2="49.00" y2="248.05" stroke="#1a1a1a" stroke-width="1.00"/>
<text x="43.60" y="250.05" font-size="5.70" text-anchor="end" fill="#151515" font-family='"Liberation Sans", sans-serif' textLength="9.40" lengthAdjust="spacingAndGlyphs" stroke="#151515" stroke-width="0.1">5.0</text>
<line x1="78.30" y1="325.30" x2="78.30" y2="328.30" stroke="#1a1a1a" stroke-width="1.00"/>
<line x1="136.60" y1="325.30" x2="136.60" y2="328.30" stroke="#1a1a1a" stroke-width="1.00"/>
<text x="78.30" y="337.80" font-size="6.30" text-anchor="middle" fill="#151515" font-family='"Liberation Sans", sans-serif'  stroke="#151515" stroke-width="0.1">Saline</text>
<text x="136.40" y="337.80" font-size="6.30" text-anchor="middle" fill="#151515" font-family='"Liberation Sans", sans-serif' textLength="12.1" lengthAdjust="spacingAndGlyphs" stroke="#151515" stroke-width="0.1">EGF</text>
<text transform="translate(27.3 282.6) rotate(-90)" font-size="6.5" text-anchor="middle" fill="#1a1a1a" font-family='"Liberation Sans", sans-serif'>Genomic variants (x 10<tspan font-size="4.2" dy="-2.5">5</tspan><tspan dy="2.5">)</tspan></text>
<rect x="183.50" y="251.30" width="8.30" height="3.80" fill="#5a3b1e"/>
<text x="194.90" y="255.20" font-size="5.65" text-anchor="start" fill="#151515" font-family='"Liberation Sans", sans-serif'  stroke="#151515" stroke-width="0.1">CNV</text>
<rect x="183.50" y="260.30" width="8.30" height="3.80" fill="#82abd8"/>
<text x="196.50" y="264.20" font-size="5.65" text-anchor="start" fill="#151515" font-family='"Liberation Sans", sans-serif'  stroke="#151515" stroke-width="0.1"> InDel</text>
<rect x="183.50" y="269.10" width="8.30" height="3.80" fill="#cd4b1e"/>
<text x="194.90" y="273.00" font-size="5.65" text-anchor="start" fill="#151515" font-family='"Liberation Sans", sans-serif'  stroke="#151515" stroke-width="0.1">SNP</text>
<rect x="317.90" y="304.10" width="36.10" height="21.10" fill="#a6002a"/>
<rect x="317.90" y="298.50" width="36.10" height="5.60" fill="#2b4b80"/>
<rect x="317.90" y="296.00" width="36.10" height="2.50" fill="#2e6a48"/>
<rect x="317.90" y="290.90" width="36.10" height="5.10" fill="#b3c48c"/>
<rect x="317.90" y="288.90" width="36.10" height="2.00" fill="#cacad2"/>
<rect x="317.90" y="287.70" width="36.10" height="1.20" fill="#f0960c"/>
<rect x="317.90" y="285.00" width="36.10" height="2.70" fill="#3f475e"/>
<rect x="317.90" y="284.70" width="36.10" height="0.30" fill="#a5621e"/>
<rect x="317.90" y="268.00" width="36.10" height="16.70" fill="#8b80c0"/>
<rect x="372.10" y="301.80" width="36.10" height="23.40" fill="#a6002a"/>
<rect x="372.10" y="296.00" width="36.10" height="5.80" fill="#2b4b80"/>
<rect x="372.10" y="293.00" width="36.10" height="3.00" fill="#2e6a48"/>
<rect x="372.10" y="288.10" width="36.10" height="4.90" fill="#b3c48c"/>
<rect x="372.10" y="285.90" width="36.10" height="2.20" fill="#cacad2"/>
<rect x="372.10" y="284.90" width="36.10" height="1.00" fill="#f0960c"/>
<rect x="372.10" y="281.60" width="36.10" height="3.30" fill="#3f475e"/>
<rect x="372.10" y="281.30" width="36.10" height="0.30" fill="#a5621e"/>
<rect x="372.10" y="263.00" width="36.10" height="18.30" fill="#8b80c0"/>
<line x1="326.90" y1="267.60" x2="345.10" y2="267.60" stroke="#111" stroke-width="1.00"/>
<line x1="326.90" y1="285.30" x2="345.10" y2="285.30" stroke="#111" stroke-width="1.00"/>
<line x1="326.90" y1="287.40" x2="345.10" y2="287.40" stroke="#111" stroke-width="1.00"/>
<line x1="326.90" y1="290.00" x2="345.10" y2="290.00" stroke="#111" stroke-width="1.00"/>
<line x1="326.90" y1="295.70" x2="345.10" y2="295.70" stroke="#111" stroke-width="1.00"/>
<line x1="326.90" y1="298.60" x2="345.10" y2="298.60" stroke="#111" stroke-width="1.00"/>
<line x1="326.90" y1="303.80" x2="345.10" y2="303.80" stroke="#111" stroke-width="1.00"/>
<line x1="381.00" y1="262.60" x2="399.40" y2="262.60" stroke="#111" stroke-width="1.00"/>
<line x1="381.00" y1="281.50" x2="399.40" y2="281.50" stroke="#111" stroke-width="1.00"/>
<line x1="381.00" y1="284.60" x2="399.40" y2="284.60" stroke="#111" stroke-width="1.00"/>
<line x1="381.00" y1="287.60" x2="399.40" y2="287.60" stroke="#111" stroke-width="1.00"/>
<line x1="381.00" y1="293.30" x2="399.40" y2="293.30" stroke="#111" stroke-width="1.00"/>
<line x1="381.00" y1="296.10" x2="399.40" y2="296.10" stroke="#111" stroke-width="1.00"/>
<line x1="381.00" y1="301.50" x2="399.40" y2="301.50" stroke="#111" stroke-width="1.00"/>
<line x1="308.30" y1="250.60" x2="308.30" y2="325.70" stroke="#1a1a1a" stroke-width="1.10"/>
<line x1="307.80" y1="325.20" x2="417.70" y2="325.20" stroke="#1a1a1a" stroke-width="1.10"/>
<line x1="305.30" y1="325.20" x2="308.30" y2="325.20" stroke="#1a1a1a" stroke-width="1.00"/>
<text x="303.20" y="327.20" font-size="5.70" text-anchor="end" fill="#151515" font-family='"Liberation Sans", sans-serif'  stroke="#151515" stroke-width="0.1">0</text>
<line x1="305.30" y1="307.18" x2="308.30" y2="307.18" stroke="#1a1a1a" stroke-width="1.00"/>
<text x="303.20" y="309.18" font-size="5.70" text-anchor="end" fill="#151515" font-family='"Liberation Sans", sans-serif' textLength="10.60" lengthAdjust="spacingAndGlyphs" stroke="#151515" stroke-width="0.1">200</text>
<line x1="305.30" y1="289.15" x2="308.30" y2="289.15" stroke="#1a1a1a" stroke-width="1.00"/>
<text x="303.20" y="291.15" font-size="5.70" text-anchor="end" fill="#151515" font-family='"Liberation Sans", sans-serif' textLength="10.60" lengthAdjust="spacingAndGlyphs" stroke="#151515" stroke-width="0.1">400</text>
<line x1="305.30" y1="271.12" x2="308.30" y2="271.12" stroke="#1a1a1a" stroke-width="1.00"/>
<text x="303.20" y="273.12" font-size="5.70" text-anchor="end" fill="#151515" font-family='"Liberation Sans", sans-serif' textLength="10.60" lengthAdjust="spacingAndGlyphs" stroke="#151515" stroke-width="0.1">600</text>
<line x1="305.30" y1="253.10" x2="308.30" y2="253.10" stroke="#1a1a1a" stroke-width="1.00"/>
<text x="303.20" y="255.10" font-size="5.70" text-anchor="end" fill="#151515" font-family='"Liberation Sans", sans-serif' textLength="10.60" lengthAdjust="spacingAndGlyphs" stroke="#151515" stroke-width="0.1">800</text>
<line x1="336.00" y1="325.20" x2="336.00" y2="328.20" stroke="#1a1a1a" stroke-width="1.00"/>
<line x1="390.20" y1="325.20" x2="390.20" y2="328.20" stroke="#1a1a1a" stroke-width="1.00"/>
<text x="336.00" y="337.80" font-size="6.30" text-anchor="middle" fill="#151515" font-family='"Liberation Sans", sans-serif'  stroke="#151515" stroke-width="0.1">Saline</text>
<text x="390.20" y="337.80" font-size="6.30" text-anchor="middle" fill="#151515" font-family='"Liberation Sans", sans-serif' textLength="12.1" lengthAdjust="spacingAndGlyphs" stroke="#151515" stroke-width="0.1">EGF</text>
<text transform="translate(285.50 288.00) rotate(-90)" font-size="6.50" text-anchor="middle" fill="#1a1a1a" font-family='"Liberation Sans", sans-serif' textLength="17.00" lengthAdjust="spacingAndGlyphs">CNVs</text>
<text x="390.30" y="318.00" font-size="7.40" text-anchor="middle" fill="#ffffff" font-family='"Liberation Sans", sans-serif' stroke="#ffffff" stroke-width="0.15" textLength="11.5" lengthAdjust="spacingAndGlyphs">****</text>
<rect x="431.60" y="256.20" width="8.30" height="3.80" fill="#8b80c0"/>
<text x="442.80" y="260.10" font-size="5.65" text-anchor="start" fill="#151515" font-family='"Liberation Sans", sans-serif'  stroke="#151515" stroke-width="0.1">chromosome number</text>
<rect x="431.60" y="264.70" width="8.30" height="3.80" fill="#a5621e"/>
<text x="442.80" y="268.60" font-size="5.65" text-anchor="start" fill="#151515" font-family='"Liberation Sans", sans-serif'  stroke="#151515" stroke-width="0.1">5'-UTR/3'-UTR</text>
<rect x="431.60" y="273.20" width="8.30" height="3.80" fill="#3f475e"/>
<text x="442.80" y="277.10" font-size="5.65" text-anchor="start" fill="#151515" font-family='"Liberation Sans", sans-serif'  stroke="#151515" stroke-width="0.1">splice site</text>
<rect x="431.60" y="281.30" width="8.30" height="3.80" fill="#f0960c"/>
<text x="442.80" y="285.20" font-size="5.65" text-anchor="start" fill="#151515" font-family='"Liberation Sans", sans-serif'  stroke="#151515" stroke-width="0.1">intragenic</text>
<rect x="431.60" y="289.60" width="8.30" height="3.80" fill="#cacad2"/>
<text x="442.80" y="293.50" font-size="5.65" text-anchor="start" fill="#151515" font-family='"Liberation Sans", sans-serif'  stroke="#151515" stroke-width="0.1">frameshift</text>
<rect x="431.60" y="297.90" width="8.30" height="3.80" fill="#b3c48c"/>
<text x="442.80" y="301.80" font-size="5.65" text-anchor="start" fill="#151515" font-family='"Liberation Sans", sans-serif'  stroke="#151515" stroke-width="0.1">upstream/downstream</text>
<rect x="431.60" y="306.20" width="8.30" height="3.80" fill="#2e6a48"/>
<text x="442.80" y="310.10" font-size="5.65" text-anchor="start" fill="#151515" font-family='"Liberation Sans", sans-serif'  stroke="#151515" stroke-width="0.1">non-coding transcript exon</text>
<rect x="431.60" y="314.40" width="8.30" height="3.80" fill="#2b4b80"/>
<text x="442.80" y="318.30" font-size="5.65" text-anchor="start" fill="#151515" font-family='"Liberation Sans", sans-serif'  stroke="#151515" stroke-width="0.1">intron</text>
<rect x="431.60" y="322.80" width="8.30" height="3.80" fill="#a6002a"/>
<text x="442.80" y="326.70" font-size="5.65" text-anchor="start" fill="#151515" font-family='"Liberation Sans", sans-serif'  stroke="#151515" stroke-width="0.1">intergenic</text>
<rect x="57.80" y="423.90" width="35.90" height="25.40" fill="#a6002a"/>
<rect x="57.80" y="403.80" width="35.90" height="20.10" fill="#2b4b80"/>
<rect x="57.80" y="394.10" width="35.90" height="9.70" fill="#b3c48c"/>
<rect x="57.80" y="392.70" width="35.90" height="1.40" fill="#d2a26c"/>
<rect x="111.70" y="422.10" width="35.60" height="27.20" fill="#a6002a"/>
<rect x="111.70" y="401.10" width="35.60" height="21.00" fill="#2b4b80"/>
<rect x="111.70" y="390.50" width="35.60" height="10.60" fill="#b3c48c"/>
<rect x="111.70" y="389.00" width="35.60" height="1.50" fill="#d2a26c"/>
<line x1="66.95" y1="393.40" x2="84.45" y2="393.40" stroke="#111" stroke-width="1.50"/>
<line x1="66.95" y1="403.50" x2="84.45" y2="403.50" stroke="#111" stroke-width="1.00"/>
<line x1="66.95" y1="423.40" x2="84.45" y2="423.40" stroke="#111" stroke-width="1.00"/>
<line x1="75.70" y1="403.50" x2="75.70" y2="404.50" stroke="#111" stroke-width="0.80"/>
<line x1="75.70" y1="423.40" x2="75.70" y2="424.60" stroke="#111" stroke-width="0.80"/>
<line x1="120.75" y1="389.60" x2="138.25" y2="389.60" stroke="#111" stroke-width="1.60"/>
<line x1="120.75" y1="399.60" x2="138.25" y2="399.60" stroke="#111" stroke-width="1.00"/>
<line x1="120.75" y1="420.30" x2="138.25" y2="420.30" stroke="#111" stroke-width="1.00"/>
<line x1="129.50" y1="399.60" x2="129.50" y2="401.20" stroke="#111" stroke-width="0.80"/>
<line x1="129.50" y1="420.30" x2="129.50" y2="422.20" stroke="#111" stroke-width="0.80"/>
<line x1="48.80" y1="374.60" x2="48.80" y2="449.80" stroke="#1a1a1a" stroke-width="1.10"/>
<line x1="48.30" y1="449.30" x2="155.40" y2="449.30" stroke="#1a1a1a" stroke-width="1.10"/>
<line x1="45.80" y1="449.30" x2="48.80" y2="449.30" stroke="#1a1a1a" stroke-width="1.00"/>
<text x="43.70" y="451.30" font-size="5.70" text-anchor="end" fill="#151515" font-family='"Liberation Sans", sans-serif'  stroke="#151515" stroke-width="0.1">0</text>
<line x1="45.80" y1="431.35" x2="48.80" y2="431.35" stroke="#1a1a1a" stroke-width="1.00"/>
<text x="43.70" y="433.35" font-size="5.70" text-anchor="end" fill="#151515" font-family='"Liberation Sans", sans-serif' textLength="9.40" lengthAdjust="spacingAndGlyphs" stroke="#151515" stroke-width="0.1">1.0</text>
<line x1="45.80" y1="413.40" x2="48.80" y2="413.40" stroke="#1a1a1a" stroke-width="1.00"/>
<text x="43.70" y="415.40" font-size="5.70" text-anchor="end" fill="#151515" font-family='"Liberation Sans", sans-serif' textLength="9.40" lengthAdjust="spacingAndGlyphs" stroke="#151515" stroke-width="0.1">2.0</text>
<line x1="45.80" y1="395.45" x2="48.80" y2="395.45" stroke="#1a1a1a" stroke-width="1.00"/>
<text x="43.70" y="397.45" font-size="5.70" text-anchor="end" fill="#151515" font-family='"Liberation Sans", sans-serif' textLength="9.40" lengthAdjust="spacingAndGlyphs" stroke="#151515" stroke-width="0.1">3.0</text>
<line x1="45.80" y1="377.50" x2="48.80" y2="377.50" stroke="#1a1a1a" stroke-width="1.00"/>
<text x="43.70" y="379.50" font-size="5.70" text-anchor="end" fill="#151515" font-family='"Liberation Sans", sans-serif' textLength="9.40" lengthAdjust="spacingAndGlyphs" stroke="#151515" stroke-width="0.1">4.0</text>
<line x1="75.70" y1="449.30" x2="75.70" y2="452.30" stroke="#1a1a1a" stroke-width="1.00"/>
<line x1="129.50" y1="449.30" x2="129.50" y2="452.30" stroke="#1a1a1a" stroke-width="1.00"/>
<text x="75.80" y="461.60" font-size="6.30" text-anchor="middle" fill="#151515" font-family='"Liberation Sans", sans-serif'  stroke="#151515" stroke-width="0.1">Saline</text>
<text x="129.50" y="461.60" font-size="6.30" text-anchor="middle" fill="#151515" font-family='"Liberation Sans", sans-serif' textLength="12.1" lengthAdjust="spacingAndGlyphs" stroke="#151515" stroke-width="0.1">EGF</text>
<text transform="translate(27.4 411.5) rotate(-90)" font-size="6.5" text-anchor="middle" fill="#1a1a1a" font-family='"Liberation Sans", sans-serif'>SNPs (x 10<tspan font-size="4.2" dy="-2.5">5</tspan><tspan dy="2.5">)</tspan></text>
<rect x="172.30" y="372.20" width="8.30" height="3.80" fill="#6eaae0"/>
<text x="184.70" y="376.10" font-size="5.65" text-anchor="start" fill="#151515" font-family='"Liberation Sans", sans-serif'  stroke="#151515" stroke-width="0.1">start/stop codon</text>
<rect x="172.30" y="380.60" width="8.30" height="3.80" fill="#a5621e"/>
<text x="184.70" y="384.50" font-size="5.65" text-anchor="start" fill="#151515" font-family='"Liberation Sans", sans-serif'  stroke="#151515" stroke-width="0.1">5'-UTR/3'-UTR</text>
<rect x="172.30" y="388.90" width="8.30" height="3.80" fill="#3f475e"/>
<text x="184.70" y="392.80" font-size="5.65" text-anchor="start" fill="#151515" font-family='"Liberation Sans", sans-serif'  stroke="#151515" stroke-width="0.1">splice site</text>
<rect x="172.30" y="397.10" width="8.30" height="3.80" fill="#cacad2"/>
<text x="184.70" y="401.00" font-size="5.65" text-anchor="start" fill="#151515" font-family='"Liberation Sans", sans-serif'  stroke="#151515" stroke-width="0.1">synonymous</text>
<rect x="172.30" y="405.40" width="8.30" height="3.80" fill="#f0b90a"/>
<text x="184.70" y="409.30" font-size="5.65" text-anchor="start" fill="#151515" font-family='"Liberation Sans", sans-serif'  stroke="#151515" stroke-width="0.1">missense</text>
<rect x="172.30" y="413.60" width="8.30" height="3.80" fill="#b3c48c"/>
<text x="184.70" y="417.50" font-size="5.65" text-anchor="start" fill="#151515" font-family='"Liberation Sans", sans-serif'  stroke="#151515" stroke-width="0.1">upstream/downstream</text>
<rect x="172.30" y="421.90" width="8.30" height="3.80" fill="#2e6a48"/>
<text x="184.70" y="425.80" font-size="5.65" text-anchor="start" fill="#151515" font-family='"Liberation Sans", sans-serif'  stroke="#151515" stroke-width="0.1">non-coding transcript exon</text>
<rect x="172.30" y="430.20" width="8.30" height="3.80" fill="#2b4b80"/>
<text x="184.70" y="434.10" font-size="5.65" text-anchor="start" fill="#151515" font-family='"Liberation Sans", sans-serif'  stroke="#151515" stroke-width="0.1">intron</text>
<rect x="172.30" y="438.40" width="8.30" height="3.80" fill="#a6002a"/>
<text x="184.70" y="442.30" font-size="5.65" text-anchor="start" fill="#151515" font-family='"Liberation Sans", sans-serif'  stroke="#151515" stroke-width="0.1">intergenic</text>
<rect x="317.80" y="426.40" width="36.10" height="22.90" fill="#a6002a"/>
<rect x="317.80" y="404.90" width="36.10" height="21.50" fill="#2b4b80"/>
<rect x="317.80" y="395.60" width="36.10" height="9.30" fill="#b3c48c"/>
<rect x="317.80" y="394.30" width="36.10" height="1.30" fill="#d2a26c"/>
<rect x="372.20" y="426.40" width="36.00" height="22.90" fill="#a6002a"/>
<rect x="372.20" y="404.90" width="36.00" height="21.50" fill="#2b4b80"/>
<rect x="372.20" y="395.60" width="36.00" height="9.30" fill="#b3c48c"/>
<rect x="372.20" y="394.30" width="36.00" height="1.30" fill="#d2a26c"/>
<line x1="326.85" y1="395.20" x2="345.15" y2="395.20" stroke="#111" stroke-width="1.00"/>
<line x1="326.85" y1="405.00" x2="345.15" y2="405.00" stroke="#111" stroke-width="1.00"/>
<line x1="326.85" y1="426.30" x2="345.15" y2="426.30" stroke="#111" stroke-width="1.00"/>
<line x1="381.05" y1="395.20" x2="399.35" y2="395.20" stroke="#111" stroke-width="1.00"/>
<line x1="381.05" y1="405.00" x2="399.35" y2="405.00" stroke="#111" stroke-width="1.00"/>
<line x1="381.05" y1="426.30" x2="399.35" y2="426.30" stroke="#111" stroke-width="1.00"/>
<line x1="308.70" y1="374.80" x2="308.70" y2="449.80" stroke="#1a1a1a" stroke-width="1.10"/>
<line x1="308.20" y1="449.30" x2="415.40" y2="449.30" stroke="#1a1a1a" stroke-width="1.10"/>
<line x1="305.70" y1="449.30" x2="308.70" y2="449.30" stroke="#1a1a1a" stroke-width="1.00"/>
<text x="303.40" y="451.30" font-size="5.70" text-anchor="end" fill="#151515" font-family='"Liberation Sans", sans-serif'  stroke="#151515" stroke-width="0.1">0</text>
<line x1="305.70" y1="425.20" x2="308.70" y2="425.20" stroke="#1a1a1a" stroke-width="1.00"/>
<text x="303.40" y="427.20" font-size="5.70" text-anchor="end" fill="#151515" font-family='"Liberation Sans", sans-serif' textLength="9.40" lengthAdjust="spacingAndGlyphs" stroke="#151515" stroke-width="0.1">0.5</text>
<line x1="305.70" y1="401.00" x2="308.70" y2="401.00" stroke="#1a1a1a" stroke-width="1.00"/>
<text x="303.40" y="403.00" font-size="5.70" text-anchor="end" fill="#151515" font-family='"Liberation Sans", sans-serif' textLength="9.40" lengthAdjust="spacingAndGlyphs" stroke="#151515" stroke-width="0.1">1.0</text>
<line x1="305.70" y1="376.90" x2="308.70" y2="376.90" stroke="#1a1a1a" stroke-width="1.00"/>
<text x="303.40" y="378.90" font-size="5.70" text-anchor="end" fill="#151515" font-family='"Liberation Sans", sans-serif' textLength="9.40" lengthAdjust="spacingAndGlyphs" stroke="#151515" stroke-width="0.1">1.5</text>
<line x1="336.00" y1="449.30" x2="336.00" y2="452.30" stroke="#1a1a1a" stroke-width="1.00"/>
<line x1="390.20" y1="449.30" x2="390.20" y2="452.30" stroke="#1a1a1a" stroke-width="1.00"/>
<text x="336.00" y="461.60" font-size="6.30" text-anchor="middle" fill="#151515" font-family='"Liberation Sans", sans-serif'  stroke="#151515" stroke-width="0.1">Saline</text>
<text x="390.20" y="461.60" font-size="6.30" text-anchor="middle" fill="#151515" font-family='"Liberation Sans", sans-serif' textLength="12.1" lengthAdjust="spacingAndGlyphs" stroke="#151515" stroke-width="0.1">EGF</text>
<text transform="translate(287.6 411) rotate(-90)" font-size="6.7" text-anchor="middle" fill="#1a1a1a" font-family='"Liberation Sans", sans-serif'>InDels (x 10<tspan font-size="4.2" dy="-2.5">5</tspan><tspan dy="2.5">)</tspan></text>
<rect x="433.70" y="379.90" width="8.30" height="3.80" fill="#a5621e"/>
<text x="444.90" y="383.80" font-size="5.65" text-anchor="start" fill="#151515" font-family='"Liberation Sans", sans-serif'  stroke="#151515" stroke-width="0.1">5'-UTR/3'-UTR</text>
<rect x="433.70" y="388.20" width="8.30" height="3.80" fill="#3f475e"/>
<text x="444.90" y="392.10" font-size="5.65" text-anchor="start" fill="#151515" font-family='"Liberation Sans", sans-serif'  stroke="#151515" stroke-width="0.1">splice site</text>
<rect x="433.70" y="396.50" width="8.30" height="3.80" fill="#f0960c"/>
<text x="444.90" y="400.40" font-size="5.65" text-anchor="start" fill="#151515" font-family='"Liberation Sans", sans-serif'  stroke="#151515" stroke-width="0.1">intragenic</text>
<rect x="433.70" y="404.80" width="8.30" height="3.80" fill="#cacad2"/>
<text x="444.90" y="408.70" font-size="5.65" text-anchor="start" fill="#151515" font-family='"Liberation Sans", sans-serif'  stroke="#151515" stroke-width="0.1">frameshift</text>
<rect x="433.70" y="413.10" width="8.30" height="3.80" fill="#b3c48c"/>
<text x="444.90" y="417.00" font-size="5.65" text-anchor="start" fill="#151515" font-family='"Liberation Sans", sans-serif'  stroke="#151515" stroke-width="0.1">upstream/downstream</text>
<rect x="433.70" y="421.50" width="8.30" height="3.80" fill="#2e6a48"/>
<text x="444.90" y="425.40" font-size="5.65" text-anchor="start" fill="#151515" font-family='"Liberation Sans", sans-serif'  stroke="#151515" stroke-width="0.1">non-coding transcript exon</text>
<rect x="433.70" y="429.80" width="8.30" height="3.80" fill="#2b4b80"/>
<text x="444.90" y="433.70" font-size="5.65" text-anchor="start" fill="#151515" font-family='"Liberation Sans", sans-serif'  stroke="#151515" stroke-width="0.1">intron</text>
<rect x="433.70" y="438.10" width="8.30" height="3.80" fill="#a6002a"/>
<text x="444.90" y="442.00" font-size="5.65" text-anchor="start" fill="#151515" font-family='"Liberation Sans", sans-serif'  stroke="#151515" stroke-width="0.1">intergenic</text>
<g fill="#d24a1c"><rect x="14.90" y="160.60" width="0.95" height="7.50"/><rect x="16.60" y="160.60" width="0.95" height="7.50"/><rect x="12.9" y="166.80" width="7.2" height="1.3"/><path d="M13.8 166.80 L14.9 166.80 L14.9 165.50 Z M19.2 166.80 L17.6 166.80 L17.6 165.50 Z"/></g>
<g fill="#6f9fdc"><rect x="14.90" y="171.60" width="0.95" height="7.50"/><rect x="16.60" y="171.60" width="0.95" height="7.50"/><rect x="12.9" y="177.80" width="7.2" height="1.3"/><path d="M13.8 177.80 L14.9 177.80 L14.9 176.50 Z M19.2 177.80 L17.6 177.80 L17.6 176.50 Z"/></g>
<text x="24.1" y="166.9" font-size="6.0" fill="#333" textLength="10.6" lengthAdjust="spacingAndGlyphs" font-family='"Liberation Sans", sans-serif'>SNP</text>
<text x="24.1" y="177.2" font-size="6.0" fill="#333" textLength="12.7" lengthAdjust="spacingAndGlyphs" font-family='"Liberation Sans", sans-serif'>InDel</text>
<line x1="11.5" y1="185.3" x2="20.7" y2="185.3" stroke="#d9532c" stroke-width="1.05"/>
<line x1="11.5" y1="194.0" x2="20.7" y2="194.0" stroke="#a3c2e8" stroke-width="1.05"/>
<text x="24.1" y="187.3" font-size="5.75" fill="#333" textLength="41" lengthAdjust="spacingAndGlyphs" font-family='"Liberation Sans", sans-serif'>CNV duplication</text>
<text x="24.1" y="195.9" font-size="5.75" fill="#333" textLength="33.5" lengthAdjust="spacingAndGlyphs" font-family='"Liberation Sans", sans-serif'>CNV deletion</text></svg></body></html>
